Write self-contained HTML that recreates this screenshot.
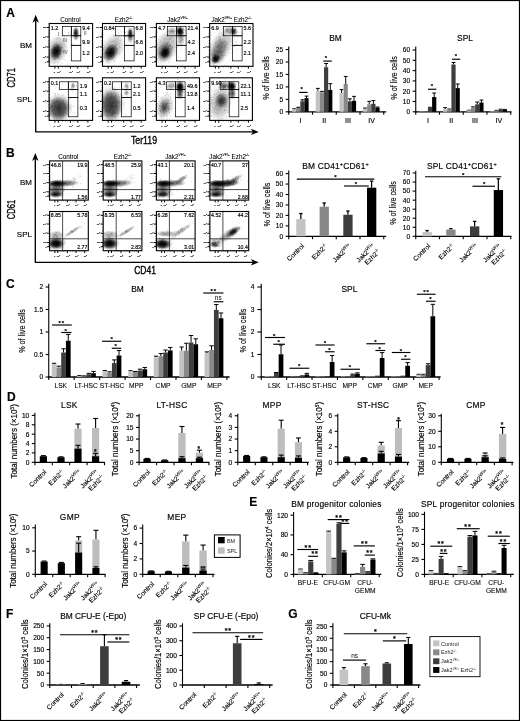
<!DOCTYPE html>
<html><head><meta charset="utf-8"><title>Figure</title>
<style>
html,body{margin:0;padding:0;background:#fff}
body{width:520px;height:721px;overflow:hidden}
svg{display:block;font-family:"Liberation Sans",sans-serif;fill:#000}
svg text{stroke:#000;stroke-width:.15px}
svg path{fill:none}
</style></head><body>
<svg width="520" height="721" viewBox="0 0 520 721">
<rect x="0" y="0" width="520" height="721" fill="#fff"/>
<rect x="0.5" y="0.5" width="519" height="720" fill="none" stroke="#000" stroke-width="1.2"/>
<defs>
<radialGradient id="gd"><stop offset="0" stop-color="#000" stop-opacity="1"/><stop offset=".45" stop-color="#000" stop-opacity=".75"/><stop offset="1" stop-color="#000" stop-opacity="0"/></radialGradient>
<radialGradient id="gm"><stop offset="0" stop-color="#000" stop-opacity=".7"/><stop offset=".5" stop-color="#000" stop-opacity=".42"/><stop offset="1" stop-color="#000" stop-opacity="0"/></radialGradient>
<radialGradient id="gl"><stop offset="0" stop-color="#000" stop-opacity=".36"/><stop offset=".6" stop-color="#000" stop-opacity=".19"/><stop offset="1" stop-color="#000" stop-opacity="0"/></radialGradient>
<radialGradient id="gf"><stop offset="0" stop-color="#000" stop-opacity=".66"/><stop offset=".55" stop-color="#000" stop-opacity=".52"/><stop offset="1" stop-color="#000" stop-opacity="0"/></radialGradient>
</defs>
<text transform="translate(6.2 16.7)" font-size="12" font-weight="bold">A</text>
<path d="M35.7 20.3L35.7 131.9" stroke="#000" stroke-width="1.35"/>
<path d="M35.7 14.7L38.9 22.7L35.7 20.46L32.5 22.7Z" style="fill:#000"/>
<path d="M35.25 131.9L253.2 131.9" stroke="#000" stroke-width="1.35"/>
<path d="M258.8 131.9L250.8 128.7L253.04 131.9L250.8 135.1Z" style="fill:#000"/>
<text transform="translate(14.6 77.8) rotate(-90) scale(.72 1)" font-size="10.6" text-anchor="middle" style="stroke-width:.35px">CD71</text>
<text transform="translate(144 143.8) scale(.88 1)" font-size="10" text-anchor="middle" style="stroke-width:.35px">Ter119</text>
<text transform="translate(26 47.9)" font-size="8" text-anchor="middle">BM</text>
<text transform="translate(24.4 102.2)" font-size="8" text-anchor="middle">SPL</text>
<text transform="translate(70.4 21.7)" font-size="6.3" text-anchor="middle" style="stroke-width:.07px">Control</text>
<text transform="translate(123.55 21.7)" font-size="6.3" text-anchor="middle" style="stroke-width:.07px">Ezh2<tspan font-size="3.4" dy="-2.6">-/-</tspan></text>
<text transform="translate(177.45 21.7)" font-size="6.3" text-anchor="middle" style="stroke-width:.07px">Jak2<tspan font-size="3.4" dy="-2.6">VF/+</tspan></text>
<text transform="translate(231.35 21.7)" font-size="6.3" text-anchor="middle" style="stroke-width:.07px">Jak2<tspan font-size="3.4" dy="-2.6">VF/+</tspan><tspan dy="2.6"> Ezh2</tspan><tspan font-size="3.4" dy="-2.6">-/-</tspan></text>
<clipPath id="c1"><rect x="49.2" y="23.5" width="43.4" height="42.8"/></clipPath>
<g clip-path="url(#c1)">
<ellipse cx="56.2" cy="51.5" rx="6.5" ry="9" fill="url(#gd)" transform="rotate(15 56.2 51.5)"/>
<ellipse cx="57" cy="50" rx="11" ry="16" fill="url(#gl)" transform="rotate(20 57 50)"/>
<ellipse cx="75.9" cy="33.6" rx="3.4" ry="7.5" fill="url(#gm)" transform="rotate(0 75.9 33.6)"/>
<ellipse cx="75.9" cy="32.8" rx="2.3" ry="4.6" fill="url(#gm)" transform="rotate(0 75.9 32.8)"/>
<path d="M58.6 58.9h.5M57.3 48.2h.5M52.7 50.7h.5M54.7 44.4h.5M56.7 52.2h.5M59.0 48.0h.5M56.3 51.2h.5M50.8 52.6h.5M54.4 62.2h.5M57.0 51.0h.5M59.8 53.4h.5M59.5 50.7h.5M55.7 56.1h.5M58.2 52.6h.5M52.3 52.5h.5M55.6 54.7h.5M55.6 56.4h.5M55.8 52.3h.5M59.6 47.3h.5M55.5 49.0h.5M62.5 52.8h.5M57.5 54.7h.5M57.1 44.5h.5M59.7 50.5h.5M60.0 46.4h.5M53.4 56.6h.5M62.2 47.0h.5M52.1 50.2h.5M58.3 52.8h.5M58.3 47.5h.5M56.7 56.8h.5M56.5 44.9h.5M52.9 54.2h.5M50.9 49.6h.5M53.2 50.1h.5M55.4 51.4h.5M60.4 54.6h.5M60.6 52.0h.5M54.3 52.7h.5M58.1 46.3h.5M58.3 49.5h.5M53.7 48.4h.5M54.3 56.8h.5M56.6 51.5h.5M59.5 44.0h.5M61.3 47.9h.5M58.9 47.0h.5M53.6 49.0h.5M61.3 56.1h.5M54.6 49.8h.5M52.6 50.4h.5M53.6 54.2h.5M52.3 48.9h.5M54.4 47.7h.5M58.3 52.6h.5M56.7 57.2h.5M61.4 46.5h.5M59.9 44.3h.5M53.8 59.8h.5M56.0 49.7h.5M56.7 51.7h.5M57.2 48.2h.5M58.6 56.3h.5M55.2 52.7h.5M57.1 56.5h.5M56.6 54.9h.5M56.6 46.6h.5M53.5 55.5h.5M59.1 53.0h.5M54.1 52.4h.5M59.8 58.8h.5M54.1 50.7h.5M53.0 45.3h.5M56.8 51.8h.5M57.8 57.8h.5M57.3 57.9h.5M55.8 46.1h.5M54.7 63.6h.5M58.7 46.8h.5M55.3 57.9h.5M52.0 54.1h.5M52.8 56.5h.5M58.3 53.5h.5M63.0 51.4h.5M51.9 59.0h.5M50.9 60.3h.5M57.3 47.0h.5M56.0 52.1h.5M57.1 50.8h.5M62.3 42.3h.5M54.8 49.9h.5M64.2 44.4h.5M56.5 46.2h.5M53.4 53.7h.5M55.8 58.1h.5M54.0 52.2h.5M58.8 56.4h.5M53.8 56.1h.5M51.2 58.6h.5M56.8 51.1h.5M56.1 55.4h.5M61.8 52.3h.5M54.4 53.7h.5M55.4 43.4h.5M59.3 50.6h.5M60.9 48.0h.5M54.8 58.6h.5M57.5 53.3h.5M58.5 50.4h.5M58.0 45.7h.5M58.8 48.4h.5M54.0 54.2h.5M60.2 47.9h.5M63.2 50.6h.5M58.7 58.7h.5M57.7 51.7h.5M63.9 60.1h.5M64.3 37.1h.5M50.0 57.3h.5M60.6 43.2h.5M54.5 46.5h.5M59.5 54.2h.5M64.4 45.7h.5M63.5 48.1h.5M50.7 62.5h.5M57.8 49.1h.5M57.0 46.7h.5M61.3 63.3h.5M60.2 52.7h.5M62.6 51.4h.5M58.2 53.9h.5M52.9 62.6h.5M62.4 63.3h.5M61.9 47.9h.5M53.8 58.5h.5M60.7 58.6h.5M57.6 50.5h.5M61.6 50.9h.5M54.1 43.6h.5M55.4 52.2h.5M72.4 44.0h.5M59.7 50.2h.5M54.9 60.7h.5M63.8 51.2h.5M57.8 38.7h.5M53.2 59.2h.5M53.7 54.8h.5M59.6 54.3h.5M62.9 51.2h.5M55.9 39.6h.5M62.8 49.0h.5M53.1 55.7h.5M61.9 47.3h.5M50.8 56.9h.5M52.6 43.0h.5M56.5 51.5h.5M56.0 52.9h.5M55.5 48.4h.5M61.8 57.2h.5M50.0 62.0h.5M57.8 58.6h.5M58.6 47.3h.5M60.6 49.6h.5M67.3 29.4h.5M61.1 44.8h.5M59.8 57.4h.5M61.9 48.3h.5M60.2 48.2h.5M58.5 49.4h.5M66.4 35.9h.5M65.4 41.2h.5M57.4 45.2h.5M53.6 50.8h.5M59.3 38.5h.5M56.0 52.7h.5M67.3 50.2h.5M51.9 44.9h.5M62.8 44.6h.5M51.8 52.8h.5M56.3 51.6h.5M56.0 42.6h.5M55.7 48.2h.5M54.1 52.6h.5M58.3 55.1h.5M61.9 44.2h.5M56.7 50.9h.5M51.6 46.2h.5M56.1 42.3h.5M57.8 37.6h.5M54.3 58.9h.5M53.1 49.4h.5M49.5 53.0h.5M70.0 44.2h.5M51.9 60.3h.5M58.6 51.6h.5M57.8 62.5h.5M61.9 46.8h.5M58.4 35.0h.5M60.1 39.7h.5M68.4 39.9h.5M64.4 49.9h.5M56.9 55.7h.5M54.9 60.1h.5M58.0 47.6h.5M57.5 37.9h.5M50.7 56.1h.5M57.5 62.0h.5M69.1 60.5h.5M63.2 41.1h.5M49.7 66.1h.5M60.1 50.0h.5M63.8 36.3h.5M56.3 38.6h.5M62.5 50.5h.5M61.5 43.1h.5M57.3 56.6h.5M60.7 64.6h.5M59.9 50.0h.5M54.4 43.9h.5M58.6 55.4h.5M52.5 62.5h.5M60.3 51.3h.5M55.8 50.2h.5M74.3 29.9h.5M76.5 31.4h.5M75.4 38.2h.5M75.6 38.5h.5M75.9 39.3h.5M76.7 27.0h.5M78.0 32.8h.5M72.6 34.0h.5M76.2 28.8h.5M74.9 35.7h.5M78.3 37.9h.5M78.0 37.8h.5M71.7 30.9h.5M76.2 23.5h.5M77.2 36.9h.5M74.6 32.2h.5M74.3 33.5h.5M75.8 33.6h.5M74.2 35.1h.5M75.3 37.2h.5M76.4 28.0h.5M73.4 33.9h.5M75.1 35.4h.5M77.3 33.7h.5M73.0 29.1h.5M76.9 29.7h.5M77.8 33.3h.5M76.8 30.3h.5M75.5 35.8h.5M74.4 30.4h.5M75.8 33.8h.5M74.5 36.1h.5M73.1 37.8h.5M73.5 30.5h.5M78.2 29.9h.5M73.1 33.9h.5M74.3 29.4h.5M74.7 30.8h.5M74.2 29.7h.5M78.6 31.1h.5M77.6 28.3h.5M76.8 28.9h.5M75.1 36.0h.5M75.0 26.2h.5M75.0 33.0h.5M76.9 29.9h.5M75.4 33.8h.5M73.1 33.2h.5M74.9 33.8h.5M75.8 32.4h.5M73.1 32.5h.5M75.5 30.6h.5M75.3 29.9h.5M76.1 34.3h.5M76.6 31.6h.5M77.8 34.8h.5M74.8 32.5h.5M74.0 32.5h.5M76.7 35.7h.5M75.4 28.7h.5M75.7 35.9h.5M76.1 35.7h.5M76.9 36.4h.5M76.6 31.3h.5M76.4 38.6h.5M75.3 28.5h.5M77.4 35.0h.5M67.8 32.5h.5M64.6 35.8h.5M70.5 32.4h.5M68.5 32.9h.5M73.7 33.5h.5M74.8 31.9h.5M67.9 32.8h.5M68.1 33.8h.5M73.6 37.0h.5M66.2 37.2h.5M70.3 38.0h.5M69.4 31.9h.5M72.8 35.6h.5M68.4 34.1h.5M70.5 34.8h.5M64.0 31.0h.5M70.2 34.6h.5" stroke="#000" stroke-width=".5" opacity=".45"/>
</g>
<rect x="49.2" y="23.5" width="43.4" height="42.8" fill="none" stroke="#000" stroke-width="1.1"/>
<path d="M46.7 27.5L49.2 27.5" stroke="#000" stroke-width="1"/>
<path d="M46.7 36.9L49.2 36.9" stroke="#000" stroke-width="1"/>
<path d="M46.7 47L49.2 47" stroke="#000" stroke-width="1"/>
<path d="M46.7 57.1L49.2 57.1" stroke="#000" stroke-width="1"/>
<path d="M46.7 61.8L49.2 61.8" stroke="#000" stroke-width="1"/>
<path d="M54.9 66.3L54.9 68.6" stroke="#000" stroke-width="1"/>
<path d="M58.3 66.3L58.3 68.6" stroke="#000" stroke-width="1"/>
<path d="M70.4 66.3L70.4 68.6" stroke="#000" stroke-width="1"/>
<path d="M77.8 66.3L77.8 68.6" stroke="#000" stroke-width="1"/>
<path d="M87.9 66.3L87.9 68.6" stroke="#000" stroke-width="1"/>
<path d="M48 30.79L49.2 30.79" stroke="#000" stroke-width=".4"/>
<path d="M48 33.14L49.2 33.14" stroke="#000" stroke-width=".4"/>
<path d="M48 35.02L49.2 35.02" stroke="#000" stroke-width=".4"/>
<path d="M48 40.44L49.2 40.44" stroke="#000" stroke-width=".4"/>
<path d="M48 42.96L49.2 42.96" stroke="#000" stroke-width=".4"/>
<path d="M48 44.98L49.2 44.98" stroke="#000" stroke-width=".4"/>
<path d="M48 50.53L49.2 50.53" stroke="#000" stroke-width=".4"/>
<path d="M48 53.06L49.2 53.06" stroke="#000" stroke-width=".4"/>
<path d="M48 55.08L49.2 55.08" stroke="#000" stroke-width=".4"/>
<path d="M48 58.74L49.2 58.74" stroke="#000" stroke-width=".4"/>
<path d="M48 59.92L49.2 59.92" stroke="#000" stroke-width=".4"/>
<path d="M48 60.86L49.2 60.86" stroke="#000" stroke-width=".4"/>
<path d="M62.54 66.3L62.54 67.5" stroke="#000" stroke-width=".4"/>
<path d="M65.56 66.3L65.56 67.5" stroke="#000" stroke-width=".4"/>
<path d="M67.98 66.3L67.98 67.5" stroke="#000" stroke-width=".4"/>
<path d="M72.99 66.3L72.99 67.5" stroke="#000" stroke-width=".4"/>
<path d="M74.84 66.3L74.84 67.5" stroke="#000" stroke-width=".4"/>
<path d="M76.32 66.3L76.32 67.5" stroke="#000" stroke-width=".4"/>
<path d="M81.34 66.3L81.34 67.5" stroke="#000" stroke-width=".4"/>
<path d="M83.86 66.3L83.86 67.5" stroke="#000" stroke-width=".4"/>
<path d="M85.88 66.3L85.88 67.5" stroke="#000" stroke-width=".4"/>
<text transform="translate(46.2 28.4)" font-size="2.4" text-anchor="end" style="fill:#222;stroke:#222">10<tspan font-size="1.6" dy="-.9">5</tspan></text>
<text transform="translate(46.2 37.8)" font-size="2.4" text-anchor="end" style="fill:#222;stroke:#222">10<tspan font-size="1.6" dy="-.9">4</tspan></text>
<text transform="translate(46.2 47.9)" font-size="2.4" text-anchor="end" style="fill:#222;stroke:#222">10<tspan font-size="1.6" dy="-.9">3</tspan></text>
<text transform="translate(46.2 58)" font-size="2.4" text-anchor="end" style="fill:#222;stroke:#222">10<tspan font-size="1.6" dy="-.9">2</tspan></text>
<text transform="translate(46.2 62.7)" font-size="2.4" text-anchor="end" style="fill:#222;stroke:#222">0</text>
<text transform="translate(54.5 72.5)" font-size="2.4" text-anchor="middle" style="fill:#222;stroke:#222">0</text>
<text transform="translate(58.9 72.5)" font-size="2.4" text-anchor="middle" style="fill:#222;stroke:#222">10<tspan font-size="1.6" dy="-.9">2</tspan></text>
<text transform="translate(71 72.5)" font-size="2.4" text-anchor="middle" style="fill:#222;stroke:#222">10<tspan font-size="1.6" dy="-.9">3</tspan></text>
<text transform="translate(78.4 72.5)" font-size="2.4" text-anchor="middle" style="fill:#222;stroke:#222">10<tspan font-size="1.6" dy="-.9">4</tspan></text>
<text transform="translate(88.5 72.5)" font-size="2.4" text-anchor="middle" style="fill:#222;stroke:#222">10<tspan font-size="1.6" dy="-.9">5</tspan></text>
<rect x="62.3" y="26.4" width="9" height="9.4" fill="none" stroke="#000" stroke-width=".7"/>
<rect x="71.3" y="26.4" width="9.5" height="9.4" fill="none" stroke="#000" stroke-width=".7"/>
<rect x="71.3" y="35.8" width="9.5" height="9.5" fill="none" stroke="#000" stroke-width=".7"/>
<rect x="71.3" y="45.3" width="9.5" height="15.6" fill="none" stroke="#000" stroke-width=".7"/>
<text transform="translate(50.8 30.1)" font-size="5.4">1.2</text>
<text transform="translate(82.3 30.1)" font-size="5.4">9.4</text>
<text transform="translate(82.3 43.5)" font-size="5.4">9.9</text>
<text transform="translate(82.3 55.2)" font-size="5.4">1.2</text>
<clipPath id="c2"><rect x="102.5" y="23.5" width="43.1" height="42.8"/></clipPath>
<g clip-path="url(#c2)">
<ellipse cx="110.5" cy="52.5" rx="7" ry="9.5" fill="url(#gd)" transform="rotate(30 110.5 52.5)"/>
<ellipse cx="112" cy="49" rx="11" ry="17" fill="url(#gl)" transform="rotate(30 112 49)"/>
<ellipse cx="130.3" cy="35" rx="3.5" ry="8" fill="url(#gm)" transform="rotate(0 130.3 35)"/>
<ellipse cx="130.3" cy="33.6" rx="2.4" ry="5" fill="url(#gm)" transform="rotate(0 130.3 33.6)"/>
<path d="M119.2 53.9h.5M111.3 53.8h.5M116.4 48.2h.5M111.0 48.7h.5M109.2 47.1h.5M109.6 50.4h.5M106.7 52.6h.5M116.4 38.4h.5M115.0 53.0h.5M107.6 52.3h.5M111.1 53.1h.5M107.5 51.8h.5M107.2 49.4h.5M110.0 53.4h.5M108.6 54.1h.5M111.0 49.7h.5M117.4 50.4h.5M115.0 43.2h.5M115.1 45.5h.5M112.6 52.9h.5M114.4 46.1h.5M106.2 51.6h.5M103.3 49.1h.5M104.8 49.2h.5M102.8 57.1h.5M114.8 51.4h.5M106.5 45.1h.5M112.6 47.5h.5M108.9 56.4h.5M111.3 49.8h.5M113.5 51.9h.5M113.8 51.9h.5M116.1 53.4h.5M106.9 50.3h.5M110.7 46.7h.5M108.2 54.6h.5M103.9 47.7h.5M110.3 50.9h.5M116.0 47.7h.5M113.0 52.0h.5M111.3 51.0h.5M110.7 49.0h.5M106.6 61.3h.5M111.6 57.3h.5M113.3 50.8h.5M107.3 61.6h.5M104.5 53.1h.5M112.9 54.9h.5M109.5 59.2h.5M114.1 61.4h.5M114.7 56.3h.5M112.6 54.3h.5M112.5 50.7h.5M109.0 59.4h.5M109.4 52.9h.5M112.3 53.4h.5M112.7 54.9h.5M109.4 45.9h.5M111.2 56.1h.5M113.2 55.2h.5M114.9 46.1h.5M117.0 50.9h.5M116.4 49.4h.5M108.1 51.8h.5M110.8 48.7h.5M111.6 56.7h.5M112.5 51.6h.5M109.1 48.9h.5M108.9 51.3h.5M113.2 53.0h.5M109.5 48.4h.5M114.0 55.3h.5M110.5 54.0h.5M112.0 54.0h.5M112.1 57.9h.5M122.5 52.3h.5M108.3 57.1h.5M107.3 58.0h.5M109.6 45.1h.5M111.7 49.1h.5M105.9 52.9h.5M111.3 53.0h.5M108.6 52.9h.5M111.9 49.3h.5M111.2 54.9h.5M109.1 55.5h.5M107.5 50.0h.5M105.7 57.1h.5M107.0 62.1h.5M116.1 53.7h.5M106.0 52.6h.5M110.0 51.4h.5M105.9 53.1h.5M110.1 54.5h.5M113.6 49.3h.5M104.4 47.5h.5M109.8 49.2h.5M113.6 53.8h.5M114.6 55.9h.5M111.4 55.8h.5M115.9 48.7h.5M113.5 54.9h.5M106.1 53.3h.5M108.5 58.4h.5M111.8 55.3h.5M113.2 58.3h.5M109.0 58.3h.5M106.2 53.9h.5M112.9 48.4h.5M110.8 54.6h.5M113.4 59.4h.5M110.3 41.6h.5M112.5 47.2h.5M113.7 35.7h.5M116.0 39.9h.5M105.0 53.4h.5M116.3 44.1h.5M107.4 44.5h.5M122.4 50.0h.5M123.6 48.0h.5M108.0 53.5h.5M108.1 47.3h.5M102.7 50.1h.5M120.3 47.4h.5M114.6 46.5h.5M111.5 56.8h.5M113.1 51.3h.5M131.1 42.1h.5M112.3 45.0h.5M108.1 53.5h.5M114.2 37.2h.5M104.7 49.3h.5M113.1 57.6h.5M121.8 49.6h.5M113.8 56.8h.5M114.4 43.0h.5M119.1 46.4h.5M114.7 41.0h.5M120.5 53.4h.5M110.7 45.8h.5M110.5 49.0h.5M108.8 35.7h.5M109.8 58.4h.5M106.7 47.0h.5M118.9 30.6h.5M115.1 40.1h.5M117.0 49.8h.5M118.0 38.1h.5M121.0 35.0h.5M107.2 59.7h.5M102.6 51.9h.5M119.6 51.4h.5M117.0 52.7h.5M118.2 32.8h.5M113.2 35.1h.5M122.2 57.4h.5M116.9 38.5h.5M125.1 45.2h.5M114.5 61.1h.5M115.2 44.3h.5M117.4 39.1h.5M107.9 63.2h.5M111.8 59.2h.5M107.4 49.3h.5M109.0 42.8h.5M112.2 49.4h.5M113.6 36.1h.5M104.3 45.9h.5M107.2 52.9h.5M110.9 48.3h.5M115.6 59.0h.5M109.4 62.0h.5M117.3 42.3h.5M114.9 35.3h.5M115.4 47.0h.5M110.9 56.6h.5M107.3 48.1h.5M117.7 53.1h.5M117.3 50.1h.5M108.4 44.7h.5M103.8 57.5h.5M105.6 46.5h.5M114.5 48.4h.5M117.1 44.5h.5M112.9 35.6h.5M112.8 41.4h.5M114.7 46.9h.5M112.0 41.7h.5M104.5 41.0h.5M119.7 40.2h.5M107.9 53.3h.5M107.8 48.5h.5M113.6 61.7h.5M105.9 51.9h.5M109.7 51.2h.5M108.5 48.6h.5M107.0 49.0h.5M126.4 43.7h.5M103.5 49.1h.5M117.4 48.4h.5M113.0 53.8h.5M108.7 60.8h.5M106.0 52.1h.5M115.9 44.4h.5M120.0 40.7h.5M119.3 48.0h.5M117.4 29.8h.5M118.7 36.5h.5M126.9 40.8h.5M124.1 28.7h.5M104.6 57.9h.5M113.4 41.6h.5M108.1 50.4h.5M117.3 49.7h.5M112.1 50.7h.5M106.1 53.1h.5M124.9 46.4h.5M116.9 41.4h.5M109.5 45.6h.5M118.0 44.0h.5M104.6 58.4h.5M111.4 55.6h.5M114.8 48.6h.5M111.8 54.0h.5M107.5 56.7h.5M108.1 55.7h.5M108.9 54.5h.5M111.2 42.8h.5M131.2 35.8h.5M131.4 31.6h.5M130.5 32.9h.5M127.0 33.9h.5M128.7 40.8h.5M129.0 32.4h.5M132.0 34.9h.5M127.9 35.9h.5M128.9 42.0h.5M128.4 31.9h.5M125.4 32.2h.5M133.6 34.5h.5M128.6 36.2h.5M129.8 34.8h.5M134.8 43.2h.5M133.2 41.8h.5M128.6 27.0h.5M131.6 36.6h.5M130.4 34.5h.5M131.6 37.3h.5M130.8 37.0h.5M129.9 33.5h.5M132.8 34.0h.5M133.9 37.6h.5M130.4 39.6h.5M129.4 34.2h.5M129.7 35.0h.5M131.5 43.5h.5M131.2 30.6h.5M128.8 27.6h.5M131.6 38.6h.5M130.9 36.5h.5M131.2 36.7h.5M131.5 35.9h.5M128.5 38.8h.5M132.7 28.3h.5M129.9 30.3h.5M131.2 33.8h.5M132.8 39.5h.5M129.5 33.0h.5M129.2 37.3h.5M128.6 36.8h.5M127.8 39.3h.5M131.1 30.2h.5M128.9 35.6h.5M130.7 41.2h.5M129.5 29.4h.5M132.5 36.0h.5M130.6 37.5h.5M128.1 32.2h.5M128.3 30.3h.5M129.7 30.7h.5M133.2 37.0h.5M131.8 28.2h.5M129.9 34.4h.5M130.6 36.8h.5M128.9 31.2h.5M131.5 39.4h.5M132.8 32.9h.5M129.3 34.1h.5M130.9 38.1h.5M130.0 31.7h.5M131.6 31.7h.5M129.2 35.0h.5M130.1 30.9h.5M130.0 32.5h.5M130.0 31.7h.5M131.0 32.7h.5M129.6 36.3h.5M129.2 35.5h.5M131.0 32.8h.5M130.6 29.8h.5M130.6 30.9h.5M129.2 34.2h.5M129.4 33.9h.5M125.2 36.6h.5M125.2 36.6h.5M121.7 33.0h.5M126.0 37.0h.5M125.4 32.6h.5M120.7 31.6h.5M127.4 31.5h.5M123.3 35.6h.5M125.3 32.2h.5M130.0 34.4h.5M124.8 36.1h.5M123.0 35.7h.5M123.6 31.7h.5" stroke="#000" stroke-width=".5" opacity=".45"/>
</g>
<rect x="102.5" y="23.5" width="43.1" height="42.8" fill="none" stroke="#000" stroke-width="1.1"/>
<path d="M100 27.5L102.5 27.5" stroke="#000" stroke-width="1"/>
<path d="M100 36.9L102.5 36.9" stroke="#000" stroke-width="1"/>
<path d="M100 47L102.5 47" stroke="#000" stroke-width="1"/>
<path d="M100 57.1L102.5 57.1" stroke="#000" stroke-width="1"/>
<path d="M100 61.8L102.5 61.8" stroke="#000" stroke-width="1"/>
<path d="M108.2 66.3L108.2 68.6" stroke="#000" stroke-width="1"/>
<path d="M111.6 66.3L111.6 68.6" stroke="#000" stroke-width="1"/>
<path d="M123.7 66.3L123.7 68.6" stroke="#000" stroke-width="1"/>
<path d="M131.1 66.3L131.1 68.6" stroke="#000" stroke-width="1"/>
<path d="M141.2 66.3L141.2 68.6" stroke="#000" stroke-width="1"/>
<path d="M101.3 30.79L102.5 30.79" stroke="#000" stroke-width=".4"/>
<path d="M101.3 33.14L102.5 33.14" stroke="#000" stroke-width=".4"/>
<path d="M101.3 35.02L102.5 35.02" stroke="#000" stroke-width=".4"/>
<path d="M101.3 40.44L102.5 40.44" stroke="#000" stroke-width=".4"/>
<path d="M101.3 42.96L102.5 42.96" stroke="#000" stroke-width=".4"/>
<path d="M101.3 44.98L102.5 44.98" stroke="#000" stroke-width=".4"/>
<path d="M101.3 50.53L102.5 50.53" stroke="#000" stroke-width=".4"/>
<path d="M101.3 53.06L102.5 53.06" stroke="#000" stroke-width=".4"/>
<path d="M101.3 55.08L102.5 55.08" stroke="#000" stroke-width=".4"/>
<path d="M101.3 58.74L102.5 58.74" stroke="#000" stroke-width=".4"/>
<path d="M101.3 59.92L102.5 59.92" stroke="#000" stroke-width=".4"/>
<path d="M101.3 60.86L102.5 60.86" stroke="#000" stroke-width=".4"/>
<path d="M115.83 66.3L115.83 67.5" stroke="#000" stroke-width=".4"/>
<path d="M118.86 66.3L118.86 67.5" stroke="#000" stroke-width=".4"/>
<path d="M121.28 66.3L121.28 67.5" stroke="#000" stroke-width=".4"/>
<path d="M126.29 66.3L126.29 67.5" stroke="#000" stroke-width=".4"/>
<path d="M128.14 66.3L128.14 67.5" stroke="#000" stroke-width=".4"/>
<path d="M129.62 66.3L129.62 67.5" stroke="#000" stroke-width=".4"/>
<path d="M134.63 66.3L134.63 67.5" stroke="#000" stroke-width=".4"/>
<path d="M137.16 66.3L137.16 67.5" stroke="#000" stroke-width=".4"/>
<path d="M139.18 66.3L139.18 67.5" stroke="#000" stroke-width=".4"/>
<text transform="translate(99.5 28.4)" font-size="2.4" text-anchor="end" style="fill:#222;stroke:#222">10<tspan font-size="1.6" dy="-.9">5</tspan></text>
<text transform="translate(99.5 37.8)" font-size="2.4" text-anchor="end" style="fill:#222;stroke:#222">10<tspan font-size="1.6" dy="-.9">4</tspan></text>
<text transform="translate(99.5 47.9)" font-size="2.4" text-anchor="end" style="fill:#222;stroke:#222">10<tspan font-size="1.6" dy="-.9">3</tspan></text>
<text transform="translate(99.5 58)" font-size="2.4" text-anchor="end" style="fill:#222;stroke:#222">10<tspan font-size="1.6" dy="-.9">2</tspan></text>
<text transform="translate(99.5 62.7)" font-size="2.4" text-anchor="end" style="fill:#222;stroke:#222">0</text>
<text transform="translate(107.8 72.5)" font-size="2.4" text-anchor="middle" style="fill:#222;stroke:#222">0</text>
<text transform="translate(112.2 72.5)" font-size="2.4" text-anchor="middle" style="fill:#222;stroke:#222">10<tspan font-size="1.6" dy="-.9">2</tspan></text>
<text transform="translate(124.3 72.5)" font-size="2.4" text-anchor="middle" style="fill:#222;stroke:#222">10<tspan font-size="1.6" dy="-.9">3</tspan></text>
<text transform="translate(131.7 72.5)" font-size="2.4" text-anchor="middle" style="fill:#222;stroke:#222">10<tspan font-size="1.6" dy="-.9">4</tspan></text>
<text transform="translate(141.8 72.5)" font-size="2.4" text-anchor="middle" style="fill:#222;stroke:#222">10<tspan font-size="1.6" dy="-.9">5</tspan></text>
<rect x="115.6" y="26.4" width="9" height="9.4" fill="none" stroke="#000" stroke-width=".7"/>
<rect x="124.6" y="26.4" width="9.5" height="9.4" fill="none" stroke="#000" stroke-width=".7"/>
<rect x="124.6" y="35.8" width="9.5" height="9.5" fill="none" stroke="#000" stroke-width=".7"/>
<rect x="124.6" y="45.3" width="9.5" height="15.6" fill="none" stroke="#000" stroke-width=".7"/>
<text transform="translate(104.1 30.1)" font-size="5.4">0.84</text>
<text transform="translate(135.6 30.1)" font-size="5.4">6.8</text>
<text transform="translate(135.6 43.5)" font-size="5.4">6.6</text>
<text transform="translate(135.6 55.2)" font-size="5.4">2.0</text>
<clipPath id="c3"><rect x="156.4" y="23.5" width="43.1" height="42.8"/></clipPath>
<g clip-path="url(#c3)">
<ellipse cx="165" cy="52.8" rx="5" ry="6" fill="url(#gd)" transform="rotate(20 165 52.8)"/>
<ellipse cx="165" cy="52" rx="8" ry="10" fill="url(#gm)" transform="rotate(20 165 52)"/>
<ellipse cx="166" cy="47" rx="12" ry="19" fill="url(#gl)" transform="rotate(25 166 47)"/>
<ellipse cx="180" cy="31.3" rx="4.6" ry="5.4" fill="url(#gd)" transform="rotate(0 180 31.3)"/>
<ellipse cx="180" cy="31.3" rx="3" ry="3.5" fill="url(#gm)" transform="rotate(0 180 31.3)"/>
<ellipse cx="181" cy="38" rx="4" ry="9" fill="url(#gl)" transform="rotate(0 181 38)"/>
<ellipse cx="172" cy="31" rx="5" ry="4" fill="url(#gl)" transform="rotate(0 172 31)"/>
<path d="M163.9 56.4h.5M161.8 54.8h.5M164.7 51.8h.5M169.3 54.9h.5M164.2 54.8h.5M167.7 53.7h.5M167.4 50.6h.5M164.6 51.3h.5M163.4 47.4h.5M161.4 50.7h.5M164.9 51.7h.5M166.5 49.1h.5M164.6 53.4h.5M167.6 51.1h.5M166.1 46.8h.5M166.1 46.2h.5M160.5 54.7h.5M159.0 53.2h.5M166.1 52.2h.5M165.5 54.7h.5M167.7 53.0h.5M164.2 50.6h.5M162.7 51.8h.5M162.1 55.1h.5M161.7 48.1h.5M164.9 46.1h.5M171.9 47.6h.5M164.9 51.1h.5M170.9 48.6h.5M168.3 51.7h.5M165.3 50.8h.5M167.7 50.1h.5M164.5 53.7h.5M171.8 47.6h.5M167.6 56.8h.5M163.6 53.2h.5M162.2 57.0h.5M165.7 52.4h.5M164.7 52.0h.5M165.5 50.2h.5M171.8 49.2h.5M156.7 49.4h.5M164.3 53.7h.5M164.7 52.2h.5M164.8 55.8h.5M164.3 51.4h.5M169.0 56.0h.5M160.3 58.5h.5M167.4 51.8h.5M161.9 52.6h.5M164.1 49.1h.5M162.5 50.3h.5M168.0 52.5h.5M160.9 53.4h.5M163.8 56.1h.5M169.8 52.9h.5M164.5 51.6h.5M159.6 53.6h.5M169.9 54.7h.5M164.6 50.5h.5M163.4 47.2h.5M164.9 47.5h.5M166.1 44.0h.5M166.2 52.7h.5M164.6 39.6h.5M163.1 57.2h.5M163.1 48.7h.5M161.7 54.3h.5M159.9 55.4h.5M162.3 55.9h.5M165.5 51.0h.5M160.6 46.7h.5M162.9 54.7h.5M167.1 49.1h.5M164.9 57.2h.5M165.2 49.7h.5M162.1 55.3h.5M168.6 48.4h.5M167.2 50.3h.5M160.1 56.8h.5M169.3 49.7h.5M164.4 54.5h.5M162.8 50.6h.5M170.6 44.5h.5M165.0 55.9h.5M169.2 46.4h.5M167.7 48.4h.5M166.1 55.6h.5M167.1 48.7h.5M161.3 55.2h.5M160.8 53.1h.5M167.4 51.4h.5M173.9 55.6h.5M176.5 45.5h.5M167.9 51.4h.5M168.1 43.0h.5M164.4 46.3h.5M162.7 55.9h.5M164.6 53.8h.5M163.1 49.0h.5M165.9 50.8h.5M171.3 49.6h.5M173.8 50.0h.5M170.3 49.8h.5M171.0 54.9h.5M165.2 56.0h.5M164.4 46.2h.5M163.4 48.3h.5M161.5 61.3h.5M158.1 50.8h.5M162.6 54.0h.5M158.9 47.7h.5M165.5 60.5h.5M172.5 50.2h.5M165.4 51.6h.5M162.3 43.3h.5M167.4 54.2h.5M162.4 57.5h.5M160.3 53.1h.5M165.1 51.7h.5M166.5 53.5h.5M165.5 53.6h.5M172.8 53.2h.5M167.8 56.2h.5M162.3 55.3h.5M159.8 56.3h.5M162.8 48.6h.5M164.8 56.4h.5M166.9 57.4h.5M165.9 47.2h.5M166.6 54.2h.5M159.8 55.3h.5M167.4 47.8h.5M168.9 46.4h.5M161.0 52.7h.5M159.1 50.0h.5M158.7 53.6h.5M162.0 51.9h.5M159.9 48.3h.5M167.8 55.4h.5M156.5 53.8h.5M169.0 51.5h.5M178.0 41.5h.5M161.1 56.4h.5M168.0 61.3h.5M167.2 28.9h.5M173.9 35.7h.5M170.4 35.6h.5M168.5 56.6h.5M169.0 48.6h.5M167.4 44.6h.5M167.1 50.1h.5M170.2 44.5h.5M175.2 54.2h.5M168.2 62.0h.5M168.0 30.2h.5M174.4 46.9h.5M167.5 45.0h.5M171.5 37.1h.5M167.3 42.7h.5M175.3 26.9h.5M169.1 51.9h.5M159.6 36.3h.5M163.6 52.5h.5M160.4 58.9h.5M170.1 38.4h.5M159.3 51.7h.5M159.3 52.7h.5M169.2 54.7h.5M172.2 48.1h.5M168.3 41.9h.5M169.0 32.0h.5M167.3 36.4h.5M157.6 44.6h.5M169.8 45.2h.5M169.7 58.6h.5M174.1 44.5h.5M164.8 54.0h.5M163.2 58.9h.5M161.8 52.0h.5M170.4 24.8h.5M157.6 58.8h.5M163.9 41.8h.5M165.4 48.9h.5M160.2 45.6h.5M165.1 55.3h.5M158.0 45.1h.5M173.6 38.5h.5M156.6 44.6h.5M172.6 41.8h.5M174.7 24.6h.5M161.6 46.5h.5M160.5 61.0h.5M168.8 24.7h.5M170.8 43.1h.5M164.7 53.9h.5M163.5 60.9h.5M180.0 36.1h.5M157.6 64.1h.5M159.9 54.3h.5M167.4 43.2h.5M170.4 60.0h.5M161.0 54.2h.5M161.8 37.4h.5M170.7 49.6h.5M158.4 48.2h.5M162.6 58.9h.5M172.3 47.1h.5M163.9 44.6h.5M158.9 59.0h.5M169.2 62.7h.5M169.0 45.9h.5M172.3 46.3h.5M174.0 33.3h.5M157.9 58.3h.5M166.4 31.6h.5M158.4 60.9h.5M175.3 47.6h.5M163.8 44.8h.5M160.8 44.9h.5M170.3 33.5h.5M163.9 43.3h.5M165.8 35.2h.5M163.3 65.6h.5M166.1 42.6h.5M169.7 46.3h.5M163.3 38.1h.5M165.9 37.7h.5M162.4 51.4h.5M171.2 56.4h.5M171.2 36.3h.5M169.4 38.7h.5M161.5 55.2h.5M168.0 45.7h.5M162.0 44.9h.5M170.3 39.3h.5M159.7 53.3h.5M158.7 39.0h.5M167.2 53.0h.5M167.0 50.5h.5M174.0 34.1h.5M165.0 52.8h.5M175.7 35.6h.5M164.7 43.2h.5M161.6 49.0h.5M160.0 41.8h.5M164.3 53.8h.5M167.2 45.0h.5M177.7 31.6h.5M172.3 46.7h.5M160.9 40.1h.5M164.2 24.7h.5M167.3 39.5h.5M173.5 41.2h.5M162.8 35.5h.5M175.2 51.6h.5M166.6 36.9h.5M160.7 42.8h.5M163.7 58.0h.5M171.1 52.2h.5M165.9 37.9h.5M157.5 32.4h.5M169.6 45.1h.5M173.4 36.3h.5M169.7 51.8h.5M164.6 50.6h.5M167.0 42.2h.5M174.9 40.1h.5M176.6 44.6h.5M169.4 39.0h.5M179.1 30.4h.5M173.0 41.7h.5M170.9 37.2h.5M166.5 49.2h.5M167.9 51.2h.5M165.4 57.1h.5M168.6 35.9h.5M159.7 55.1h.5M170.3 38.4h.5M163.1 66.0h.5M168.8 38.5h.5M157.8 52.5h.5M164.4 42.0h.5M169.7 48.8h.5M168.8 42.6h.5M161.9 46.8h.5M164.5 52.5h.5M161.9 48.7h.5M168.3 48.9h.5M165.0 57.2h.5M166.8 48.2h.5M159.4 47.4h.5M166.7 44.1h.5M159.2 49.8h.5M178.2 57.2h.5M164.7 51.0h.5M162.4 46.3h.5M165.0 39.8h.5M166.3 49.6h.5M168.6 39.9h.5M171.8 38.3h.5M171.6 46.0h.5M162.8 53.8h.5M174.2 37.3h.5M163.2 49.5h.5M169.7 23.5h.5M165.8 46.4h.5M168.0 48.8h.5M165.8 49.4h.5M171.5 54.7h.5M170.5 45.0h.5M172.9 48.2h.5M178.5 30.7h.5M167.7 46.8h.5M158.3 56.9h.5M168.8 46.8h.5M167.4 54.5h.5M156.6 56.3h.5M170.1 46.1h.5M179.8 26.9h.5M181.5 28.4h.5M181.9 30.1h.5M178.6 32.3h.5M180.5 28.3h.5M179.8 32.9h.5M179.4 27.7h.5M179.4 28.7h.5M178.7 31.4h.5M179.9 30.7h.5M176.2 32.2h.5M179.5 30.2h.5M180.4 36.5h.5M177.0 27.0h.5M181.7 29.2h.5M183.0 28.7h.5M178.9 33.5h.5M182.1 32.5h.5M181.0 31.0h.5M179.0 30.8h.5M182.9 33.2h.5M180.0 32.2h.5M181.9 34.5h.5M179.7 31.1h.5M180.8 38.3h.5M180.6 34.7h.5M176.5 33.6h.5M176.8 28.4h.5M178.6 30.9h.5M180.4 32.3h.5M180.5 30.1h.5M185.9 32.4h.5M181.5 36.7h.5M182.2 32.9h.5M180.7 36.3h.5M177.5 28.7h.5M180.3 25.8h.5M178.2 34.3h.5M178.9 31.7h.5M181.6 28.2h.5M180.6 29.6h.5M177.5 30.6h.5M179.9 30.2h.5M178.5 33.9h.5M182.6 32.8h.5M179.8 28.5h.5M178.1 28.3h.5M180.5 33.7h.5M182.1 31.2h.5M179.1 31.8h.5M180.3 32.9h.5M183.4 29.5h.5M184.8 25.7h.5M175.9 27.3h.5M177.7 30.7h.5M184.7 29.4h.5M182.5 30.3h.5M180.3 28.6h.5M185.2 31.2h.5M178.6 37.4h.5M180.4 32.4h.5M179.7 29.1h.5M176.7 30.8h.5M183.7 32.4h.5M179.6 34.1h.5M177.9 35.0h.5M180.0 29.1h.5M181.5 32.7h.5M179.2 31.9h.5M182.2 35.1h.5M178.1 24.3h.5M184.7 30.6h.5M179.0 32.4h.5M179.0 34.1h.5M177.2 30.8h.5M177.1 35.4h.5M179.4 34.2h.5M183.2 28.1h.5M179.5 33.2h.5M180.1 30.9h.5M181.9 33.7h.5M178.7 30.9h.5M181.5 31.9h.5M180.3 28.3h.5M184.0 30.7h.5M180.6 31.2h.5M180.1 31.7h.5M178.1 32.3h.5M182.7 32.4h.5M181.7 32.6h.5M181.1 46.1h.5M179.6 39.7h.5M183.0 39.3h.5M178.9 33.2h.5M184.1 33.7h.5M181.0 40.4h.5M181.2 30.1h.5M177.2 37.5h.5M179.5 36.8h.5M181.2 38.7h.5M178.3 30.5h.5M182.9 35.2h.5M178.7 29.1h.5M182.1 32.4h.5M178.9 40.8h.5M181.6 40.5h.5M178.5 25.2h.5M179.0 36.7h.5M179.7 42.0h.5M181.7 33.3h.5M182.1 37.3h.5M180.0 43.0h.5M177.7 42.6h.5M183.2 28.8h.5M180.6 37.3h.5M178.7 35.4h.5M179.4 38.3h.5M179.9 28.4h.5M183.4 42.0h.5M179.3 41.9h.5M185.0 31.0h.5M180.2 35.7h.5M182.1 36.6h.5M178.2 43.7h.5M180.4 41.3h.5M185.6 34.7h.5M180.2 42.1h.5M180.8 40.3h.5M181.0 50.6h.5M182.3 39.6h.5M181.3 39.7h.5M177.7 36.8h.5M182.5 32.6h.5M181.1 37.6h.5M180.0 49.2h.5M173.8 31.7h.5M170.0 31.2h.5M171.3 30.8h.5M172.6 36.0h.5M175.3 34.4h.5M175.4 36.7h.5M170.4 28.4h.5M172.5 31.5h.5M172.1 29.8h.5M173.7 34.5h.5M172.6 30.6h.5M175.0 30.4h.5M171.1 31.6h.5M166.3 34.8h.5M171.7 32.0h.5M172.8 31.8h.5M168.7 34.6h.5M173.4 31.6h.5M179.9 28.5h.5M173.9 30.8h.5M168.3 34.9h.5M168.1 31.3h.5M171.8 31.4h.5M169.7 33.7h.5M172.6 28.5h.5M169.0 31.6h.5M169.1 31.9h.5" stroke="#000" stroke-width=".5" opacity=".45"/>
</g>
<rect x="156.4" y="23.5" width="43.1" height="42.8" fill="none" stroke="#000" stroke-width="1.1"/>
<path d="M153.9 27.5L156.4 27.5" stroke="#000" stroke-width="1"/>
<path d="M153.9 36.9L156.4 36.9" stroke="#000" stroke-width="1"/>
<path d="M153.9 47L156.4 47" stroke="#000" stroke-width="1"/>
<path d="M153.9 57.1L156.4 57.1" stroke="#000" stroke-width="1"/>
<path d="M153.9 61.8L156.4 61.8" stroke="#000" stroke-width="1"/>
<path d="M162.1 66.3L162.1 68.6" stroke="#000" stroke-width="1"/>
<path d="M165.5 66.3L165.5 68.6" stroke="#000" stroke-width="1"/>
<path d="M177.6 66.3L177.6 68.6" stroke="#000" stroke-width="1"/>
<path d="M185 66.3L185 68.6" stroke="#000" stroke-width="1"/>
<path d="M195.1 66.3L195.1 68.6" stroke="#000" stroke-width="1"/>
<path d="M155.2 30.79L156.4 30.79" stroke="#000" stroke-width=".4"/>
<path d="M155.2 33.14L156.4 33.14" stroke="#000" stroke-width=".4"/>
<path d="M155.2 35.02L156.4 35.02" stroke="#000" stroke-width=".4"/>
<path d="M155.2 40.44L156.4 40.44" stroke="#000" stroke-width=".4"/>
<path d="M155.2 42.96L156.4 42.96" stroke="#000" stroke-width=".4"/>
<path d="M155.2 44.98L156.4 44.98" stroke="#000" stroke-width=".4"/>
<path d="M155.2 50.53L156.4 50.53" stroke="#000" stroke-width=".4"/>
<path d="M155.2 53.06L156.4 53.06" stroke="#000" stroke-width=".4"/>
<path d="M155.2 55.08L156.4 55.08" stroke="#000" stroke-width=".4"/>
<path d="M155.2 58.74L156.4 58.74" stroke="#000" stroke-width=".4"/>
<path d="M155.2 59.92L156.4 59.92" stroke="#000" stroke-width=".4"/>
<path d="M155.2 60.86L156.4 60.86" stroke="#000" stroke-width=".4"/>
<path d="M169.73 66.3L169.73 67.5" stroke="#000" stroke-width=".4"/>
<path d="M172.76 66.3L172.76 67.5" stroke="#000" stroke-width=".4"/>
<path d="M175.18 66.3L175.18 67.5" stroke="#000" stroke-width=".4"/>
<path d="M180.19 66.3L180.19 67.5" stroke="#000" stroke-width=".4"/>
<path d="M182.04 66.3L182.04 67.5" stroke="#000" stroke-width=".4"/>
<path d="M183.52 66.3L183.52 67.5" stroke="#000" stroke-width=".4"/>
<path d="M188.53 66.3L188.53 67.5" stroke="#000" stroke-width=".4"/>
<path d="M191.06 66.3L191.06 67.5" stroke="#000" stroke-width=".4"/>
<path d="M193.08 66.3L193.08 67.5" stroke="#000" stroke-width=".4"/>
<text transform="translate(153.4 28.4)" font-size="2.4" text-anchor="end" style="fill:#222;stroke:#222">10<tspan font-size="1.6" dy="-.9">5</tspan></text>
<text transform="translate(153.4 37.8)" font-size="2.4" text-anchor="end" style="fill:#222;stroke:#222">10<tspan font-size="1.6" dy="-.9">4</tspan></text>
<text transform="translate(153.4 47.9)" font-size="2.4" text-anchor="end" style="fill:#222;stroke:#222">10<tspan font-size="1.6" dy="-.9">3</tspan></text>
<text transform="translate(153.4 58)" font-size="2.4" text-anchor="end" style="fill:#222;stroke:#222">10<tspan font-size="1.6" dy="-.9">2</tspan></text>
<text transform="translate(153.4 62.7)" font-size="2.4" text-anchor="end" style="fill:#222;stroke:#222">0</text>
<text transform="translate(161.7 72.5)" font-size="2.4" text-anchor="middle" style="fill:#222;stroke:#222">0</text>
<text transform="translate(166.1 72.5)" font-size="2.4" text-anchor="middle" style="fill:#222;stroke:#222">10<tspan font-size="1.6" dy="-.9">2</tspan></text>
<text transform="translate(178.2 72.5)" font-size="2.4" text-anchor="middle" style="fill:#222;stroke:#222">10<tspan font-size="1.6" dy="-.9">3</tspan></text>
<text transform="translate(185.6 72.5)" font-size="2.4" text-anchor="middle" style="fill:#222;stroke:#222">10<tspan font-size="1.6" dy="-.9">4</tspan></text>
<text transform="translate(195.7 72.5)" font-size="2.4" text-anchor="middle" style="fill:#222;stroke:#222">10<tspan font-size="1.6" dy="-.9">5</tspan></text>
<rect x="167.6" y="26.4" width="9" height="9.4" fill="none" stroke="#000" stroke-width=".7"/>
<rect x="176.6" y="26.4" width="9.5" height="9.4" fill="none" stroke="#000" stroke-width=".7"/>
<rect x="176.6" y="35.8" width="9.5" height="9.5" fill="none" stroke="#000" stroke-width=".7"/>
<rect x="176.6" y="45.3" width="9.5" height="15.6" fill="none" stroke="#000" stroke-width=".7"/>
<text transform="translate(158 30.1)" font-size="5.4">4.7</text>
<text transform="translate(187.6 30.1)" font-size="5.4">21.4</text>
<text transform="translate(187.6 43.5)" font-size="5.4">4.2</text>
<text transform="translate(187.6 55.2)" font-size="5.4">2.4</text>
<clipPath id="c4"><rect x="209.7" y="23.5" width="43.3" height="42.8"/></clipPath>
<g clip-path="url(#c4)">
<ellipse cx="215.5" cy="59" rx="4.4" ry="5.2" fill="url(#gd)" transform="rotate(30 215.5 59)"/>
<ellipse cx="217" cy="57" rx="8" ry="9" fill="url(#gl)" transform="rotate(30 217 57)"/>
<ellipse cx="221" cy="46" rx="11" ry="18" fill="url(#gl)" transform="rotate(25 221 46)"/>
<ellipse cx="219" cy="50" rx="8" ry="13" fill="url(#gl)" transform="rotate(25 219 50)"/>
<ellipse cx="233.5" cy="31.5" rx="4.2" ry="5" fill="url(#gm)" transform="rotate(0 233.5 31.5)"/>
<ellipse cx="233.5" cy="31.5" rx="2.6" ry="3.2" fill="url(#gm)" transform="rotate(0 233.5 31.5)"/>
<ellipse cx="228" cy="30.5" rx="5" ry="4" fill="url(#gl)" transform="rotate(0 228 30.5)"/>
<path d="M215.0 60.1h.5M214.2 59.3h.5M216.7 60.9h.5M219.6 58.7h.5M216.5 57.5h.5M214.2 57.7h.5M215.4 60.2h.5M213.6 64.6h.5M219.2 56.4h.5M216.7 57.8h.5M212.8 61.4h.5M217.6 54.4h.5M216.5 58.7h.5M214.5 55.6h.5M214.3 58.3h.5M214.6 58.7h.5M220.0 59.2h.5M214.3 57.6h.5M218.5 58.6h.5M219.9 57.6h.5M213.6 57.7h.5M214.7 56.7h.5M215.4 61.1h.5M216.1 58.5h.5M217.5 61.4h.5M213.5 61.5h.5M213.6 58.4h.5M216.8 59.7h.5M213.9 59.2h.5M215.2 57.1h.5M211.9 60.8h.5M213.0 61.0h.5M216.6 58.8h.5M216.4 60.3h.5M217.5 56.0h.5M214.5 61.1h.5M215.1 61.8h.5M217.8 61.6h.5M221.2 57.8h.5M218.3 53.1h.5M216.9 60.1h.5M219.2 60.0h.5M210.0 59.6h.5M214.6 54.7h.5M214.3 60.2h.5M214.3 58.9h.5M215.2 59.2h.5M216.4 60.0h.5M217.1 57.1h.5M214.7 59.9h.5M217.6 59.9h.5M215.2 59.9h.5M216.3 60.1h.5M215.7 57.6h.5M217.3 60.9h.5M216.1 61.9h.5M217.1 56.9h.5M217.8 60.1h.5M214.3 61.4h.5M217.1 60.7h.5M212.8 63.7h.5M217.9 57.3h.5M216.7 60.2h.5M214.7 60.6h.5M213.3 63.8h.5M215.6 59.8h.5M218.4 59.0h.5M217.5 60.0h.5M218.9 58.4h.5M218.4 55.9h.5M214.6 58.6h.5M213.9 64.0h.5M220.7 58.0h.5M212.4 61.0h.5M218.1 56.4h.5M217.9 57.0h.5M215.5 55.2h.5M212.1 63.8h.5M216.4 59.2h.5M220.9 60.7h.5M215.6 58.2h.5M216.7 58.8h.5M218.6 59.9h.5M216.3 60.1h.5M215.1 55.9h.5M218.4 53.8h.5M215.4 59.2h.5M215.9 59.0h.5M219.0 56.4h.5M222.9 51.9h.5M222.1 55.4h.5M219.7 56.2h.5M217.3 53.1h.5M224.1 55.5h.5M212.3 55.4h.5M217.8 57.7h.5M215.1 52.6h.5M222.4 54.8h.5M217.5 61.1h.5M220.2 52.6h.5M223.3 61.3h.5M218.5 55.9h.5M214.3 54.1h.5M219.6 54.1h.5M214.8 61.7h.5M218.7 57.5h.5M218.6 62.7h.5M221.9 55.7h.5M218.0 55.7h.5M219.7 56.2h.5M210.8 62.8h.5M216.5 65.9h.5M216.7 59.5h.5M213.8 55.3h.5M211.0 50.6h.5M217.1 56.5h.5M212.7 60.6h.5M211.2 54.4h.5M215.5 56.4h.5M212.8 64.7h.5M210.3 60.1h.5M222.1 59.3h.5M217.7 51.0h.5M210.4 63.0h.5M221.1 52.4h.5M214.8 56.7h.5M219.5 53.6h.5M217.1 54.7h.5M218.1 59.0h.5M224.3 41.8h.5M227.0 43.3h.5M218.5 40.6h.5M220.6 42.8h.5M219.1 58.2h.5M216.2 51.2h.5M221.9 46.7h.5M232.1 45.4h.5M230.4 33.3h.5M224.4 45.9h.5M218.2 38.8h.5M214.5 32.5h.5M231.8 25.0h.5M222.7 56.4h.5M222.9 32.2h.5M218.9 32.4h.5M212.5 49.5h.5M230.8 41.2h.5M217.1 50.9h.5M213.0 54.6h.5M231.9 50.6h.5M214.7 48.9h.5M225.5 40.7h.5M220.0 46.4h.5M219.2 56.5h.5M223.5 34.3h.5M220.5 41.7h.5M229.0 60.8h.5M232.8 49.8h.5M219.6 40.1h.5M222.6 50.9h.5M214.4 65.4h.5M231.9 40.3h.5M220.9 51.9h.5M219.8 60.5h.5M222.7 35.5h.5M225.5 46.1h.5M218.5 43.9h.5M221.5 47.7h.5M218.2 49.3h.5M231.0 62.3h.5M210.7 61.4h.5M224.5 32.3h.5M221.9 26.1h.5M230.9 39.7h.5M216.0 38.1h.5M224.7 35.3h.5M218.2 44.6h.5M227.8 39.7h.5M222.8 49.3h.5M225.8 42.8h.5M211.5 51.1h.5M226.5 41.8h.5M214.4 49.7h.5M229.7 53.6h.5M232.4 54.3h.5M220.9 50.7h.5M232.2 36.1h.5M216.9 56.6h.5M212.3 44.2h.5M218.2 61.7h.5M228.9 49.4h.5M235.6 41.7h.5M228.7 38.2h.5M223.1 55.6h.5M226.3 44.0h.5M221.0 29.1h.5M220.5 44.2h.5M220.6 40.2h.5M230.0 38.8h.5M220.2 39.3h.5M233.2 33.6h.5M234.0 39.3h.5M221.7 33.4h.5M219.0 37.6h.5M225.9 47.6h.5M224.9 55.5h.5M214.7 43.2h.5M219.6 41.0h.5M220.2 49.3h.5M231.3 29.5h.5M222.0 41.8h.5M231.2 48.3h.5M220.8 45.9h.5M229.3 38.3h.5M220.8 44.6h.5M221.9 43.8h.5M217.9 45.3h.5M227.9 31.0h.5M215.9 53.0h.5M220.6 44.2h.5M228.8 29.9h.5M213.1 56.8h.5M228.6 34.5h.5M217.2 46.6h.5M230.4 52.7h.5M225.9 45.0h.5M225.1 37.8h.5M219.6 31.6h.5M213.2 54.8h.5M216.2 55.6h.5M224.3 49.0h.5M210.2 62.4h.5M221.9 58.8h.5M227.7 64.2h.5M220.7 49.6h.5M215.2 65.7h.5M222.9 28.6h.5M218.5 44.9h.5M214.5 52.2h.5M224.1 47.1h.5M214.0 61.9h.5M224.4 65.0h.5M214.4 55.2h.5M222.2 28.3h.5M226.2 57.2h.5M218.9 59.3h.5M228.3 52.3h.5M220.1 51.7h.5M224.6 49.6h.5M219.5 39.4h.5M224.2 47.1h.5M230.0 45.6h.5M222.9 46.4h.5M230.8 41.7h.5M222.6 30.1h.5M222.1 50.5h.5M221.4 54.8h.5M216.4 40.3h.5M210.9 53.8h.5M230.9 36.4h.5M223.3 48.4h.5M219.0 52.2h.5M219.2 42.2h.5M220.2 39.2h.5M211.4 53.3h.5M224.9 45.6h.5M220.4 48.0h.5M217.7 61.8h.5M228.5 26.2h.5M219.5 45.4h.5M212.6 56.9h.5M217.6 47.8h.5M214.1 50.6h.5M214.4 51.4h.5M221.1 47.9h.5M228.7 33.8h.5M217.9 47.0h.5M214.5 55.2h.5M228.2 42.4h.5M227.8 47.2h.5M219.1 57.6h.5M218.6 37.0h.5M221.6 44.2h.5M210.1 47.8h.5M221.1 48.3h.5M219.8 52.9h.5M215.7 47.0h.5M220.7 41.3h.5M212.1 54.1h.5M211.5 34.7h.5M225.7 45.2h.5M213.8 53.2h.5M217.4 41.7h.5M225.1 42.9h.5M218.2 45.6h.5M229.4 41.0h.5M223.9 46.9h.5M224.3 34.6h.5M227.5 54.9h.5M223.5 44.3h.5M231.5 44.7h.5M219.0 37.5h.5M219.6 48.7h.5M210.0 43.9h.5M218.3 55.6h.5M213.7 57.5h.5M233.1 46.4h.5M215.9 53.7h.5M227.0 49.0h.5M232.7 36.2h.5M224.0 52.0h.5M223.7 52.3h.5M226.1 44.2h.5M235.9 32.5h.5M224.7 41.7h.5M235.1 41.5h.5M221.7 46.3h.5M225.1 48.1h.5M216.2 42.6h.5M224.0 55.2h.5M222.2 34.4h.5M215.0 42.4h.5M221.6 42.9h.5M217.7 46.6h.5M223.8 57.5h.5M215.3 54.1h.5M214.6 57.3h.5M220.2 57.5h.5M224.2 60.1h.5M218.5 60.0h.5M216.2 46.6h.5M215.4 54.7h.5M222.6 42.9h.5M216.8 47.8h.5M218.6 46.7h.5M213.3 48.5h.5M215.4 45.7h.5M217.6 47.3h.5M225.4 50.1h.5M224.4 34.9h.5M215.1 50.1h.5M215.7 54.4h.5M215.7 54.4h.5M217.0 57.0h.5M215.5 55.0h.5M219.4 44.9h.5M227.0 44.0h.5M211.2 58.3h.5M218.6 52.7h.5M220.0 50.4h.5M226.1 53.8h.5M224.2 52.6h.5M217.3 47.4h.5M212.1 65.5h.5M215.6 51.7h.5M211.9 50.9h.5M217.5 52.3h.5M220.6 47.6h.5M219.2 50.3h.5M223.0 51.5h.5M222.1 42.3h.5M222.7 50.7h.5M212.4 55.7h.5M222.4 51.6h.5M222.9 42.5h.5M210.1 46.9h.5M211.8 51.4h.5M217.1 51.0h.5M215.9 51.7h.5M221.5 52.2h.5M235.1 33.5h.5M233.2 27.3h.5M234.9 30.0h.5M231.4 26.9h.5M229.8 34.9h.5M237.3 34.9h.5M237.8 26.7h.5M235.1 28.1h.5M230.4 33.1h.5M235.5 29.2h.5M230.1 27.6h.5M233.1 33.7h.5M237.7 32.6h.5M231.3 28.8h.5M233.6 33.1h.5M229.2 32.2h.5M232.2 33.6h.5M230.0 33.9h.5M236.5 35.0h.5M236.7 31.8h.5M233.7 28.7h.5M233.4 29.5h.5M234.8 33.3h.5M233.2 35.5h.5M230.7 30.1h.5M237.1 30.8h.5M234.9 25.1h.5M236.6 29.7h.5M232.1 33.9h.5M233.6 27.1h.5M236.3 29.1h.5M232.7 29.8h.5M232.5 30.4h.5M232.7 30.3h.5M238.7 32.2h.5M234.7 29.9h.5M237.2 32.8h.5M233.7 30.1h.5M235.1 27.1h.5M232.0 30.6h.5M234.2 31.8h.5M230.4 32.9h.5M232.5 30.1h.5M233.7 30.6h.5M232.5 30.5h.5M234.9 31.6h.5M233.9 29.8h.5M235.9 31.8h.5M231.9 34.2h.5M230.6 29.7h.5M235.1 30.3h.5M232.8 30.6h.5M233.5 32.6h.5M234.7 29.8h.5M226.7 26.5h.5M226.7 31.4h.5M228.0 32.8h.5M227.3 31.0h.5M230.1 28.2h.5M231.4 27.7h.5M227.3 26.8h.5M227.2 28.5h.5M230.3 26.4h.5M229.1 31.2h.5M229.3 32.4h.5M230.0 28.7h.5M229.5 29.0h.5M226.3 29.9h.5M226.7 29.3h.5M230.5 30.6h.5M223.2 28.9h.5M226.7 35.0h.5M228.6 29.4h.5M229.0 25.9h.5M231.7 29.8h.5M225.6 32.1h.5M226.0 28.3h.5M229.9 34.4h.5M227.1 30.3h.5M227.6 31.3h.5M226.9 30.7h.5M226.0 30.2h.5M230.0 27.5h.5M229.7 33.9h.5M226.3 29.7h.5M228.2 30.4h.5M225.3 32.1h.5M229.5 32.5h.5M229.7 29.3h.5M227.6 29.2h.5M241.1 40.0h.5M237.7 49.3h.5M235.7 43.1h.5M236.8 49.8h.5M233.6 43.3h.5M236.9 44.2h.5M234.4 46.5h.5M236.9 37.1h.5M233.9 51.8h.5M234.8 34.2h.5M236.8 36.6h.5M235.9 44.4h.5M234.2 35.1h.5M239.7 35.5h.5M233.7 41.9h.5M236.8 41.5h.5M234.2 46.4h.5M233.8 37.9h.5" stroke="#000" stroke-width=".5" opacity=".45"/>
</g>
<rect x="209.7" y="23.5" width="43.3" height="42.8" fill="none" stroke="#000" stroke-width="1.1"/>
<path d="M207.2 27.5L209.7 27.5" stroke="#000" stroke-width="1"/>
<path d="M207.2 36.9L209.7 36.9" stroke="#000" stroke-width="1"/>
<path d="M207.2 47L209.7 47" stroke="#000" stroke-width="1"/>
<path d="M207.2 57.1L209.7 57.1" stroke="#000" stroke-width="1"/>
<path d="M207.2 61.8L209.7 61.8" stroke="#000" stroke-width="1"/>
<path d="M215.4 66.3L215.4 68.6" stroke="#000" stroke-width="1"/>
<path d="M218.8 66.3L218.8 68.6" stroke="#000" stroke-width="1"/>
<path d="M230.9 66.3L230.9 68.6" stroke="#000" stroke-width="1"/>
<path d="M238.3 66.3L238.3 68.6" stroke="#000" stroke-width="1"/>
<path d="M248.4 66.3L248.4 68.6" stroke="#000" stroke-width="1"/>
<path d="M208.5 30.79L209.7 30.79" stroke="#000" stroke-width=".4"/>
<path d="M208.5 33.14L209.7 33.14" stroke="#000" stroke-width=".4"/>
<path d="M208.5 35.02L209.7 35.02" stroke="#000" stroke-width=".4"/>
<path d="M208.5 40.44L209.7 40.44" stroke="#000" stroke-width=".4"/>
<path d="M208.5 42.96L209.7 42.96" stroke="#000" stroke-width=".4"/>
<path d="M208.5 44.98L209.7 44.98" stroke="#000" stroke-width=".4"/>
<path d="M208.5 50.53L209.7 50.53" stroke="#000" stroke-width=".4"/>
<path d="M208.5 53.06L209.7 53.06" stroke="#000" stroke-width=".4"/>
<path d="M208.5 55.08L209.7 55.08" stroke="#000" stroke-width=".4"/>
<path d="M208.5 58.74L209.7 58.74" stroke="#000" stroke-width=".4"/>
<path d="M208.5 59.92L209.7 59.92" stroke="#000" stroke-width=".4"/>
<path d="M208.5 60.86L209.7 60.86" stroke="#000" stroke-width=".4"/>
<path d="M223.03 66.3L223.03 67.5" stroke="#000" stroke-width=".4"/>
<path d="M226.06 66.3L226.06 67.5" stroke="#000" stroke-width=".4"/>
<path d="M228.48 66.3L228.48 67.5" stroke="#000" stroke-width=".4"/>
<path d="M233.49 66.3L233.49 67.5" stroke="#000" stroke-width=".4"/>
<path d="M235.34 66.3L235.34 67.5" stroke="#000" stroke-width=".4"/>
<path d="M236.82 66.3L236.82 67.5" stroke="#000" stroke-width=".4"/>
<path d="M241.83 66.3L241.83 67.5" stroke="#000" stroke-width=".4"/>
<path d="M244.36 66.3L244.36 67.5" stroke="#000" stroke-width=".4"/>
<path d="M246.38 66.3L246.38 67.5" stroke="#000" stroke-width=".4"/>
<text transform="translate(206.7 28.4)" font-size="2.4" text-anchor="end" style="fill:#222;stroke:#222">10<tspan font-size="1.6" dy="-.9">5</tspan></text>
<text transform="translate(206.7 37.8)" font-size="2.4" text-anchor="end" style="fill:#222;stroke:#222">10<tspan font-size="1.6" dy="-.9">4</tspan></text>
<text transform="translate(206.7 47.9)" font-size="2.4" text-anchor="end" style="fill:#222;stroke:#222">10<tspan font-size="1.6" dy="-.9">3</tspan></text>
<text transform="translate(206.7 58)" font-size="2.4" text-anchor="end" style="fill:#222;stroke:#222">10<tspan font-size="1.6" dy="-.9">2</tspan></text>
<text transform="translate(206.7 62.7)" font-size="2.4" text-anchor="end" style="fill:#222;stroke:#222">0</text>
<text transform="translate(215 72.5)" font-size="2.4" text-anchor="middle" style="fill:#222;stroke:#222">0</text>
<text transform="translate(219.4 72.5)" font-size="2.4" text-anchor="middle" style="fill:#222;stroke:#222">10<tspan font-size="1.6" dy="-.9">2</tspan></text>
<text transform="translate(231.5 72.5)" font-size="2.4" text-anchor="middle" style="fill:#222;stroke:#222">10<tspan font-size="1.6" dy="-.9">3</tspan></text>
<text transform="translate(238.9 72.5)" font-size="2.4" text-anchor="middle" style="fill:#222;stroke:#222">10<tspan font-size="1.6" dy="-.9">4</tspan></text>
<text transform="translate(249 72.5)" font-size="2.4" text-anchor="middle" style="fill:#222;stroke:#222">10<tspan font-size="1.6" dy="-.9">5</tspan></text>
<rect x="223.6" y="26.4" width="9" height="9.4" fill="none" stroke="#000" stroke-width=".7"/>
<rect x="232.6" y="26.4" width="9.5" height="9.4" fill="none" stroke="#000" stroke-width=".7"/>
<rect x="232.6" y="35.8" width="9.5" height="9.5" fill="none" stroke="#000" stroke-width=".7"/>
<rect x="232.6" y="45.3" width="9.5" height="15.6" fill="none" stroke="#000" stroke-width=".7"/>
<text transform="translate(211.3 30.1)" font-size="5.4">6.9</text>
<text transform="translate(243.6 30.1)" font-size="5.4">5.6</text>
<text transform="translate(243.6 43.5)" font-size="5.4">2.2</text>
<text transform="translate(243.6 55.2)" font-size="5.4">2.1</text>
<clipPath id="c5"><rect x="49.2" y="77.8" width="43.4" height="42.6"/></clipPath>
<g clip-path="url(#c5)">
<ellipse cx="58.5" cy="108.5" rx="11.5" ry="12.5" fill="url(#gf)" transform="rotate(0 58.5 108.5)"/>
<ellipse cx="59" cy="108" rx="14" ry="15" fill="url(#gl)" transform="rotate(0 59 108)"/>
<ellipse cx="73" cy="86" rx="2.5" ry="4" fill="url(#gl)" transform="rotate(0 73 86)"/>
<path d="M51.5 110.9h.5M64.2 105.3h.5M50.9 108.1h.5M61.2 115.4h.5M51.5 100.4h.5M62.6 111.5h.5M67.3 114.6h.5M57.9 106.8h.5M73.3 106.7h.5M54.0 101.4h.5M59.0 109.4h.5M56.5 108.1h.5M60.1 112.8h.5M64.8 109.8h.5M50.3 107.4h.5M50.0 108.5h.5M54.0 109.8h.5M77.5 108.2h.5M63.3 100.2h.5M56.8 112.6h.5M58.0 110.8h.5M59.1 102.2h.5M61.7 103.4h.5M69.3 105.3h.5M62.4 108.5h.5M64.0 104.7h.5M64.2 107.7h.5M65.8 112.4h.5M59.3 103.6h.5M62.9 111.4h.5M67.9 106.1h.5M61.7 111.7h.5M60.1 109.8h.5M59.5 104.8h.5M52.7 106.0h.5M61.9 117.9h.5M64.1 115.1h.5M63.0 112.9h.5M59.6 113.3h.5M68.7 106.5h.5M59.9 114.6h.5M63.5 101.4h.5M72.5 119.6h.5M59.5 113.2h.5M59.2 103.0h.5M57.9 110.8h.5M64.9 112.9h.5M58.8 117.0h.5M54.1 113.5h.5M64.9 106.7h.5M59.9 111.8h.5M67.4 102.2h.5M58.5 112.6h.5M57.6 93.7h.5M64.3 102.8h.5M56.1 109.9h.5M72.8 112.4h.5M59.2 118.2h.5M58.0 120.1h.5M54.6 105.5h.5M62.6 117.4h.5M62.3 110.4h.5M55.0 105.2h.5M61.9 106.4h.5M63.0 109.0h.5M56.6 109.2h.5M61.0 113.9h.5M55.8 107.0h.5M50.7 118.5h.5M66.8 107.4h.5M55.7 100.8h.5M59.5 109.8h.5M71.0 110.0h.5M54.0 93.2h.5M66.6 109.7h.5M49.2 109.6h.5M64.9 112.1h.5M57.5 95.1h.5M57.8 98.8h.5M61.9 95.1h.5M53.3 116.1h.5M68.0 101.1h.5M49.7 114.0h.5M63.4 102.3h.5M54.5 104.2h.5M51.7 104.2h.5M65.7 112.8h.5M70.3 108.0h.5M57.7 102.4h.5M57.8 100.3h.5M66.8 113.7h.5M66.2 110.1h.5M54.4 109.0h.5M56.3 101.6h.5M58.5 109.4h.5M55.8 117.4h.5M59.5 112.1h.5M65.5 103.4h.5M54.5 116.7h.5M60.4 114.8h.5M62.9 95.5h.5M62.6 104.3h.5M54.2 105.8h.5M62.9 114.0h.5M64.3 98.1h.5M55.1 93.7h.5M57.9 112.3h.5M54.1 110.0h.5M59.8 114.8h.5M53.8 103.3h.5M54.1 119.5h.5M64.8 107.7h.5M59.8 109.2h.5M59.7 107.2h.5M56.6 100.6h.5M54.8 118.8h.5M61.6 108.9h.5M57.3 108.9h.5M60.5 104.5h.5M59.6 110.0h.5M54.2 103.6h.5M52.8 101.9h.5M63.6 93.7h.5M57.0 104.7h.5M54.9 109.1h.5M65.0 109.0h.5M57.7 104.7h.5M57.8 114.2h.5M56.2 101.3h.5M51.2 101.6h.5M50.5 115.4h.5M60.5 107.0h.5M66.9 104.4h.5M62.8 113.5h.5M49.6 98.8h.5M53.2 114.2h.5M66.0 100.8h.5M64.5 106.1h.5M56.2 105.1h.5M56.6 97.1h.5M52.7 100.8h.5M74.2 106.4h.5M61.8 103.9h.5M63.9 111.8h.5M57.1 108.6h.5M59.3 106.4h.5M59.6 104.8h.5M53.3 118.0h.5M60.6 111.2h.5M49.3 107.5h.5M63.2 100.4h.5M64.8 106.1h.5M60.8 107.7h.5M59.8 116.0h.5M56.2 118.3h.5M54.0 102.7h.5M62.6 101.8h.5M56.4 114.2h.5M65.5 97.4h.5M61.4 120.3h.5M65.4 107.0h.5M55.0 106.6h.5M51.9 106.8h.5M57.4 107.6h.5M65.3 107.1h.5M50.1 115.1h.5M52.3 105.7h.5M57.7 106.3h.5M52.7 106.9h.5M71.1 104.7h.5M57.7 115.5h.5M62.8 113.3h.5M63.5 96.2h.5M53.5 109.3h.5M61.4 116.6h.5M61.2 107.0h.5M59.3 106.4h.5M60.7 113.1h.5M56.6 101.9h.5M53.0 116.2h.5M68.0 115.4h.5M65.0 114.2h.5M59.0 113.0h.5M51.6 106.5h.5M53.9 113.5h.5M54.9 107.2h.5M61.8 118.2h.5M53.5 101.0h.5M64.7 99.7h.5M62.2 103.7h.5M58.3 94.3h.5M64.0 104.2h.5M61.9 105.4h.5M59.8 120.1h.5M58.8 111.4h.5M62.6 101.2h.5M59.9 104.2h.5M50.3 114.5h.5M63.7 108.6h.5M52.6 93.0h.5M62.4 107.3h.5M60.0 110.7h.5M60.5 109.3h.5M51.0 105.1h.5M55.4 106.2h.5M60.9 112.6h.5M70.4 88.7h.5M61.8 106.5h.5M74.9 115.0h.5M55.4 115.5h.5M51.6 107.2h.5M58.1 107.3h.5M54.9 94.2h.5M62.2 115.5h.5M58.5 100.4h.5M60.4 112.2h.5M57.8 107.9h.5M68.9 99.6h.5M55.1 93.7h.5M54.1 102.5h.5M52.3 102.8h.5M71.6 106.5h.5M58.6 95.0h.5M61.8 101.0h.5M70.5 98.7h.5M54.9 96.0h.5M59.7 100.4h.5M58.5 105.2h.5M54.7 115.1h.5M65.5 108.5h.5M52.7 100.0h.5M55.8 102.1h.5M54.1 99.8h.5M52.2 106.5h.5M69.0 108.0h.5M55.4 95.9h.5M60.5 107.8h.5M50.4 99.9h.5M58.7 115.6h.5M63.4 109.5h.5M56.7 110.4h.5M51.1 105.2h.5M67.9 106.0h.5M69.0 107.7h.5M60.0 105.2h.5M49.3 100.7h.5M74.5 112.8h.5M63.2 115.2h.5M63.0 115.7h.5M57.1 106.3h.5M65.9 105.4h.5M49.7 106.3h.5M55.2 112.6h.5M54.0 100.0h.5M56.7 119.6h.5M58.7 109.2h.5M59.1 110.2h.5M65.5 118.5h.5M70.9 88.7h.5M73.0 85.4h.5M76.0 85.7h.5M75.4 87.9h.5M71.7 87.0h.5M73.9 85.7h.5M70.1 85.3h.5M72.8 83.8h.5M75.3 85.5h.5M72.5 85.4h.5M72.0 84.4h.5M73.1 86.6h.5M72.4 85.8h.5M71.3 87.0h.5M72.1 86.4h.5M71.9 85.0h.5M73.3 83.6h.5M76.1 85.9h.5M72.9 90.9h.5M75.0 94.1h.5M73.4 89.9h.5M72.4 92.9h.5M72.4 90.2h.5M71.5 90.8h.5" stroke="#000" stroke-width=".5" opacity=".45"/>
</g>
<rect x="49.2" y="77.8" width="43.4" height="42.6" fill="none" stroke="#000" stroke-width="1.1"/>
<path d="M46.7 81.8L49.2 81.8" stroke="#000" stroke-width="1"/>
<path d="M46.7 91.2L49.2 91.2" stroke="#000" stroke-width="1"/>
<path d="M46.7 101.3L49.2 101.3" stroke="#000" stroke-width="1"/>
<path d="M46.7 111.4L49.2 111.4" stroke="#000" stroke-width="1"/>
<path d="M46.7 116.1L49.2 116.1" stroke="#000" stroke-width="1"/>
<path d="M54.9 120.4L54.9 122.7" stroke="#000" stroke-width="1"/>
<path d="M58.3 120.4L58.3 122.7" stroke="#000" stroke-width="1"/>
<path d="M70.4 120.4L70.4 122.7" stroke="#000" stroke-width="1"/>
<path d="M77.8 120.4L77.8 122.7" stroke="#000" stroke-width="1"/>
<path d="M87.9 120.4L87.9 122.7" stroke="#000" stroke-width="1"/>
<path d="M48 85.09L49.2 85.09" stroke="#000" stroke-width=".4"/>
<path d="M48 87.44L49.2 87.44" stroke="#000" stroke-width=".4"/>
<path d="M48 89.32L49.2 89.32" stroke="#000" stroke-width=".4"/>
<path d="M48 94.73L49.2 94.73" stroke="#000" stroke-width=".4"/>
<path d="M48 97.26L49.2 97.26" stroke="#000" stroke-width=".4"/>
<path d="M48 99.28L49.2 99.28" stroke="#000" stroke-width=".4"/>
<path d="M48 104.83L49.2 104.83" stroke="#000" stroke-width=".4"/>
<path d="M48 107.36L49.2 107.36" stroke="#000" stroke-width=".4"/>
<path d="M48 109.38L49.2 109.38" stroke="#000" stroke-width=".4"/>
<path d="M48 113.05L49.2 113.05" stroke="#000" stroke-width=".4"/>
<path d="M48 114.22L49.2 114.22" stroke="#000" stroke-width=".4"/>
<path d="M48 115.16L49.2 115.16" stroke="#000" stroke-width=".4"/>
<path d="M62.54 120.4L62.54 121.6" stroke="#000" stroke-width=".4"/>
<path d="M65.56 120.4L65.56 121.6" stroke="#000" stroke-width=".4"/>
<path d="M67.98 120.4L67.98 121.6" stroke="#000" stroke-width=".4"/>
<path d="M72.99 120.4L72.99 121.6" stroke="#000" stroke-width=".4"/>
<path d="M74.84 120.4L74.84 121.6" stroke="#000" stroke-width=".4"/>
<path d="M76.32 120.4L76.32 121.6" stroke="#000" stroke-width=".4"/>
<path d="M81.34 120.4L81.34 121.6" stroke="#000" stroke-width=".4"/>
<path d="M83.86 120.4L83.86 121.6" stroke="#000" stroke-width=".4"/>
<path d="M85.88 120.4L85.88 121.6" stroke="#000" stroke-width=".4"/>
<text transform="translate(46.2 82.7)" font-size="2.4" text-anchor="end" style="fill:#222;stroke:#222">10<tspan font-size="1.6" dy="-.9">5</tspan></text>
<text transform="translate(46.2 92.1)" font-size="2.4" text-anchor="end" style="fill:#222;stroke:#222">10<tspan font-size="1.6" dy="-.9">4</tspan></text>
<text transform="translate(46.2 102.2)" font-size="2.4" text-anchor="end" style="fill:#222;stroke:#222">10<tspan font-size="1.6" dy="-.9">3</tspan></text>
<text transform="translate(46.2 112.3)" font-size="2.4" text-anchor="end" style="fill:#222;stroke:#222">10<tspan font-size="1.6" dy="-.9">2</tspan></text>
<text transform="translate(46.2 117)" font-size="2.4" text-anchor="end" style="fill:#222;stroke:#222">0</text>
<text transform="translate(54.5 126.6)" font-size="2.4" text-anchor="middle" style="fill:#222;stroke:#222">0</text>
<text transform="translate(58.9 126.6)" font-size="2.4" text-anchor="middle" style="fill:#222;stroke:#222">10<tspan font-size="1.6" dy="-.9">2</tspan></text>
<text transform="translate(71 126.6)" font-size="2.4" text-anchor="middle" style="fill:#222;stroke:#222">10<tspan font-size="1.6" dy="-.9">3</tspan></text>
<text transform="translate(78.4 126.6)" font-size="2.4" text-anchor="middle" style="fill:#222;stroke:#222">10<tspan font-size="1.6" dy="-.9">4</tspan></text>
<text transform="translate(88.5 126.6)" font-size="2.4" text-anchor="middle" style="fill:#222;stroke:#222">10<tspan font-size="1.6" dy="-.9">5</tspan></text>
<rect x="59.3" y="81.8" width="9" height="7.7" fill="none" stroke="#000" stroke-width=".7"/>
<rect x="68.3" y="81.8" width="9.6" height="7.7" fill="none" stroke="#000" stroke-width=".7"/>
<rect x="68.3" y="89.5" width="9.6" height="8.1" fill="none" stroke="#000" stroke-width=".7"/>
<rect x="68.3" y="97.6" width="9.6" height="19.2" fill="none" stroke="#000" stroke-width=".7"/>
<text transform="translate(50.8 84.7)" font-size="5.4">0.1</text>
<text transform="translate(79.7 88.3)" font-size="5.4">1.9</text>
<text transform="translate(79.7 96.3)" font-size="5.4">1.1</text>
<text transform="translate(79.7 109.8)" font-size="5.4">0.3</text>
<clipPath id="c6"><rect x="102.5" y="77.8" width="43.1" height="42.6"/></clipPath>
<g clip-path="url(#c6)">
<ellipse cx="111" cy="105.5" rx="11" ry="16" fill="url(#gf)" transform="rotate(0 111 105.5)"/>
<ellipse cx="111" cy="104" rx="14" ry="19" fill="url(#gl)" transform="rotate(0 111 104)"/>
<ellipse cx="126.5" cy="86" rx="3" ry="4" fill="url(#gl)" transform="rotate(0 126.5 86)"/>
<ellipse cx="126.5" cy="93" rx="3" ry="3" fill="url(#gl)" transform="rotate(0 126.5 93)"/>
<path d="M103.1 107.4h.5M109.5 101.7h.5M116.3 106.0h.5M109.5 119.9h.5M108.3 95.4h.5M103.4 101.3h.5M114.6 112.3h.5M117.3 120.3h.5M120.5 110.8h.5M118.5 111.0h.5M108.1 112.5h.5M111.6 104.2h.5M122.3 112.1h.5M108.6 105.3h.5M124.3 103.9h.5M115.4 111.0h.5M114.1 110.7h.5M108.6 102.2h.5M110.4 103.0h.5M115.8 118.4h.5M106.4 110.4h.5M105.8 100.3h.5M110.0 106.8h.5M108.9 84.8h.5M119.0 103.7h.5M107.8 111.5h.5M108.0 94.4h.5M114.0 109.3h.5M106.7 112.7h.5M113.4 96.7h.5M121.1 108.1h.5M105.0 109.6h.5M112.0 113.8h.5M103.8 114.4h.5M116.6 111.6h.5M114.7 116.6h.5M115.3 107.0h.5M106.6 115.0h.5M116.8 108.4h.5M112.1 111.8h.5M108.7 109.4h.5M110.9 87.9h.5M115.3 105.8h.5M111.7 98.2h.5M111.0 106.6h.5M118.4 108.3h.5M130.7 102.6h.5M109.8 105.5h.5M106.7 118.1h.5M114.9 95.6h.5M111.9 115.2h.5M103.4 107.1h.5M113.6 102.6h.5M102.6 104.3h.5M109.9 100.2h.5M110.1 111.5h.5M107.6 94.3h.5M118.8 117.8h.5M107.4 108.4h.5M103.8 101.4h.5M123.3 95.6h.5M111.4 97.2h.5M112.8 95.3h.5M108.0 111.8h.5M110.4 95.2h.5M119.6 106.9h.5M119.1 97.4h.5M120.7 94.9h.5M109.2 108.0h.5M108.1 111.0h.5M118.7 100.6h.5M103.6 102.6h.5M115.8 112.5h.5M109.3 97.9h.5M111.1 113.7h.5M107.3 116.4h.5M112.5 108.2h.5M107.8 116.9h.5M111.5 93.8h.5M115.8 102.5h.5M117.3 107.2h.5M107.8 107.2h.5M108.5 99.2h.5M111.4 112.6h.5M111.6 105.2h.5M108.2 110.5h.5M112.8 113.6h.5M114.2 113.1h.5M102.7 96.0h.5M111.0 114.4h.5M117.4 93.6h.5M112.0 115.3h.5M111.4 97.5h.5M107.2 95.0h.5M117.9 103.7h.5M108.8 98.8h.5M110.5 98.5h.5M105.8 105.5h.5M110.0 109.5h.5M112.0 115.4h.5M111.0 108.0h.5M112.5 99.3h.5M117.8 101.3h.5M114.9 101.3h.5M116.5 113.6h.5M115.1 96.3h.5M112.2 97.4h.5M107.8 101.3h.5M106.5 109.8h.5M106.8 110.9h.5M112.2 100.9h.5M112.2 111.4h.5M117.6 103.7h.5M120.9 110.5h.5M118.1 94.9h.5M105.3 115.6h.5M110.0 109.6h.5M117.9 94.2h.5M115.7 106.6h.5M114.4 105.9h.5M115.5 116.4h.5M110.0 110.5h.5M112.9 111.8h.5M115.9 97.2h.5M117.7 112.8h.5M105.2 103.5h.5M103.1 103.5h.5M113.0 96.5h.5M106.9 98.7h.5M107.4 99.6h.5M105.3 110.4h.5M110.0 99.2h.5M116.7 101.3h.5M116.2 95.8h.5M119.0 102.2h.5M106.0 109.1h.5M103.8 97.1h.5M112.5 101.9h.5M113.4 107.0h.5M112.6 106.9h.5M115.2 105.8h.5M117.3 113.4h.5M119.8 102.2h.5M112.2 104.9h.5M107.3 106.3h.5M111.2 97.1h.5M106.4 103.6h.5M111.1 108.9h.5M120.3 104.4h.5M115.8 102.4h.5M104.4 98.5h.5M114.9 106.0h.5M115.2 93.5h.5M108.1 112.1h.5M121.8 87.1h.5M107.4 106.0h.5M106.2 98.5h.5M108.4 109.9h.5M105.3 112.8h.5M115.8 112.6h.5M119.7 101.6h.5M110.9 113.8h.5M118.2 113.3h.5M108.7 101.9h.5M103.9 102.3h.5M106.3 101.9h.5M109.1 112.5h.5M115.9 105.4h.5M104.9 105.4h.5M113.6 112.7h.5M112.4 112.3h.5M107.6 111.0h.5M115.3 102.9h.5M107.0 115.7h.5M105.7 111.3h.5M109.7 103.0h.5M109.8 102.2h.5M111.0 120.1h.5M119.2 104.7h.5M113.8 113.1h.5M111.4 110.8h.5M105.9 96.8h.5M105.7 100.6h.5M116.9 103.2h.5M116.1 102.4h.5M105.9 107.1h.5M109.0 92.5h.5M111.5 115.3h.5M110.0 96.2h.5M107.0 96.1h.5M109.9 98.2h.5M110.6 107.2h.5M118.5 96.5h.5M113.6 102.9h.5M114.0 98.3h.5M109.3 111.2h.5M109.5 106.8h.5M113.6 106.7h.5M109.9 109.9h.5M118.5 116.0h.5M106.4 111.9h.5M113.4 110.1h.5M118.7 92.0h.5M117.1 101.4h.5M108.6 109.3h.5M118.9 98.2h.5M110.5 115.4h.5M113.2 103.4h.5M108.4 102.1h.5M116.5 92.5h.5M107.4 98.8h.5M117.4 106.8h.5M106.5 111.4h.5M124.9 114.0h.5M119.2 87.1h.5M102.7 100.3h.5M114.9 96.5h.5M112.3 102.8h.5M113.5 92.8h.5M112.3 113.5h.5M114.6 89.0h.5M104.8 86.8h.5M107.1 96.7h.5M110.3 107.8h.5M112.5 106.0h.5M114.8 103.2h.5M108.0 100.9h.5M119.4 101.5h.5M116.8 119.9h.5M123.3 83.8h.5M112.2 113.5h.5M108.0 97.4h.5M111.1 86.3h.5M111.0 96.2h.5M111.3 93.9h.5M111.7 105.7h.5M106.3 97.8h.5M117.7 110.1h.5M105.7 108.3h.5M103.0 99.2h.5M115.9 99.5h.5M115.2 98.0h.5M113.2 102.7h.5M105.2 91.4h.5M112.0 108.6h.5M113.5 103.1h.5M114.4 113.0h.5M115.4 91.0h.5M123.2 103.8h.5M110.1 106.8h.5M125.0 99.1h.5M106.7 94.8h.5M112.4 110.4h.5M113.8 105.7h.5M118.7 99.3h.5M107.4 94.5h.5M112.8 89.3h.5M124.5 102.3h.5M106.9 92.6h.5M114.9 113.4h.5M107.2 105.8h.5M113.2 113.3h.5M115.4 115.9h.5M107.6 93.5h.5M104.6 107.8h.5M119.7 96.9h.5M108.7 99.7h.5M106.9 102.5h.5M106.8 115.3h.5M113.5 110.1h.5M110.0 93.1h.5M114.2 100.4h.5M125.0 115.8h.5M102.7 94.8h.5M107.3 102.1h.5M119.1 102.5h.5M114.3 101.1h.5M109.6 115.8h.5M110.8 107.8h.5M113.9 110.5h.5M124.6 97.7h.5M107.4 95.2h.5M123.8 108.6h.5M114.3 108.5h.5M112.0 107.1h.5M111.8 103.3h.5M110.6 98.8h.5M109.6 110.2h.5M115.6 94.1h.5M127.3 86.7h.5M125.8 89.4h.5M126.8 85.8h.5M124.6 90.4h.5M126.9 86.7h.5M126.2 90.2h.5M126.3 89.2h.5M128.1 88.0h.5M127.5 88.3h.5M126.4 81.9h.5M122.5 88.3h.5M123.5 88.7h.5M131.2 82.3h.5M127.4 87.0h.5M125.5 82.1h.5M126.4 89.4h.5M126.4 86.0h.5M126.7 86.1h.5M127.0 96.5h.5M125.2 90.3h.5M127.8 92.2h.5M125.8 90.9h.5M126.3 92.4h.5M127.2 92.4h.5M124.3 93.8h.5M126.4 90.2h.5M126.0 94.2h.5M126.4 92.5h.5M127.4 92.1h.5M125.5 93.8h.5M126.3 92.1h.5" stroke="#000" stroke-width=".5" opacity=".45"/>
</g>
<rect x="102.5" y="77.8" width="43.1" height="42.6" fill="none" stroke="#000" stroke-width="1.1"/>
<path d="M100 81.8L102.5 81.8" stroke="#000" stroke-width="1"/>
<path d="M100 91.2L102.5 91.2" stroke="#000" stroke-width="1"/>
<path d="M100 101.3L102.5 101.3" stroke="#000" stroke-width="1"/>
<path d="M100 111.4L102.5 111.4" stroke="#000" stroke-width="1"/>
<path d="M100 116.1L102.5 116.1" stroke="#000" stroke-width="1"/>
<path d="M108.2 120.4L108.2 122.7" stroke="#000" stroke-width="1"/>
<path d="M111.6 120.4L111.6 122.7" stroke="#000" stroke-width="1"/>
<path d="M123.7 120.4L123.7 122.7" stroke="#000" stroke-width="1"/>
<path d="M131.1 120.4L131.1 122.7" stroke="#000" stroke-width="1"/>
<path d="M141.2 120.4L141.2 122.7" stroke="#000" stroke-width="1"/>
<path d="M101.3 85.09L102.5 85.09" stroke="#000" stroke-width=".4"/>
<path d="M101.3 87.44L102.5 87.44" stroke="#000" stroke-width=".4"/>
<path d="M101.3 89.32L102.5 89.32" stroke="#000" stroke-width=".4"/>
<path d="M101.3 94.73L102.5 94.73" stroke="#000" stroke-width=".4"/>
<path d="M101.3 97.26L102.5 97.26" stroke="#000" stroke-width=".4"/>
<path d="M101.3 99.28L102.5 99.28" stroke="#000" stroke-width=".4"/>
<path d="M101.3 104.83L102.5 104.83" stroke="#000" stroke-width=".4"/>
<path d="M101.3 107.36L102.5 107.36" stroke="#000" stroke-width=".4"/>
<path d="M101.3 109.38L102.5 109.38" stroke="#000" stroke-width=".4"/>
<path d="M101.3 113.05L102.5 113.05" stroke="#000" stroke-width=".4"/>
<path d="M101.3 114.22L102.5 114.22" stroke="#000" stroke-width=".4"/>
<path d="M101.3 115.16L102.5 115.16" stroke="#000" stroke-width=".4"/>
<path d="M115.83 120.4L115.83 121.6" stroke="#000" stroke-width=".4"/>
<path d="M118.86 120.4L118.86 121.6" stroke="#000" stroke-width=".4"/>
<path d="M121.28 120.4L121.28 121.6" stroke="#000" stroke-width=".4"/>
<path d="M126.29 120.4L126.29 121.6" stroke="#000" stroke-width=".4"/>
<path d="M128.14 120.4L128.14 121.6" stroke="#000" stroke-width=".4"/>
<path d="M129.62 120.4L129.62 121.6" stroke="#000" stroke-width=".4"/>
<path d="M134.63 120.4L134.63 121.6" stroke="#000" stroke-width=".4"/>
<path d="M137.16 120.4L137.16 121.6" stroke="#000" stroke-width=".4"/>
<path d="M139.18 120.4L139.18 121.6" stroke="#000" stroke-width=".4"/>
<text transform="translate(99.5 82.7)" font-size="2.4" text-anchor="end" style="fill:#222;stroke:#222">10<tspan font-size="1.6" dy="-.9">5</tspan></text>
<text transform="translate(99.5 92.1)" font-size="2.4" text-anchor="end" style="fill:#222;stroke:#222">10<tspan font-size="1.6" dy="-.9">4</tspan></text>
<text transform="translate(99.5 102.2)" font-size="2.4" text-anchor="end" style="fill:#222;stroke:#222">10<tspan font-size="1.6" dy="-.9">3</tspan></text>
<text transform="translate(99.5 112.3)" font-size="2.4" text-anchor="end" style="fill:#222;stroke:#222">10<tspan font-size="1.6" dy="-.9">2</tspan></text>
<text transform="translate(99.5 117)" font-size="2.4" text-anchor="end" style="fill:#222;stroke:#222">0</text>
<text transform="translate(107.8 126.6)" font-size="2.4" text-anchor="middle" style="fill:#222;stroke:#222">0</text>
<text transform="translate(112.2 126.6)" font-size="2.4" text-anchor="middle" style="fill:#222;stroke:#222">10<tspan font-size="1.6" dy="-.9">2</tspan></text>
<text transform="translate(124.3 126.6)" font-size="2.4" text-anchor="middle" style="fill:#222;stroke:#222">10<tspan font-size="1.6" dy="-.9">3</tspan></text>
<text transform="translate(131.7 126.6)" font-size="2.4" text-anchor="middle" style="fill:#222;stroke:#222">10<tspan font-size="1.6" dy="-.9">4</tspan></text>
<text transform="translate(141.8 126.6)" font-size="2.4" text-anchor="middle" style="fill:#222;stroke:#222">10<tspan font-size="1.6" dy="-.9">5</tspan></text>
<rect x="112.6" y="81.8" width="9" height="7.7" fill="none" stroke="#000" stroke-width=".7"/>
<rect x="121.6" y="81.8" width="9.6" height="7.7" fill="none" stroke="#000" stroke-width=".7"/>
<rect x="121.6" y="89.5" width="9.6" height="8.1" fill="none" stroke="#000" stroke-width=".7"/>
<rect x="121.6" y="97.6" width="9.6" height="19.2" fill="none" stroke="#000" stroke-width=".7"/>
<text transform="translate(104.1 84.7)" font-size="5.4">0.2</text>
<text transform="translate(133 88.3)" font-size="5.4">1.2</text>
<text transform="translate(133 96.3)" font-size="5.4">2.1</text>
<text transform="translate(133 109.8)" font-size="5.4">0.5</text>
<clipPath id="c7"><rect x="156.4" y="77.8" width="43.1" height="42.6"/></clipPath>
<g clip-path="url(#c7)">
<ellipse cx="164.5" cy="107" rx="8.5" ry="12.5" fill="url(#gl)" transform="rotate(15 164.5 107)"/>
<ellipse cx="164.5" cy="107" rx="6" ry="8.5" fill="url(#gl)" transform="rotate(15 164.5 107)"/>
<ellipse cx="164.3" cy="107.5" rx="3.5" ry="5" fill="url(#gl)" transform="rotate(15 164.3 107.5)"/>
<ellipse cx="179.9" cy="87" rx="5" ry="6.2" fill="url(#gd)" transform="rotate(0 179.9 87)"/>
<ellipse cx="179.9" cy="86.8" rx="3.2" ry="4" fill="url(#gd)" transform="rotate(0 179.9 86.8)"/>
<ellipse cx="180" cy="93.5" rx="4" ry="6" fill="url(#gm)" transform="rotate(0 180 93.5)"/>
<ellipse cx="171" cy="86" rx="5" ry="4" fill="url(#gl)" transform="rotate(0 171 86)"/>
<path d="M161.7 116.1h.5M164.2 95.4h.5M164.6 111.3h.5M165.3 110.9h.5M165.1 103.8h.5M161.9 105.4h.5M161.6 112.8h.5M169.3 100.7h.5M167.7 108.3h.5M166.9 118.1h.5M170.0 97.6h.5M170.0 99.0h.5M172.3 105.5h.5M161.0 118.7h.5M157.4 106.0h.5M161.2 103.4h.5M160.3 111.1h.5M163.0 109.6h.5M170.2 98.0h.5M171.0 107.8h.5M159.0 101.9h.5M166.8 114.9h.5M161.7 107.7h.5M164.1 114.4h.5M162.6 113.7h.5M162.3 102.4h.5M166.4 113.0h.5M163.6 111.5h.5M164.4 112.8h.5M168.8 112.3h.5M168.9 106.3h.5M166.3 92.7h.5M166.4 108.5h.5M170.1 96.9h.5M163.7 103.9h.5M172.0 101.4h.5M163.8 119.0h.5M158.1 112.6h.5M160.8 99.7h.5M163.7 115.5h.5M160.8 101.8h.5M158.3 113.4h.5M161.5 110.7h.5M165.6 115.7h.5M166.0 110.4h.5M168.9 112.1h.5M160.4 103.1h.5M168.4 109.7h.5M162.9 109.0h.5M178.8 111.3h.5M166.1 111.2h.5M161.7 114.9h.5M167.7 111.3h.5M157.0 114.1h.5M168.2 108.2h.5M160.1 105.0h.5M164.0 102.1h.5M168.9 109.7h.5M171.6 103.2h.5M161.7 116.1h.5M167.4 103.7h.5M162.0 103.2h.5M163.3 112.0h.5M164.2 112.7h.5M168.1 109.5h.5M169.0 113.9h.5M164.3 106.6h.5M165.9 103.2h.5M159.1 106.5h.5M161.7 110.9h.5M162.1 107.8h.5M166.4 105.1h.5M166.8 103.6h.5M161.6 112.3h.5M166.4 108.2h.5M160.3 111.2h.5M176.8 96.6h.5M168.9 110.3h.5M167.5 116.3h.5M157.6 117.4h.5M162.7 105.6h.5M167.6 108.0h.5M166.8 104.9h.5M160.4 106.7h.5M157.9 114.9h.5M163.5 116.8h.5M163.0 93.5h.5M158.7 108.5h.5M160.9 97.5h.5M166.6 105.6h.5M166.3 113.5h.5M168.3 100.6h.5M163.3 109.3h.5M165.3 107.7h.5M165.0 104.1h.5M165.9 94.7h.5M172.0 109.0h.5M158.4 109.5h.5M170.0 99.6h.5M160.1 116.4h.5M166.3 111.0h.5M169.2 108.1h.5M160.9 117.3h.5M164.1 107.1h.5M167.4 108.7h.5M156.4 118.1h.5M161.5 118.8h.5M168.4 102.7h.5M171.6 108.4h.5M161.2 106.6h.5M162.1 105.4h.5M159.9 110.9h.5M164.5 114.9h.5M171.3 111.4h.5M164.6 109.8h.5M162.3 103.5h.5M169.4 103.3h.5M157.2 103.4h.5M163.4 117.1h.5M163.3 101.2h.5M165.4 106.9h.5M166.7 104.8h.5M166.6 104.4h.5M168.4 110.6h.5M167.9 105.7h.5M158.7 106.2h.5M162.7 114.5h.5M168.9 108.6h.5M166.2 101.6h.5M164.2 109.0h.5M164.8 100.6h.5M171.7 103.5h.5M169.7 116.9h.5M172.6 104.2h.5M169.7 99.8h.5M165.7 97.9h.5M162.5 103.8h.5M167.0 115.4h.5M163.7 105.5h.5M162.7 99.6h.5M157.6 104.3h.5M168.5 103.6h.5M169.8 95.8h.5M161.1 99.0h.5M171.2 101.8h.5M170.2 103.0h.5M163.8 86.5h.5M164.9 96.2h.5M169.2 109.8h.5M174.6 81.4h.5M159.1 105.3h.5M158.3 96.5h.5M167.5 107.6h.5M166.3 110.5h.5M162.6 109.1h.5M167.4 104.0h.5M166.4 107.4h.5M168.9 108.6h.5M164.5 108.9h.5M172.8 107.4h.5M168.2 106.8h.5M156.7 94.5h.5M163.4 91.9h.5M165.8 89.3h.5M167.9 100.7h.5M171.0 109.7h.5M158.9 101.1h.5M167.0 99.2h.5M165.7 95.3h.5M160.7 106.0h.5M160.8 114.2h.5M160.0 116.4h.5M169.5 112.5h.5M166.9 119.2h.5M169.3 103.7h.5M167.8 99.0h.5M163.2 107.4h.5M162.3 104.8h.5M165.8 93.2h.5M163.5 111.5h.5M164.7 104.3h.5M167.3 102.2h.5M170.3 114.8h.5M169.6 96.5h.5M161.9 105.4h.5M171.4 105.8h.5M163.9 108.7h.5M166.1 103.3h.5M156.5 112.9h.5M166.0 100.1h.5M167.5 93.4h.5M160.1 87.3h.5M170.0 94.0h.5M168.3 94.7h.5M157.0 96.7h.5M162.7 97.5h.5M173.8 108.3h.5M160.0 110.5h.5M160.7 113.7h.5M160.9 96.6h.5M168.5 95.7h.5M157.2 98.6h.5M167.1 90.3h.5M172.0 98.8h.5M162.3 101.3h.5M163.0 112.8h.5M169.2 107.3h.5M167.1 94.8h.5M167.9 100.5h.5M168.1 95.6h.5M163.7 102.4h.5M167.2 93.3h.5M163.4 104.7h.5M165.5 95.0h.5M166.8 92.5h.5M174.0 118.4h.5M161.3 98.0h.5M171.9 101.7h.5M163.2 103.3h.5M170.2 93.4h.5M164.1 108.1h.5M181.8 84.5h.5M184.5 88.3h.5M181.1 91.8h.5M173.5 87.0h.5M182.6 91.4h.5M179.8 86.4h.5M178.0 86.0h.5M177.8 79.6h.5M178.4 83.9h.5M178.4 85.6h.5M178.7 87.3h.5M179.7 85.9h.5M178.3 86.7h.5M179.1 86.6h.5M183.3 87.7h.5M178.9 80.6h.5M176.3 77.8h.5M182.1 90.4h.5M178.9 85.5h.5M181.1 88.8h.5M175.5 86.2h.5M179.1 83.1h.5M183.4 89.3h.5M178.4 86.9h.5M178.5 85.4h.5M178.9 90.2h.5M179.9 85.5h.5M178.2 87.8h.5M177.7 82.0h.5M179.5 91.9h.5M178.2 87.5h.5M179.4 90.8h.5M181.1 83.1h.5M184.3 87.0h.5M177.6 85.4h.5M180.1 90.3h.5M179.2 84.7h.5M183.2 91.9h.5M179.0 87.4h.5M180.8 86.1h.5M177.6 90.2h.5M177.2 81.3h.5M181.4 90.6h.5M181.9 84.6h.5M179.3 83.6h.5M178.6 79.4h.5M177.7 91.3h.5M177.0 92.4h.5M180.3 80.9h.5M182.3 84.0h.5M181.3 86.4h.5M179.0 86.5h.5M176.6 84.6h.5M178.9 92.5h.5M178.5 88.0h.5M181.0 90.8h.5M179.3 87.6h.5M177.6 94.9h.5M176.2 87.8h.5M179.0 87.5h.5M178.6 85.6h.5M182.4 90.0h.5M179.7 86.6h.5M180.4 86.8h.5M181.0 89.4h.5M181.1 82.1h.5M179.8 83.7h.5M181.0 86.1h.5M180.7 86.8h.5M182.3 91.2h.5M180.4 82.4h.5M179.9 93.2h.5M178.2 86.8h.5M186.1 92.3h.5M181.6 87.8h.5M176.6 92.1h.5M182.2 81.8h.5M179.6 86.7h.5M179.8 85.0h.5M186.2 84.3h.5M183.6 89.0h.5M180.0 88.5h.5M181.8 84.6h.5M179.0 90.8h.5M182.3 88.3h.5M176.9 82.0h.5M183.7 91.6h.5M181.2 88.3h.5M179.1 88.6h.5M183.0 89.5h.5M178.6 88.2h.5M178.6 86.9h.5M177.2 79.7h.5M177.3 87.7h.5M178.0 88.8h.5M178.6 88.0h.5M178.8 91.5h.5M179.0 87.1h.5M182.8 91.7h.5M177.7 98.0h.5M177.9 90.7h.5M178.4 96.6h.5M177.9 95.3h.5M180.9 93.0h.5M181.0 99.8h.5M183.3 91.1h.5M180.6 92.4h.5M179.8 92.0h.5M181.2 91.0h.5M177.6 93.7h.5M180.7 97.2h.5M181.4 91.0h.5M178.2 94.6h.5M180.6 95.8h.5M182.7 86.9h.5M178.8 95.2h.5M177.9 98.6h.5M179.9 95.4h.5M179.7 94.7h.5M180.9 95.2h.5M177.3 87.9h.5M179.9 96.0h.5M179.6 93.1h.5M182.2 95.6h.5M178.2 94.1h.5M179.7 93.8h.5M179.9 95.4h.5M180.1 94.6h.5M180.1 93.0h.5M178.9 94.4h.5M181.0 98.3h.5M185.0 91.6h.5M178.8 96.8h.5M179.3 94.0h.5M177.6 95.4h.5M167.5 88.1h.5M169.0 86.6h.5M173.6 84.4h.5M170.8 90.3h.5M167.6 86.3h.5M166.2 86.8h.5M170.7 83.9h.5M168.1 88.6h.5M172.8 83.7h.5M173.1 84.2h.5M169.1 86.9h.5M170.8 87.1h.5M173.8 84.8h.5M172.5 86.7h.5M167.0 87.7h.5M173.6 83.3h.5M170.3 88.0h.5M173.3 85.4h.5M170.5 85.5h.5M168.1 86.3h.5M176.4 83.3h.5M171.0 84.2h.5M174.9 82.8h.5M173.3 87.0h.5M169.0 85.5h.5M171.3 89.5h.5M171.8 88.5h.5M173.8 86.3h.5M171.2 86.0h.5M175.2 88.7h.5M173.6 84.8h.5" stroke="#000" stroke-width=".5" opacity=".45"/>
</g>
<rect x="156.4" y="77.8" width="43.1" height="42.6" fill="none" stroke="#000" stroke-width="1.1"/>
<path d="M153.9 81.8L156.4 81.8" stroke="#000" stroke-width="1"/>
<path d="M153.9 91.2L156.4 91.2" stroke="#000" stroke-width="1"/>
<path d="M153.9 101.3L156.4 101.3" stroke="#000" stroke-width="1"/>
<path d="M153.9 111.4L156.4 111.4" stroke="#000" stroke-width="1"/>
<path d="M153.9 116.1L156.4 116.1" stroke="#000" stroke-width="1"/>
<path d="M162.1 120.4L162.1 122.7" stroke="#000" stroke-width="1"/>
<path d="M165.5 120.4L165.5 122.7" stroke="#000" stroke-width="1"/>
<path d="M177.6 120.4L177.6 122.7" stroke="#000" stroke-width="1"/>
<path d="M185 120.4L185 122.7" stroke="#000" stroke-width="1"/>
<path d="M195.1 120.4L195.1 122.7" stroke="#000" stroke-width="1"/>
<path d="M155.2 85.09L156.4 85.09" stroke="#000" stroke-width=".4"/>
<path d="M155.2 87.44L156.4 87.44" stroke="#000" stroke-width=".4"/>
<path d="M155.2 89.32L156.4 89.32" stroke="#000" stroke-width=".4"/>
<path d="M155.2 94.73L156.4 94.73" stroke="#000" stroke-width=".4"/>
<path d="M155.2 97.26L156.4 97.26" stroke="#000" stroke-width=".4"/>
<path d="M155.2 99.28L156.4 99.28" stroke="#000" stroke-width=".4"/>
<path d="M155.2 104.83L156.4 104.83" stroke="#000" stroke-width=".4"/>
<path d="M155.2 107.36L156.4 107.36" stroke="#000" stroke-width=".4"/>
<path d="M155.2 109.38L156.4 109.38" stroke="#000" stroke-width=".4"/>
<path d="M155.2 113.05L156.4 113.05" stroke="#000" stroke-width=".4"/>
<path d="M155.2 114.22L156.4 114.22" stroke="#000" stroke-width=".4"/>
<path d="M155.2 115.16L156.4 115.16" stroke="#000" stroke-width=".4"/>
<path d="M169.73 120.4L169.73 121.6" stroke="#000" stroke-width=".4"/>
<path d="M172.76 120.4L172.76 121.6" stroke="#000" stroke-width=".4"/>
<path d="M175.18 120.4L175.18 121.6" stroke="#000" stroke-width=".4"/>
<path d="M180.19 120.4L180.19 121.6" stroke="#000" stroke-width=".4"/>
<path d="M182.04 120.4L182.04 121.6" stroke="#000" stroke-width=".4"/>
<path d="M183.52 120.4L183.52 121.6" stroke="#000" stroke-width=".4"/>
<path d="M188.53 120.4L188.53 121.6" stroke="#000" stroke-width=".4"/>
<path d="M191.06 120.4L191.06 121.6" stroke="#000" stroke-width=".4"/>
<path d="M193.08 120.4L193.08 121.6" stroke="#000" stroke-width=".4"/>
<text transform="translate(153.4 82.7)" font-size="2.4" text-anchor="end" style="fill:#222;stroke:#222">10<tspan font-size="1.6" dy="-.9">5</tspan></text>
<text transform="translate(153.4 92.1)" font-size="2.4" text-anchor="end" style="fill:#222;stroke:#222">10<tspan font-size="1.6" dy="-.9">4</tspan></text>
<text transform="translate(153.4 102.2)" font-size="2.4" text-anchor="end" style="fill:#222;stroke:#222">10<tspan font-size="1.6" dy="-.9">3</tspan></text>
<text transform="translate(153.4 112.3)" font-size="2.4" text-anchor="end" style="fill:#222;stroke:#222">10<tspan font-size="1.6" dy="-.9">2</tspan></text>
<text transform="translate(153.4 117)" font-size="2.4" text-anchor="end" style="fill:#222;stroke:#222">0</text>
<text transform="translate(161.7 126.6)" font-size="2.4" text-anchor="middle" style="fill:#222;stroke:#222">0</text>
<text transform="translate(166.1 126.6)" font-size="2.4" text-anchor="middle" style="fill:#222;stroke:#222">10<tspan font-size="1.6" dy="-.9">2</tspan></text>
<text transform="translate(178.2 126.6)" font-size="2.4" text-anchor="middle" style="fill:#222;stroke:#222">10<tspan font-size="1.6" dy="-.9">3</tspan></text>
<text transform="translate(185.6 126.6)" font-size="2.4" text-anchor="middle" style="fill:#222;stroke:#222">10<tspan font-size="1.6" dy="-.9">4</tspan></text>
<text transform="translate(195.7 126.6)" font-size="2.4" text-anchor="middle" style="fill:#222;stroke:#222">10<tspan font-size="1.6" dy="-.9">5</tspan></text>
<rect x="166.5" y="81.8" width="9" height="7.7" fill="none" stroke="#000" stroke-width=".7"/>
<rect x="175.5" y="81.8" width="9.6" height="7.7" fill="none" stroke="#000" stroke-width=".7"/>
<rect x="175.5" y="89.5" width="9.6" height="8.1" fill="none" stroke="#000" stroke-width=".7"/>
<rect x="175.5" y="97.6" width="9.6" height="19.2" fill="none" stroke="#000" stroke-width=".7"/>
<text transform="translate(158 84.7)" font-size="5.4">4.3</text>
<text transform="translate(186.9 88.3)" font-size="5.4">49.6</text>
<text transform="translate(186.9 96.3)" font-size="5.4">13.8</text>
<text transform="translate(186.9 109.8)" font-size="5.4">1.4</text>
<clipPath id="c8"><rect x="209.7" y="77.8" width="42.7" height="42.6"/></clipPath>
<g clip-path="url(#c8)">
<ellipse cx="221.5" cy="100.5" rx="6.5" ry="8" fill="url(#gm)" transform="rotate(10 221.5 100.5)"/>
<ellipse cx="220" cy="103" rx="12" ry="19" fill="url(#gl)" transform="rotate(10 220 103)"/>
<ellipse cx="231.7" cy="86.3" rx="5" ry="5.6" fill="url(#gd)" transform="rotate(0 231.7 86.3)"/>
<ellipse cx="231.7" cy="86.3" rx="3" ry="3.4" fill="url(#gm)" transform="rotate(0 231.7 86.3)"/>
<ellipse cx="232" cy="93.5" rx="4.2" ry="6" fill="url(#gm)" transform="rotate(0 232 93.5)"/>
<ellipse cx="224" cy="86" rx="5.5" ry="4.2" fill="url(#gm)" transform="rotate(0 224 86)"/>
<path d="M224.7 105.0h.5M218.5 92.1h.5M220.6 103.4h.5M222.0 94.7h.5M218.9 105.9h.5M216.4 103.8h.5M222.8 102.7h.5M224.3 98.8h.5M219.9 107.5h.5M220.6 98.6h.5M217.3 97.9h.5M223.0 105.8h.5M223.1 103.4h.5M223.1 102.2h.5M224.8 100.5h.5M225.0 100.9h.5M217.3 94.6h.5M221.2 98.6h.5M218.2 96.9h.5M221.8 102.2h.5M224.8 97.6h.5M222.0 104.8h.5M221.4 107.6h.5M220.0 100.2h.5M222.3 99.0h.5M221.2 101.4h.5M221.7 98.5h.5M220.2 100.0h.5M216.5 100.4h.5M218.2 98.9h.5M218.0 100.3h.5M220.5 99.3h.5M219.1 100.6h.5M227.8 94.4h.5M223.0 101.7h.5M221.2 95.4h.5M226.3 102.1h.5M224.9 99.6h.5M218.4 104.3h.5M224.0 99.8h.5M220.4 102.8h.5M219.6 96.9h.5M220.7 104.4h.5M224.1 101.7h.5M225.8 100.7h.5M218.4 109.3h.5M219.6 102.6h.5M223.2 101.3h.5M221.8 103.3h.5M223.6 98.6h.5M220.6 105.9h.5M224.1 99.3h.5M222.4 96.8h.5M217.9 97.8h.5M227.0 99.0h.5M215.4 99.0h.5M218.9 103.0h.5M225.6 100.0h.5M222.5 97.2h.5M225.8 98.4h.5M220.0 109.7h.5M218.5 100.7h.5M221.1 102.3h.5M222.0 106.5h.5M222.7 103.1h.5M217.4 101.4h.5M216.6 104.5h.5M220.7 104.3h.5M219.8 101.2h.5M221.4 102.7h.5M221.6 98.3h.5M220.8 97.9h.5M219.5 95.4h.5M215.7 107.0h.5M220.0 95.9h.5M224.4 102.2h.5M220.4 104.9h.5M227.9 98.3h.5M225.6 103.5h.5M225.5 99.2h.5M226.0 105.9h.5M212.6 104.0h.5M226.7 96.0h.5M222.7 100.1h.5M222.8 97.4h.5M223.1 103.8h.5M221.3 100.2h.5M215.8 101.7h.5M217.6 100.0h.5M217.3 110.1h.5M220.5 106.5h.5M221.5 100.4h.5M223.9 100.8h.5M228.9 101.2h.5M227.4 96.9h.5M218.3 102.6h.5M215.9 107.4h.5M223.1 101.2h.5M227.4 99.6h.5M221.0 90.2h.5M215.7 98.3h.5M214.5 102.3h.5M224.3 102.8h.5M217.0 96.4h.5M216.7 102.5h.5M224.9 100.3h.5M221.6 101.5h.5M224.5 97.5h.5M218.0 103.1h.5M222.8 102.7h.5M221.2 103.5h.5M223.4 98.5h.5M226.2 105.7h.5M220.8 100.0h.5M220.2 94.8h.5M219.2 94.4h.5M219.2 101.4h.5M222.0 89.9h.5M219.9 97.1h.5M211.9 112.2h.5M212.5 110.4h.5M209.8 103.9h.5M214.4 111.2h.5M223.7 96.3h.5M221.7 115.6h.5M225.4 118.1h.5M216.9 101.3h.5M211.5 99.6h.5M211.4 102.7h.5M222.2 118.7h.5M226.7 105.9h.5M222.5 105.5h.5M211.0 90.4h.5M216.3 111.5h.5M211.7 103.5h.5M215.5 109.5h.5M226.2 94.3h.5M211.0 115.7h.5M226.3 104.0h.5M224.9 104.6h.5M223.5 100.1h.5M220.5 119.3h.5M226.5 116.5h.5M219.3 112.3h.5M218.1 100.0h.5M222.7 93.2h.5M224.1 87.5h.5M228.3 112.8h.5M223.0 97.1h.5M217.2 99.0h.5M211.1 97.6h.5M213.4 110.1h.5M225.6 118.1h.5M214.4 89.1h.5M227.2 112.0h.5M225.2 110.5h.5M224.1 110.5h.5M214.0 103.7h.5M227.1 109.9h.5M225.8 102.4h.5M225.2 98.7h.5M217.3 113.0h.5M230.6 102.0h.5M219.2 100.8h.5M218.9 103.3h.5M224.7 107.4h.5M219.3 107.4h.5M209.9 100.0h.5M233.4 95.7h.5M216.2 105.0h.5M226.4 101.8h.5M211.4 116.5h.5M219.5 80.7h.5M211.8 97.7h.5M217.4 109.4h.5M218.0 108.3h.5M223.1 102.4h.5M218.0 116.3h.5M220.1 109.4h.5M218.7 109.8h.5M229.5 105.7h.5M218.4 95.7h.5M227.3 97.0h.5M218.4 120.1h.5M220.3 102.4h.5M224.9 95.6h.5M215.4 104.3h.5M230.7 111.0h.5M210.3 105.5h.5M213.1 80.9h.5M234.3 96.7h.5M218.1 107.3h.5M219.4 101.1h.5M225.4 102.5h.5M215.0 105.8h.5M214.9 112.8h.5M220.6 101.5h.5M216.5 108.4h.5M226.6 101.5h.5M214.5 108.2h.5M215.8 106.5h.5M219.9 95.4h.5M212.4 100.9h.5M223.7 87.9h.5M234.4 97.9h.5M220.3 92.7h.5M210.0 116.0h.5M209.9 103.9h.5M214.7 108.0h.5M229.2 106.4h.5M216.4 113.3h.5M221.4 85.2h.5M229.0 99.7h.5M225.2 107.2h.5M231.6 96.6h.5M212.0 90.7h.5M220.3 105.5h.5M224.7 105.9h.5M216.0 102.0h.5M222.5 100.1h.5M224.1 104.2h.5M214.2 112.7h.5M224.9 91.3h.5M220.8 101.6h.5M218.9 102.3h.5M221.1 101.4h.5M224.2 109.5h.5M219.5 101.8h.5M218.8 99.3h.5M218.8 105.3h.5M221.5 85.3h.5M222.1 94.9h.5M230.3 81.6h.5M218.0 87.4h.5M209.9 99.9h.5M215.3 102.2h.5M218.2 103.1h.5M218.9 95.1h.5M221.8 118.8h.5M215.1 100.8h.5M234.1 94.9h.5M212.4 107.2h.5M225.5 104.0h.5M227.2 103.4h.5M221.4 103.2h.5M222.0 103.7h.5M227.6 111.7h.5M230.2 103.6h.5M216.4 96.6h.5M217.1 105.9h.5M217.1 105.4h.5M224.6 92.7h.5M213.1 120.4h.5M220.6 89.8h.5M214.4 94.4h.5M239.0 88.2h.5M227.8 95.2h.5M227.3 117.2h.5M215.1 108.1h.5M222.6 102.2h.5M218.3 97.2h.5M223.7 98.7h.5M224.2 110.6h.5M209.8 105.5h.5M217.7 110.5h.5M216.0 114.0h.5M223.6 112.7h.5M226.1 90.8h.5M217.9 113.7h.5M234.0 88.1h.5M231.7 86.2h.5M228.3 81.3h.5M231.3 88.7h.5M231.1 84.8h.5M231.3 90.2h.5M230.2 86.1h.5M232.6 89.4h.5M232.8 84.9h.5M230.5 83.1h.5M231.2 89.1h.5M232.2 85.1h.5M229.0 85.4h.5M233.7 88.1h.5M232.9 88.8h.5M234.9 87.0h.5M233.4 80.9h.5M233.4 85.4h.5M232.4 83.8h.5M231.1 83.2h.5M231.6 83.5h.5M234.4 85.5h.5M232.2 84.6h.5M231.5 84.4h.5M229.6 87.8h.5M230.0 83.1h.5M230.8 92.7h.5M234.5 87.1h.5M232.5 87.3h.5M232.9 92.9h.5M235.6 86.9h.5M227.5 83.8h.5M232.5 85.1h.5M232.9 85.6h.5M233.0 87.7h.5M230.7 82.8h.5M231.1 84.5h.5M229.5 86.7h.5M234.8 85.4h.5M230.8 83.4h.5M232.5 87.1h.5M232.3 90.8h.5M232.5 89.4h.5M231.0 87.6h.5M229.7 88.7h.5M235.5 83.9h.5M229.8 87.2h.5M231.9 88.9h.5M225.2 84.9h.5M233.2 87.1h.5M229.1 88.5h.5M232.2 86.5h.5M231.3 86.1h.5M233.4 82.6h.5M223.3 88.2h.5M225.7 87.0h.5M231.9 87.4h.5M229.0 88.0h.5M231.0 85.0h.5M231.2 84.0h.5M235.9 84.6h.5M231.8 85.5h.5M232.3 86.6h.5M231.1 86.6h.5M232.2 87.1h.5M234.5 86.2h.5M231.6 87.9h.5M231.5 87.6h.5M233.3 80.2h.5M232.1 85.3h.5M227.9 82.9h.5M228.3 89.3h.5M234.7 86.6h.5M231.6 83.3h.5M237.1 90.7h.5M232.5 84.2h.5M231.5 84.6h.5M228.8 83.4h.5M229.5 84.5h.5M232.9 83.7h.5M233.0 87.0h.5M234.3 90.2h.5M237.7 89.1h.5M230.9 85.8h.5M238.8 83.4h.5M232.0 89.9h.5M231.9 87.8h.5M236.3 89.0h.5M232.0 88.2h.5M232.6 88.3h.5M233.4 92.8h.5M232.3 94.4h.5M231.7 92.1h.5M234.1 87.0h.5M231.6 96.8h.5M232.8 90.2h.5M230.1 99.6h.5M233.5 93.5h.5M232.3 92.8h.5M232.9 91.0h.5M232.5 93.4h.5M232.5 96.5h.5M228.4 93.4h.5M232.5 94.3h.5M232.1 94.9h.5M234.4 92.3h.5M232.6 96.0h.5M231.8 96.8h.5M230.7 97.3h.5M232.7 98.0h.5M235.0 90.9h.5M234.1 95.2h.5M232.3 92.5h.5M232.9 93.0h.5M232.2 93.7h.5M232.3 93.0h.5M229.2 94.2h.5M225.3 94.5h.5M231.8 93.3h.5M231.0 94.6h.5M233.2 92.1h.5M230.8 90.7h.5M229.6 94.9h.5M231.9 97.8h.5M228.9 90.3h.5M232.4 92.3h.5M232.8 91.1h.5M234.7 92.8h.5M232.8 96.9h.5M229.6 92.5h.5M221.3 87.8h.5M219.3 85.1h.5M222.3 87.9h.5M228.5 86.2h.5M229.2 87.5h.5M220.4 85.7h.5M221.3 87.7h.5M225.3 86.7h.5M221.7 85.6h.5M220.8 85.9h.5M227.9 85.6h.5M228.0 86.4h.5M223.3 87.2h.5M220.2 89.4h.5M224.8 83.8h.5M226.1 84.1h.5M226.6 88.6h.5M226.7 83.6h.5M223.1 88.3h.5M225.4 87.2h.5M230.5 88.2h.5M223.4 83.6h.5M222.3 83.0h.5M221.9 86.3h.5M220.6 86.1h.5M222.6 87.0h.5M220.6 84.5h.5M224.2 87.1h.5M224.3 79.9h.5M223.4 82.1h.5M223.6 83.9h.5M221.3 84.9h.5M225.3 85.9h.5M225.4 86.0h.5M222.8 88.6h.5M229.3 84.5h.5" stroke="#000" stroke-width=".5" opacity=".45"/>
</g>
<rect x="209.7" y="77.8" width="42.7" height="42.6" fill="none" stroke="#000" stroke-width="1.1"/>
<path d="M207.2 81.8L209.7 81.8" stroke="#000" stroke-width="1"/>
<path d="M207.2 91.2L209.7 91.2" stroke="#000" stroke-width="1"/>
<path d="M207.2 101.3L209.7 101.3" stroke="#000" stroke-width="1"/>
<path d="M207.2 111.4L209.7 111.4" stroke="#000" stroke-width="1"/>
<path d="M207.2 116.1L209.7 116.1" stroke="#000" stroke-width="1"/>
<path d="M215.4 120.4L215.4 122.7" stroke="#000" stroke-width="1"/>
<path d="M218.8 120.4L218.8 122.7" stroke="#000" stroke-width="1"/>
<path d="M230.9 120.4L230.9 122.7" stroke="#000" stroke-width="1"/>
<path d="M238.3 120.4L238.3 122.7" stroke="#000" stroke-width="1"/>
<path d="M248.4 120.4L248.4 122.7" stroke="#000" stroke-width="1"/>
<path d="M208.5 85.09L209.7 85.09" stroke="#000" stroke-width=".4"/>
<path d="M208.5 87.44L209.7 87.44" stroke="#000" stroke-width=".4"/>
<path d="M208.5 89.32L209.7 89.32" stroke="#000" stroke-width=".4"/>
<path d="M208.5 94.73L209.7 94.73" stroke="#000" stroke-width=".4"/>
<path d="M208.5 97.26L209.7 97.26" stroke="#000" stroke-width=".4"/>
<path d="M208.5 99.28L209.7 99.28" stroke="#000" stroke-width=".4"/>
<path d="M208.5 104.83L209.7 104.83" stroke="#000" stroke-width=".4"/>
<path d="M208.5 107.36L209.7 107.36" stroke="#000" stroke-width=".4"/>
<path d="M208.5 109.38L209.7 109.38" stroke="#000" stroke-width=".4"/>
<path d="M208.5 113.05L209.7 113.05" stroke="#000" stroke-width=".4"/>
<path d="M208.5 114.22L209.7 114.22" stroke="#000" stroke-width=".4"/>
<path d="M208.5 115.16L209.7 115.16" stroke="#000" stroke-width=".4"/>
<path d="M223.03 120.4L223.03 121.6" stroke="#000" stroke-width=".4"/>
<path d="M226.06 120.4L226.06 121.6" stroke="#000" stroke-width=".4"/>
<path d="M228.48 120.4L228.48 121.6" stroke="#000" stroke-width=".4"/>
<path d="M233.49 120.4L233.49 121.6" stroke="#000" stroke-width=".4"/>
<path d="M235.34 120.4L235.34 121.6" stroke="#000" stroke-width=".4"/>
<path d="M236.82 120.4L236.82 121.6" stroke="#000" stroke-width=".4"/>
<path d="M241.83 120.4L241.83 121.6" stroke="#000" stroke-width=".4"/>
<path d="M244.36 120.4L244.36 121.6" stroke="#000" stroke-width=".4"/>
<path d="M246.38 120.4L246.38 121.6" stroke="#000" stroke-width=".4"/>
<text transform="translate(206.7 82.7)" font-size="2.4" text-anchor="end" style="fill:#222;stroke:#222">10<tspan font-size="1.6" dy="-.9">5</tspan></text>
<text transform="translate(206.7 92.1)" font-size="2.4" text-anchor="end" style="fill:#222;stroke:#222">10<tspan font-size="1.6" dy="-.9">4</tspan></text>
<text transform="translate(206.7 102.2)" font-size="2.4" text-anchor="end" style="fill:#222;stroke:#222">10<tspan font-size="1.6" dy="-.9">3</tspan></text>
<text transform="translate(206.7 112.3)" font-size="2.4" text-anchor="end" style="fill:#222;stroke:#222">10<tspan font-size="1.6" dy="-.9">2</tspan></text>
<text transform="translate(206.7 117)" font-size="2.4" text-anchor="end" style="fill:#222;stroke:#222">0</text>
<text transform="translate(215 126.6)" font-size="2.4" text-anchor="middle" style="fill:#222;stroke:#222">0</text>
<text transform="translate(219.4 126.6)" font-size="2.4" text-anchor="middle" style="fill:#222;stroke:#222">10<tspan font-size="1.6" dy="-.9">2</tspan></text>
<text transform="translate(231.5 126.6)" font-size="2.4" text-anchor="middle" style="fill:#222;stroke:#222">10<tspan font-size="1.6" dy="-.9">3</tspan></text>
<text transform="translate(238.9 126.6)" font-size="2.4" text-anchor="middle" style="fill:#222;stroke:#222">10<tspan font-size="1.6" dy="-.9">4</tspan></text>
<text transform="translate(249 126.6)" font-size="2.4" text-anchor="middle" style="fill:#222;stroke:#222">10<tspan font-size="1.6" dy="-.9">5</tspan></text>
<rect x="220.2" y="81.8" width="9" height="7.7" fill="none" stroke="#000" stroke-width=".7"/>
<rect x="229.2" y="81.8" width="9.6" height="7.7" fill="none" stroke="#000" stroke-width=".7"/>
<rect x="229.2" y="89.5" width="9.6" height="8.1" fill="none" stroke="#000" stroke-width=".7"/>
<rect x="229.2" y="97.6" width="9.6" height="19.2" fill="none" stroke="#000" stroke-width=".7"/>
<text transform="translate(211.3 84.7)" font-size="5.4">9.99</text>
<text transform="translate(240.6 88.3)" font-size="5.4">22.1</text>
<text transform="translate(240.6 96.3)" font-size="5.4">11.1</text>
<text transform="translate(240.6 109.8)" font-size="5.4">2.5</text>
<text transform="translate(58.3 35.7)" font-size="4.6" text-anchor="middle" style="fill:#777;stroke:#777">I</text>
<text transform="translate(85.2 34.9)" font-size="4.6" text-anchor="middle" style="fill:#777;stroke:#777">II</text>
<text transform="translate(65 41.6)" font-size="4.6" text-anchor="middle" style="fill:#777;stroke:#777">III</text>
<text transform="translate(65.3 53.8)" font-size="4.6" text-anchor="middle" style="fill:#777;stroke:#777">IV</text>
<text transform="translate(335.5 41.4)" font-size="8.4" text-anchor="middle">BM</text>
<text transform="translate(269.4 77.9) rotate(-90) scale(.85 1)" font-size="8.5" text-anchor="middle">% of live cells</text>
<path d="M288.75 46.5L288.75 112.35" stroke="#000" stroke-width="1.1"/>
<path d="M285.65 111.8L288.75 111.8" stroke="#000" stroke-width="1.1"/>
<text transform="translate(283.15 114.18)" font-size="6.6" text-anchor="end">0</text>
<path d="M285.65 99.35L288.75 99.35" stroke="#000" stroke-width="1.1"/>
<text transform="translate(283.15 101.73)" font-size="6.6" text-anchor="end">5</text>
<path d="M285.65 86.9L288.75 86.9" stroke="#000" stroke-width="1.1"/>
<text transform="translate(283.15 89.28)" font-size="6.6" text-anchor="end">10</text>
<path d="M285.65 74.45L288.75 74.45" stroke="#000" stroke-width="1.1"/>
<text transform="translate(283.15 76.83)" font-size="6.6" text-anchor="end">15</text>
<path d="M285.65 62L288.75 62" stroke="#000" stroke-width="1.1"/>
<text transform="translate(283.15 64.38)" font-size="6.6" text-anchor="end">20</text>
<path d="M285.65 49.55L288.75 49.55" stroke="#000" stroke-width="1.1"/>
<text transform="translate(283.15 51.93)" font-size="6.6" text-anchor="end">25</text>
<path d="M288.2 111.8L386.2 111.8" stroke="#000" stroke-width="1.3"/>
<path d="M288.75 111.8L288.75 114.7" stroke="#000" stroke-width="1.1"/>
<path d="M312.5 111.8L312.5 114.7" stroke="#000" stroke-width="1.1"/>
<path d="M336.25 111.8L336.25 114.7" stroke="#000" stroke-width="1.1"/>
<path d="M360 111.8L360 114.7" stroke="#000" stroke-width="1.1"/>
<path d="M383.75 111.8L383.75 114.7" stroke="#000" stroke-width="1.1"/>
<path d="M294.07 109.31L294.07 108.81" stroke="#000" stroke-width="1"/>
<path d="M292.17 108.81L295.98 108.81" stroke="#000" stroke-width="1"/>
<rect x="292" y="109.31" width="4.15" height="2.49" fill="#c3c3c3"/>
<path d="M298.22 108.06L298.22 107.32" stroke="#000" stroke-width="1"/>
<path d="M296.32 107.32L300.13 107.32" stroke="#000" stroke-width="1"/>
<rect x="296.15" y="108.06" width="4.15" height="3.74" fill="#888888"/>
<path d="M302.38 101.34L302.38 99.85" stroke="#000" stroke-width="1"/>
<path d="M300.47 99.85L304.28 99.85" stroke="#000" stroke-width="1"/>
<rect x="300.3" y="101.34" width="4.15" height="10.46" fill="#3d3d3d"/>
<path d="M306.52 98.1L306.52 96.11" stroke="#000" stroke-width="1"/>
<path d="M304.62 96.11L308.43 96.11" stroke="#000" stroke-width="1"/>
<rect x="304.45" y="98.1" width="4.15" height="13.7" fill="#000"/>
<path d="M317.82 90.88L317.82 88.39" stroke="#000" stroke-width="1"/>
<path d="M315.92 88.39L319.73 88.39" stroke="#000" stroke-width="1"/>
<rect x="315.75" y="90.88" width="4.15" height="20.92" fill="#c3c3c3"/>
<path d="M321.97 92.38L321.97 91.38" stroke="#000" stroke-width="1"/>
<path d="M320.07 91.38L323.88 91.38" stroke="#000" stroke-width="1"/>
<rect x="319.9" y="92.38" width="4.15" height="19.42" fill="#888888"/>
<path d="M326.12 67.23L326.12 63.49" stroke="#000" stroke-width="1"/>
<path d="M324.22 63.49L328.03 63.49" stroke="#000" stroke-width="1"/>
<rect x="324.05" y="67.23" width="4.15" height="44.57" fill="#3d3d3d"/>
<path d="M330.27 89.89L330.27 83.66" stroke="#000" stroke-width="1"/>
<path d="M328.37 83.66L332.18 83.66" stroke="#000" stroke-width="1"/>
<rect x="328.2" y="89.89" width="4.15" height="21.91" fill="#000"/>
<path d="M341.57 93.12L341.57 89.64" stroke="#000" stroke-width="1"/>
<path d="M339.67 89.64L343.48 89.64" stroke="#000" stroke-width="1"/>
<rect x="339.5" y="93.12" width="4.15" height="18.68" fill="#c3c3c3"/>
<path d="M345.72 83.91L345.72 76.44" stroke="#000" stroke-width="1"/>
<path d="M343.82 76.44L347.63 76.44" stroke="#000" stroke-width="1"/>
<rect x="343.65" y="83.91" width="4.15" height="27.89" fill="#888888"/>
<path d="M349.88 101.34L349.88 98.85" stroke="#000" stroke-width="1"/>
<path d="M347.97 98.85L351.78 98.85" stroke="#000" stroke-width="1"/>
<rect x="347.8" y="101.34" width="4.15" height="10.46" fill="#3d3d3d"/>
<path d="M354.02 100.84L354.02 96.36" stroke="#000" stroke-width="1"/>
<path d="M352.12 96.36L355.93 96.36" stroke="#000" stroke-width="1"/>
<rect x="351.95" y="100.84" width="4.15" height="10.96" fill="#000"/>
<path d="M365.07 108.81L365.07 108.06" stroke="#000" stroke-width="1"/>
<path d="M363.17 108.06L366.98 108.06" stroke="#000" stroke-width="1"/>
<rect x="363" y="108.81" width="4.15" height="2.99" fill="#c3c3c3"/>
<path d="M369.22 104.33L369.22 101.34" stroke="#000" stroke-width="1"/>
<path d="M367.32 101.34L371.13 101.34" stroke="#000" stroke-width="1"/>
<rect x="367.15" y="104.33" width="4.15" height="7.47" fill="#888888"/>
<path d="M373.38 103.83L373.38 100.59" stroke="#000" stroke-width="1"/>
<path d="M371.47 100.59L375.28 100.59" stroke="#000" stroke-width="1"/>
<rect x="371.3" y="103.83" width="4.15" height="7.97" fill="#3d3d3d"/>
<path d="M377.52 107.57L377.52 107.07" stroke="#000" stroke-width="1"/>
<path d="M375.62 107.07L379.43 107.07" stroke="#000" stroke-width="1"/>
<rect x="375.45" y="107.57" width="4.15" height="4.23" fill="#000"/>
<text transform="translate(300.5 123.4)" font-size="7" text-anchor="middle">I</text>
<text transform="translate(324.3 123.4)" font-size="7" text-anchor="middle">II</text>
<text transform="translate(348 123.4)" font-size="7" text-anchor="middle">III</text>
<text transform="translate(371.5 123.4)" font-size="7" text-anchor="middle">IV</text>
<path d="M299.2 92.4L307.6 92.4" stroke="#000" stroke-width="1.15"/>
<text transform="translate(301.6 91.1)" font-size="6" text-anchor="middle" font-weight="bold">*</text>
<path d="M323.2 61.1L331.8 61.1" stroke="#000" stroke-width="1.15"/>
<text transform="translate(325.8 59.8)" font-size="6" text-anchor="middle" font-weight="bold">*</text>
<text transform="translate(465 41.4)" font-size="8.4" text-anchor="middle">SPL</text>
<text transform="translate(396.7 77.9) rotate(-90) scale(.85 1)" font-size="8.5" text-anchor="middle">% of live cells</text>
<path d="M415.75 46.5L415.75 112.35" stroke="#000" stroke-width="1.1"/>
<path d="M412.65 111.8L415.75 111.8" stroke="#000" stroke-width="1.1"/>
<text transform="translate(410.15 114.18)" font-size="6.6" text-anchor="end">0</text>
<path d="M412.65 101.5L415.75 101.5" stroke="#000" stroke-width="1.1"/>
<text transform="translate(410.15 103.88)" font-size="6.6" text-anchor="end">10</text>
<path d="M412.65 91.2L415.75 91.2" stroke="#000" stroke-width="1.1"/>
<text transform="translate(410.15 93.58)" font-size="6.6" text-anchor="end">20</text>
<path d="M412.65 80.9L415.75 80.9" stroke="#000" stroke-width="1.1"/>
<text transform="translate(410.15 83.28)" font-size="6.6" text-anchor="end">30</text>
<path d="M412.65 70.6L415.75 70.6" stroke="#000" stroke-width="1.1"/>
<text transform="translate(410.15 72.98)" font-size="6.6" text-anchor="end">40</text>
<path d="M412.65 60.3L415.75 60.3" stroke="#000" stroke-width="1.1"/>
<text transform="translate(410.15 62.68)" font-size="6.6" text-anchor="end">50</text>
<path d="M412.65 50L415.75 50" stroke="#000" stroke-width="1.1"/>
<text transform="translate(410.15 52.38)" font-size="6.6" text-anchor="end">60</text>
<path d="M415.2 111.8L511.5 111.8" stroke="#000" stroke-width="1.3"/>
<path d="M415.75 111.8L415.75 114.7" stroke="#000" stroke-width="1.1"/>
<path d="M439.5 111.8L439.5 114.7" stroke="#000" stroke-width="1.1"/>
<path d="M463.25 111.8L463.25 114.7" stroke="#000" stroke-width="1.1"/>
<path d="M487 111.8L487 114.7" stroke="#000" stroke-width="1.1"/>
<path d="M510.75 111.8L510.75 114.7" stroke="#000" stroke-width="1.1"/>
<rect x="419.5" y="111.39" width="4.2" height=".41" fill="#c3c3c3"/>
<rect x="423.7" y="111.39" width="4.2" height=".41" fill="#888888"/>
<path d="M430 107.68L430 107.27" stroke="#000" stroke-width="1"/>
<path d="M428.07 107.27L431.93 107.27" stroke="#000" stroke-width="1"/>
<rect x="427.9" y="107.68" width="4.2" height="4.12" fill="#3d3d3d"/>
<path d="M434.2 97.07L434.2 93.05" stroke="#000" stroke-width="1"/>
<path d="M432.27 93.05L436.13 93.05" stroke="#000" stroke-width="1"/>
<rect x="432.1" y="97.07" width="4.2" height="14.73" fill="#000"/>
<path d="M445.1 109.33L445.1 107.68" stroke="#000" stroke-width="1"/>
<path d="M443.17 107.68L447.03 107.68" stroke="#000" stroke-width="1"/>
<rect x="443" y="109.33" width="4.2" height="2.47" fill="#c3c3c3"/>
<path d="M449.3 109.53L449.3 109.02" stroke="#000" stroke-width="1"/>
<path d="M447.37 109.02L451.23 109.02" stroke="#000" stroke-width="1"/>
<rect x="447.2" y="109.53" width="4.2" height="2.27" fill="#888888"/>
<path d="M453.5 64.52L453.5 62.46" stroke="#000" stroke-width="1"/>
<path d="M451.57 62.46L455.43 62.46" stroke="#000" stroke-width="1"/>
<rect x="451.4" y="64.52" width="4.2" height="47.28" fill="#3d3d3d"/>
<path d="M457.7 88.11L457.7 83.99" stroke="#000" stroke-width="1"/>
<path d="M455.77 83.99L459.63 83.99" stroke="#000" stroke-width="1"/>
<rect x="455.6" y="88.11" width="4.2" height="23.69" fill="#000"/>
<path d="M468.85 110.56L468.85 110.25" stroke="#000" stroke-width="1"/>
<path d="M466.92 110.25L470.78 110.25" stroke="#000" stroke-width="1"/>
<rect x="466.75" y="110.56" width="4.2" height="1.24" fill="#c3c3c3"/>
<path d="M473.05 107.68L473.05 106.86" stroke="#000" stroke-width="1"/>
<path d="M471.12 106.86L474.98 106.86" stroke="#000" stroke-width="1"/>
<rect x="470.95" y="107.68" width="4.2" height="4.12" fill="#888888"/>
<path d="M477.25 104.28L477.25 102.02" stroke="#000" stroke-width="1"/>
<path d="M475.32 102.02L479.18 102.02" stroke="#000" stroke-width="1"/>
<rect x="475.15" y="104.28" width="4.2" height="7.52" fill="#3d3d3d"/>
<path d="M481.45 102.53L481.45 100.06" stroke="#000" stroke-width="1"/>
<path d="M479.52 100.06L483.38 100.06" stroke="#000" stroke-width="1"/>
<rect x="479.35" y="102.53" width="4.2" height="9.27" fill="#000"/>
<rect x="490.2" y="111.28" width="4.2" height=".52" fill="#c3c3c3"/>
<path d="M496.5 110.56L496.5 110.36" stroke="#000" stroke-width="1"/>
<path d="M494.57 110.36L498.43 110.36" stroke="#000" stroke-width="1"/>
<rect x="494.4" y="110.56" width="4.2" height="1.24" fill="#888888"/>
<path d="M500.7 109.53L500.7 109.22" stroke="#000" stroke-width="1"/>
<path d="M498.77 109.22L502.63 109.22" stroke="#000" stroke-width="1"/>
<rect x="498.6" y="109.53" width="4.2" height="2.27" fill="#3d3d3d"/>
<path d="M504.9 109.74L504.9 109.43" stroke="#000" stroke-width="1"/>
<path d="M502.97 109.43L506.83 109.43" stroke="#000" stroke-width="1"/>
<rect x="502.8" y="109.74" width="4.2" height="2.06" fill="#000"/>
<text transform="translate(428 123.4)" font-size="7" text-anchor="middle">I</text>
<text transform="translate(451.3 123.4)" font-size="7" text-anchor="middle">II</text>
<text transform="translate(475 123.4)" font-size="7" text-anchor="middle">III</text>
<text transform="translate(498.8 123.4)" font-size="7" text-anchor="middle">IV</text>
<path d="M428 89.25L436.4 89.25" stroke="#000" stroke-width="1.15"/>
<text transform="translate(432 87.95)" font-size="6" text-anchor="middle" font-weight="bold">*</text>
<path d="M452 59.25L460.2 59.25" stroke="#000" stroke-width="1.15"/>
<text transform="translate(455.8 57.95)" font-size="6" text-anchor="middle" font-weight="bold">*</text>
<text transform="translate(5.9 157.3)" font-size="12" font-weight="bold">B</text>
<path d="M35.3 158.7L35.3 262.3" stroke="#000" stroke-width="1.35"/>
<path d="M35.3 153.1L38.5 161.1L35.3 158.86L32.1 161.1Z" style="fill:#000"/>
<path d="M34.85 262.3L253.2 262.3" stroke="#000" stroke-width="1.35"/>
<path d="M258.8 262.3L250.8 259.1L253.04 262.3L250.8 265.5Z" style="fill:#000"/>
<text transform="translate(14.8 209.6) rotate(-90) scale(.72 1)" font-size="10.6" text-anchor="middle" style="stroke-width:.35px">CD61</text>
<text transform="translate(145 274.2) scale(.85 1)" font-size="10" text-anchor="middle" style="stroke-width:.35px">CD41</text>
<text transform="translate(26 184.8)" font-size="8" text-anchor="middle">BM</text>
<text transform="translate(24.4 236.7)" font-size="8" text-anchor="middle">SPL</text>
<text transform="translate(68.3 158.9)" font-size="6.3" text-anchor="middle" style="stroke-width:.07px">Control</text>
<text transform="translate(122.5 158.9)" font-size="6.3" text-anchor="middle" style="stroke-width:.07px">Ezh2<tspan font-size="3.4" dy="-2.6">-/-</tspan></text>
<text transform="translate(175.5 158.9)" font-size="6.3" text-anchor="middle" style="stroke-width:.07px">Jak2<tspan font-size="3.4" dy="-2.6">VF/+</tspan></text>
<text transform="translate(229.2 158.9)" font-size="6.3" text-anchor="middle" style="stroke-width:.07px">Jak2<tspan font-size="3.4" dy="-2.6">VF/+</tspan><tspan dy="2.6"> Ezh2</tspan><tspan font-size="3.4" dy="-2.6">-/-</tspan></text>
<clipPath id="c9"><rect x="49.6" y="160.9" width="38.7" height="39.2"/></clipPath>
<g clip-path="url(#c9)">
<ellipse cx="56.6" cy="183.4" rx="9.5" ry="3.6" fill="url(#gd)" transform="rotate(0 56.6 183.4)"/>
<ellipse cx="63.6" cy="183.4" rx="16" ry="3.8" fill="url(#gm)" transform="rotate(-3 63.6 183.4)"/>
<ellipse cx="56.1" cy="194.3" rx="8.5" ry="3.8" fill="url(#gm)" transform="rotate(0 56.1 194.3)"/>
<ellipse cx="55.6" cy="194.6" rx="6" ry="2.4" fill="url(#gm)" transform="rotate(0 55.6 194.6)"/>
<ellipse cx="56.1" cy="189" rx="9.5" ry="8" fill="url(#gm)" transform="rotate(0 56.1 189)"/>
<path d="M59.8 185.0h.5M57.6 180.6h.5M56.0 181.5h.5M58.4 181.3h.5M61.2 184.4h.5M67.1 184.6h.5M60.7 182.9h.5M53.6 186.3h.5M57.5 184.5h.5M58.3 184.9h.5M59.5 187.8h.5M57.8 182.4h.5M55.1 182.7h.5M61.4 183.5h.5M57.5 181.1h.5M59.8 186.6h.5M59.6 182.7h.5M50.2 184.2h.5M58.6 182.9h.5M50.8 181.6h.5M57.5 181.3h.5M55.0 185.7h.5M52.3 183.1h.5M59.3 182.0h.5M60.5 179.9h.5M54.5 182.3h.5M62.6 180.2h.5M54.8 180.4h.5M51.1 183.2h.5M54.3 182.9h.5M52.4 180.2h.5M60.7 186.0h.5M55.9 182.5h.5M62.7 184.2h.5M57.4 184.9h.5M51.6 181.6h.5M56.6 181.1h.5M56.2 183.6h.5M58.9 184.2h.5M57.8 185.1h.5M61.0 182.7h.5M55.1 181.0h.5M53.7 181.7h.5M61.1 186.1h.5M57.6 183.0h.5M57.8 184.7h.5M58.8 184.0h.5M55.1 182.7h.5M67.1 185.2h.5M51.8 184.7h.5M52.3 183.7h.5M53.6 183.7h.5M53.4 182.7h.5M58.6 184.4h.5M53.6 184.2h.5M55.8 182.3h.5M61.3 183.4h.5M56.1 184.8h.5M52.9 187.4h.5M62.7 183.3h.5M56.7 183.7h.5M60.1 184.1h.5M52.4 181.4h.5M61.9 180.7h.5M56.5 186.0h.5M51.5 185.1h.5M72.6 187.7h.5M74.6 183.2h.5M55.1 186.6h.5M74.2 186.0h.5M76.6 182.8h.5M60.7 181.4h.5M67.3 184.9h.5M58.4 184.1h.5M71.9 186.1h.5M57.5 183.3h.5M55.5 181.9h.5M70.6 184.9h.5M60.2 183.1h.5M58.8 187.3h.5M58.6 183.0h.5M56.7 185.1h.5M59.3 180.0h.5M65.7 183.6h.5M62.1 183.6h.5M65.8 184.0h.5M73.2 184.3h.5M72.2 184.3h.5M67.9 183.0h.5M64.1 180.9h.5M73.2 187.0h.5M62.9 181.6h.5M66.4 182.7h.5M71.1 179.8h.5M77.0 185.5h.5M67.1 179.1h.5M61.2 186.6h.5M64.9 181.6h.5M64.9 183.4h.5M53.5 183.8h.5M71.7 184.9h.5M72.3 183.6h.5M58.2 183.6h.5M80.2 183.7h.5M69.9 181.0h.5M73.2 183.3h.5M76.8 182.0h.5M62.7 182.9h.5M58.4 183.0h.5M64.8 183.3h.5M66.6 187.1h.5M68.6 184.2h.5M58.1 187.4h.5M57.2 179.6h.5M64.9 184.1h.5M56.2 186.5h.5M49.7 181.1h.5M62.8 182.7h.5M61.5 184.7h.5M62.4 186.3h.5M51.1 185.2h.5M81.0 182.9h.5M70.6 185.7h.5M64.9 182.9h.5M73.0 183.0h.5M56.7 184.6h.5M65.4 184.4h.5M63.1 184.8h.5M59.1 187.6h.5M69.5 182.6h.5M59.4 194.6h.5M57.7 193.4h.5M55.1 193.6h.5M54.5 195.2h.5M53.1 193.1h.5M56.9 192.0h.5M55.4 194.5h.5M56.7 193.8h.5M57.1 192.6h.5M59.1 193.7h.5M51.3 193.1h.5M55.5 192.8h.5M53.1 195.3h.5M62.2 192.8h.5M52.2 197.1h.5M53.7 193.3h.5M54.2 194.3h.5M56.5 195.0h.5M61.2 195.6h.5M60.0 191.1h.5M58.1 198.8h.5M52.8 196.8h.5M52.1 193.1h.5M52.8 190.6h.5M54.4 192.2h.5M60.6 191.9h.5M55.1 194.6h.5M66.0 193.3h.5M55.5 193.5h.5M57.8 191.7h.5M60.8 193.8h.5M54.8 197.5h.5M62.3 195.1h.5M58.4 193.7h.5M60.3 195.5h.5M52.7 192.1h.5M52.3 194.0h.5M53.0 188.8h.5M51.8 194.2h.5M58.7 194.1h.5M57.9 191.2h.5M54.2 192.4h.5M56.3 194.3h.5M52.0 195.3h.5M55.4 192.8h.5M57.6 196.3h.5M52.7 192.5h.5M59.5 192.8h.5M57.8 196.9h.5M55.4 194.6h.5M54.4 194.8h.5M50.2 191.1h.5M54.9 189.6h.5M61.1 197.1h.5M56.4 192.9h.5M53.5 194.5h.5M54.2 196.5h.5M52.9 195.5h.5M54.4 183.2h.5M60.7 192.5h.5M56.3 188.0h.5M56.1 188.2h.5M51.9 190.7h.5M58.0 189.2h.5M54.3 186.2h.5M53.3 188.7h.5M56.2 185.2h.5M60.4 188.0h.5M55.2 193.1h.5M60.8 188.6h.5M54.6 193.8h.5M50.9 183.9h.5M54.3 183.2h.5M51.8 191.3h.5M61.6 188.5h.5M56.4 185.2h.5M60.8 189.3h.5M51.4 188.4h.5M56.8 191.3h.5M63.2 190.9h.5M61.3 183.9h.5M58.9 180.7h.5M63.6 185.2h.5M59.6 186.7h.5M66.1 188.8h.5M59.7 181.8h.5M56.0 183.8h.5M54.5 194.6h.5M59.5 187.7h.5M58.4 191.9h.5M50.8 190.7h.5M56.5 192.0h.5M59.3 192.6h.5M58.9 191.9h.5M59.3 194.0h.5M53.6 187.0h.5M60.0 189.0h.5M59.4 187.1h.5M50.2 187.0h.5M52.3 187.3h.5M57.8 183.6h.5M51.0 187.3h.5M55.1 193.0h.5M55.4 182.7h.5M63.8 188.8h.5M60.3 188.8h.5M50.5 191.4h.5M57.8 187.5h.5M77.9 178.5h.5M75.2 179.6h.5M72.7 178.8h.5M70.3 182.9h.5M74.1 181.3h.5M73.0 182.4h.5M70.6 182.6h.5M70.2 181.8h.5M80.6 176.4h.5M75.5 178.6h.5M73.5 178.2h.5M74.4 179.3h.5M78.9 177.1h.5M73.0 180.3h.5M74.5 178.8h.5M78.5 175.2h.5M72.1 178.1h.5M74.3 181.7h.5M80.3 176.2h.5M75.3 179.5h.5M74.4 179.1h.5M67.9 180.8h.5M70.3 181.8h.5M73.8 177.5h.5M73.5 180.2h.5M79.9 175.8h.5M69.8 182.9h.5" stroke="#000" stroke-width=".5" opacity=".45"/>
</g>
<rect x="49.6" y="160.9" width="38.7" height="39.2" fill="none" stroke="#000" stroke-width="1.1"/>
<path d="M47.1 164.7L49.6 164.7" stroke="#000" stroke-width="1"/>
<path d="M47.1 173.5L49.6 173.5" stroke="#000" stroke-width="1"/>
<path d="M47.1 182.7L49.6 182.7" stroke="#000" stroke-width="1"/>
<path d="M47.1 191.9L49.6 191.9" stroke="#000" stroke-width="1"/>
<path d="M47.1 196.1L49.6 196.1" stroke="#000" stroke-width="1"/>
<path d="M54.9 200.1L54.9 202.4" stroke="#000" stroke-width="1"/>
<path d="M57.8 200.1L57.8 202.4" stroke="#000" stroke-width="1"/>
<path d="M67.4 200.1L67.4 202.4" stroke="#000" stroke-width="1"/>
<path d="M76.1 200.1L76.1 202.4" stroke="#000" stroke-width="1"/>
<path d="M84.7 200.1L84.7 202.4" stroke="#000" stroke-width="1"/>
<path d="M48.4 167.78L49.6 167.78" stroke="#000" stroke-width=".4"/>
<path d="M48.4 169.98L49.6 169.98" stroke="#000" stroke-width=".4"/>
<path d="M48.4 171.74L49.6 171.74" stroke="#000" stroke-width=".4"/>
<path d="M48.4 176.72L49.6 176.72" stroke="#000" stroke-width=".4"/>
<path d="M48.4 179.02L49.6 179.02" stroke="#000" stroke-width=".4"/>
<path d="M48.4 180.86L49.6 180.86" stroke="#000" stroke-width=".4"/>
<path d="M48.4 185.92L49.6 185.92" stroke="#000" stroke-width=".4"/>
<path d="M48.4 188.22L49.6 188.22" stroke="#000" stroke-width=".4"/>
<path d="M48.4 190.06L49.6 190.06" stroke="#000" stroke-width=".4"/>
<path d="M48.4 193.37L49.6 193.37" stroke="#000" stroke-width=".4"/>
<path d="M48.4 194.42L49.6 194.42" stroke="#000" stroke-width=".4"/>
<path d="M48.4 195.26L49.6 195.26" stroke="#000" stroke-width=".4"/>
<path d="M61.16 200.1L61.16 201.3" stroke="#000" stroke-width=".4"/>
<path d="M63.56 200.1L63.56 201.3" stroke="#000" stroke-width=".4"/>
<path d="M65.48 200.1L65.48 201.3" stroke="#000" stroke-width=".4"/>
<path d="M70.45 200.1L70.45 201.3" stroke="#000" stroke-width=".4"/>
<path d="M72.62 200.1L72.62 201.3" stroke="#000" stroke-width=".4"/>
<path d="M74.36 200.1L74.36 201.3" stroke="#000" stroke-width=".4"/>
<path d="M79.11 200.1L79.11 201.3" stroke="#000" stroke-width=".4"/>
<path d="M81.26 200.1L81.26 201.3" stroke="#000" stroke-width=".4"/>
<path d="M82.98 200.1L82.98 201.3" stroke="#000" stroke-width=".4"/>
<text transform="translate(46.6 165.6)" font-size="2.2" text-anchor="end" style="fill:#222;stroke:#222">10<tspan font-size="1.6" dy="-.9">5</tspan></text>
<text transform="translate(46.6 174.4)" font-size="2.2" text-anchor="end" style="fill:#222;stroke:#222">10<tspan font-size="1.6" dy="-.9">4</tspan></text>
<text transform="translate(46.6 183.6)" font-size="2.2" text-anchor="end" style="fill:#222;stroke:#222">10<tspan font-size="1.6" dy="-.9">3</tspan></text>
<text transform="translate(46.6 192.8)" font-size="2.2" text-anchor="end" style="fill:#222;stroke:#222">10<tspan font-size="1.6" dy="-.9">2</tspan></text>
<text transform="translate(46.6 197)" font-size="2.2" text-anchor="end" style="fill:#222;stroke:#222">0</text>
<text transform="translate(54.5 206.3)" font-size="2.2" text-anchor="middle" style="fill:#222;stroke:#222">0</text>
<text transform="translate(58.4 206.3)" font-size="2.2" text-anchor="middle" style="fill:#222;stroke:#222">10<tspan font-size="1.6" dy="-.9">2</tspan></text>
<text transform="translate(68 206.3)" font-size="2.2" text-anchor="middle" style="fill:#222;stroke:#222">10<tspan font-size="1.6" dy="-.9">3</tspan></text>
<text transform="translate(76.7 206.3)" font-size="2.2" text-anchor="middle" style="fill:#222;stroke:#222">10<tspan font-size="1.6" dy="-.9">4</tspan></text>
<text transform="translate(85.3 206.3)" font-size="2.2" text-anchor="middle" style="fill:#222;stroke:#222">10<tspan font-size="1.6" dy="-.9">5</tspan></text>
<path d="M62.6 160.9L62.6 200.1" stroke="#000" stroke-width=".7"/>
<path d="M49.6 189.6L88.3 189.6" stroke="#000" stroke-width=".7"/>
<text transform="translate(50.8 166.5)" font-size="5.2">46.8</text>
<text transform="translate(87.4 166.5)" font-size="5.2" text-anchor="end">19.9</text>
<text transform="translate(87.4 198.8)" font-size="5.2" text-anchor="end">1.56</text>
<clipPath id="c10"><rect x="103.2" y="160.9" width="38.7" height="39.2"/></clipPath>
<g clip-path="url(#c10)">
<ellipse cx="110.2" cy="183.4" rx="9.5" ry="3.6" fill="url(#gd)" transform="rotate(0 110.2 183.4)"/>
<ellipse cx="117.2" cy="183.4" rx="16" ry="3.8" fill="url(#gm)" transform="rotate(-3 117.2 183.4)"/>
<ellipse cx="109.7" cy="194.3" rx="8.5" ry="3.8" fill="url(#gm)" transform="rotate(0 109.7 194.3)"/>
<ellipse cx="109.2" cy="194.6" rx="6" ry="2.4" fill="url(#gm)" transform="rotate(0 109.2 194.6)"/>
<ellipse cx="109.7" cy="189" rx="9.5" ry="8" fill="url(#gm)" transform="rotate(0 109.7 189)"/>
<path d="M107.5 182.8h.5M120.7 182.5h.5M103.3 183.9h.5M110.9 184.6h.5M108.5 186.1h.5M113.2 188.1h.5M113.0 183.9h.5M117.1 185.0h.5M106.6 184.9h.5M107.1 185.7h.5M107.5 184.1h.5M106.5 184.1h.5M117.0 185.5h.5M107.2 181.0h.5M113.7 182.2h.5M106.6 184.7h.5M104.4 184.9h.5M115.5 183.5h.5M105.9 183.0h.5M117.5 183.8h.5M116.3 183.5h.5M110.9 183.8h.5M110.9 184.0h.5M114.4 185.6h.5M109.6 181.7h.5M107.1 181.7h.5M106.6 186.8h.5M107.6 180.9h.5M112.2 183.4h.5M114.5 183.7h.5M119.3 182.2h.5M111.5 182.6h.5M107.9 180.4h.5M113.3 180.4h.5M112.1 184.3h.5M112.3 180.6h.5M114.2 182.2h.5M112.2 182.8h.5M119.7 182.4h.5M109.3 184.0h.5M103.3 182.6h.5M109.2 183.9h.5M108.6 186.7h.5M119.6 185.7h.5M110.2 184.6h.5M120.4 186.7h.5M113.6 182.5h.5M115.9 184.9h.5M110.8 183.2h.5M103.9 180.8h.5M104.2 184.0h.5M111.4 182.1h.5M109.2 186.0h.5M104.6 182.7h.5M104.6 187.1h.5M108.5 186.0h.5M114.0 182.3h.5M113.4 183.8h.5M112.7 183.8h.5M113.4 184.5h.5M106.7 184.8h.5M106.6 181.1h.5M108.5 181.8h.5M107.1 181.5h.5M114.4 185.0h.5M107.2 185.9h.5M109.9 182.1h.5M105.4 184.2h.5M109.8 183.9h.5M124.4 185.1h.5M109.9 181.5h.5M114.0 182.3h.5M112.1 179.1h.5M118.4 181.2h.5M135.1 182.0h.5M124.9 183.7h.5M111.1 184.2h.5M113.9 182.9h.5M116.7 179.7h.5M128.6 183.9h.5M116.2 186.2h.5M109.0 179.0h.5M119.3 181.6h.5M116.6 182.4h.5M115.2 181.6h.5M116.7 184.8h.5M120.3 186.6h.5M122.0 183.9h.5M118.9 184.4h.5M115.7 181.0h.5M108.3 180.4h.5M115.1 183.7h.5M120.9 185.3h.5M113.1 179.5h.5M111.5 183.6h.5M108.2 187.7h.5M125.7 181.5h.5M113.0 183.7h.5M119.0 183.7h.5M107.4 182.0h.5M128.0 182.7h.5M125.3 182.9h.5M119.1 183.8h.5M115.0 185.8h.5M123.9 182.9h.5M118.5 186.4h.5M109.5 185.4h.5M126.4 186.0h.5M128.8 181.2h.5M123.8 182.4h.5M123.9 183.4h.5M124.3 181.7h.5M118.7 184.4h.5M121.7 184.9h.5M131.9 180.9h.5M117.7 180.2h.5M122.4 186.2h.5M118.9 185.6h.5M133.7 183.4h.5M124.7 184.8h.5M111.1 181.4h.5M113.9 181.9h.5M121.9 178.8h.5M118.8 182.8h.5M115.5 182.8h.5M113.0 182.1h.5M118.7 182.9h.5M119.4 183.1h.5M117.7 183.4h.5M133.9 186.5h.5M126.1 179.3h.5M122.1 185.8h.5M120.7 180.3h.5M114.8 188.5h.5M115.4 180.6h.5M115.6 185.4h.5M110.0 192.0h.5M114.7 195.0h.5M109.6 194.0h.5M108.5 192.8h.5M105.5 192.4h.5M116.4 197.7h.5M109.8 195.3h.5M108.3 194.5h.5M115.5 196.2h.5M114.0 195.7h.5M113.2 192.9h.5M112.9 191.0h.5M110.6 195.0h.5M111.5 190.6h.5M113.8 191.9h.5M109.2 191.1h.5M110.9 194.0h.5M109.4 191.8h.5M113.0 194.4h.5M108.6 192.0h.5M106.5 193.7h.5M115.0 194.0h.5M109.5 193.5h.5M113.2 196.2h.5M110.7 193.5h.5M112.7 196.1h.5M108.9 195.3h.5M112.1 196.0h.5M110.4 193.2h.5M110.3 193.6h.5M109.7 197.1h.5M113.4 194.4h.5M111.4 195.4h.5M111.6 193.6h.5M108.0 190.2h.5M109.9 198.1h.5M106.6 197.3h.5M106.3 193.4h.5M114.6 192.4h.5M107.4 196.5h.5M108.7 195.8h.5M120.4 192.3h.5M114.9 197.8h.5M109.6 194.0h.5M113.2 195.6h.5M116.3 191.8h.5M109.7 196.4h.5M112.3 193.7h.5M113.2 195.5h.5M106.1 190.8h.5M110.2 194.1h.5M110.7 195.2h.5M106.1 193.2h.5M114.9 193.1h.5M104.8 192.4h.5M112.2 198.2h.5M114.8 191.6h.5M110.2 193.2h.5M113.5 194.9h.5M109.0 186.4h.5M116.1 183.2h.5M107.9 184.7h.5M114.8 194.9h.5M112.3 193.1h.5M110.1 183.3h.5M110.6 197.2h.5M107.6 192.8h.5M116.3 190.4h.5M105.6 192.9h.5M111.3 188.7h.5M111.1 184.7h.5M108.5 192.0h.5M111.6 196.5h.5M113.3 198.8h.5M105.8 188.7h.5M111.0 183.8h.5M111.7 187.5h.5M109.3 188.1h.5M111.7 192.8h.5M108.2 192.0h.5M104.8 191.4h.5M110.4 186.2h.5M110.7 189.0h.5M103.6 194.4h.5M110.1 192.6h.5M115.8 198.5h.5M111.1 187.8h.5M107.1 188.4h.5M113.0 189.3h.5M108.0 184.3h.5M108.2 194.1h.5M113.5 190.8h.5M116.9 193.3h.5M104.1 193.3h.5M107.2 192.6h.5M106.4 187.6h.5M112.5 190.2h.5M115.2 189.6h.5M114.1 192.1h.5M112.8 193.1h.5M108.1 195.5h.5M114.5 179.7h.5M112.5 186.2h.5M121.6 187.8h.5M114.1 194.6h.5M107.2 183.9h.5M108.8 185.9h.5M113.5 183.5h.5M133.4 179.8h.5M127.8 179.2h.5M130.3 178.3h.5M124.4 179.8h.5M133.9 174.5h.5M129.3 179.8h.5M131.4 178.2h.5M125.6 181.9h.5M129.3 176.8h.5M129.1 176.0h.5M127.7 177.9h.5M125.2 182.5h.5M123.6 183.0h.5M130.4 176.2h.5M129.0 181.0h.5M126.6 180.7h.5M131.6 178.4h.5M132.7 175.7h.5M135.8 175.8h.5M126.5 178.5h.5M131.1 177.7h.5M127.0 181.8h.5M132.3 178.4h.5M123.9 180.9h.5M124.0 182.3h.5M133.8 177.7h.5M131.6 175.1h.5" stroke="#000" stroke-width=".5" opacity=".45"/>
</g>
<rect x="103.2" y="160.9" width="38.7" height="39.2" fill="none" stroke="#000" stroke-width="1.1"/>
<path d="M100.7 164.7L103.2 164.7" stroke="#000" stroke-width="1"/>
<path d="M100.7 173.5L103.2 173.5" stroke="#000" stroke-width="1"/>
<path d="M100.7 182.7L103.2 182.7" stroke="#000" stroke-width="1"/>
<path d="M100.7 191.9L103.2 191.9" stroke="#000" stroke-width="1"/>
<path d="M100.7 196.1L103.2 196.1" stroke="#000" stroke-width="1"/>
<path d="M108.5 200.1L108.5 202.4" stroke="#000" stroke-width="1"/>
<path d="M111.4 200.1L111.4 202.4" stroke="#000" stroke-width="1"/>
<path d="M121 200.1L121 202.4" stroke="#000" stroke-width="1"/>
<path d="M129.7 200.1L129.7 202.4" stroke="#000" stroke-width="1"/>
<path d="M138.3 200.1L138.3 202.4" stroke="#000" stroke-width="1"/>
<path d="M102 167.78L103.2 167.78" stroke="#000" stroke-width=".4"/>
<path d="M102 169.98L103.2 169.98" stroke="#000" stroke-width=".4"/>
<path d="M102 171.74L103.2 171.74" stroke="#000" stroke-width=".4"/>
<path d="M102 176.72L103.2 176.72" stroke="#000" stroke-width=".4"/>
<path d="M102 179.02L103.2 179.02" stroke="#000" stroke-width=".4"/>
<path d="M102 180.86L103.2 180.86" stroke="#000" stroke-width=".4"/>
<path d="M102 185.92L103.2 185.92" stroke="#000" stroke-width=".4"/>
<path d="M102 188.22L103.2 188.22" stroke="#000" stroke-width=".4"/>
<path d="M102 190.06L103.2 190.06" stroke="#000" stroke-width=".4"/>
<path d="M102 193.37L103.2 193.37" stroke="#000" stroke-width=".4"/>
<path d="M102 194.42L103.2 194.42" stroke="#000" stroke-width=".4"/>
<path d="M102 195.26L103.2 195.26" stroke="#000" stroke-width=".4"/>
<path d="M114.76 200.1L114.76 201.3" stroke="#000" stroke-width=".4"/>
<path d="M117.16 200.1L117.16 201.3" stroke="#000" stroke-width=".4"/>
<path d="M119.08 200.1L119.08 201.3" stroke="#000" stroke-width=".4"/>
<path d="M124.05 200.1L124.05 201.3" stroke="#000" stroke-width=".4"/>
<path d="M126.22 200.1L126.22 201.3" stroke="#000" stroke-width=".4"/>
<path d="M127.96 200.1L127.96 201.3" stroke="#000" stroke-width=".4"/>
<path d="M132.71 200.1L132.71 201.3" stroke="#000" stroke-width=".4"/>
<path d="M134.86 200.1L134.86 201.3" stroke="#000" stroke-width=".4"/>
<path d="M136.58 200.1L136.58 201.3" stroke="#000" stroke-width=".4"/>
<text transform="translate(100.2 165.6)" font-size="2.2" text-anchor="end" style="fill:#222;stroke:#222">10<tspan font-size="1.6" dy="-.9">5</tspan></text>
<text transform="translate(100.2 174.4)" font-size="2.2" text-anchor="end" style="fill:#222;stroke:#222">10<tspan font-size="1.6" dy="-.9">4</tspan></text>
<text transform="translate(100.2 183.6)" font-size="2.2" text-anchor="end" style="fill:#222;stroke:#222">10<tspan font-size="1.6" dy="-.9">3</tspan></text>
<text transform="translate(100.2 192.8)" font-size="2.2" text-anchor="end" style="fill:#222;stroke:#222">10<tspan font-size="1.6" dy="-.9">2</tspan></text>
<text transform="translate(100.2 197)" font-size="2.2" text-anchor="end" style="fill:#222;stroke:#222">0</text>
<text transform="translate(108.1 206.3)" font-size="2.2" text-anchor="middle" style="fill:#222;stroke:#222">0</text>
<text transform="translate(112 206.3)" font-size="2.2" text-anchor="middle" style="fill:#222;stroke:#222">10<tspan font-size="1.6" dy="-.9">2</tspan></text>
<text transform="translate(121.6 206.3)" font-size="2.2" text-anchor="middle" style="fill:#222;stroke:#222">10<tspan font-size="1.6" dy="-.9">3</tspan></text>
<text transform="translate(130.3 206.3)" font-size="2.2" text-anchor="middle" style="fill:#222;stroke:#222">10<tspan font-size="1.6" dy="-.9">4</tspan></text>
<text transform="translate(138.9 206.3)" font-size="2.2" text-anchor="middle" style="fill:#222;stroke:#222">10<tspan font-size="1.6" dy="-.9">5</tspan></text>
<path d="M116.2 160.9L116.2 200.1" stroke="#000" stroke-width=".7"/>
<path d="M103.2 189.6L141.9 189.6" stroke="#000" stroke-width=".7"/>
<text transform="translate(104.4 166.5)" font-size="5.2">48.5</text>
<text transform="translate(141 166.5)" font-size="5.2" text-anchor="end">25.9</text>
<text transform="translate(141 198.8)" font-size="5.2" text-anchor="end">1.77</text>
<clipPath id="c11"><rect x="156.4" y="160.9" width="38.7" height="39.2"/></clipPath>
<g clip-path="url(#c11)">
<ellipse cx="163.4" cy="183.4" rx="9.5" ry="3.6" fill="url(#gd)" transform="rotate(0 163.4 183.4)"/>
<ellipse cx="170.4" cy="183.4" rx="16" ry="3.8" fill="url(#gm)" transform="rotate(-3 170.4 183.4)"/>
<ellipse cx="162.9" cy="194.3" rx="8.5" ry="3.8" fill="url(#gm)" transform="rotate(0 162.9 194.3)"/>
<ellipse cx="162.4" cy="194.6" rx="6" ry="2.4" fill="url(#gm)" transform="rotate(0 162.4 194.6)"/>
<ellipse cx="162.9" cy="189" rx="9.5" ry="8" fill="url(#gm)" transform="rotate(0 162.9 189)"/>
<ellipse cx="181.4" cy="179.5" rx="8" ry="2.6" fill="url(#gl)" transform="rotate(-33 181.4 179.5)"/>
<path d="M167.3 185.4h.5M167.0 185.9h.5M159.8 182.3h.5M158.9 181.8h.5M169.0 184.0h.5M159.2 181.9h.5M169.0 181.4h.5M161.0 184.3h.5M169.4 185.8h.5M161.0 181.1h.5M158.2 184.2h.5M164.4 185.6h.5M167.4 185.4h.5M158.6 181.4h.5M163.4 184.2h.5M159.8 185.8h.5M159.1 184.2h.5M165.8 182.8h.5M165.1 185.7h.5M160.0 182.0h.5M158.6 182.7h.5M158.5 180.1h.5M166.5 181.1h.5M157.1 184.2h.5M168.3 181.4h.5M157.3 185.3h.5M159.2 181.8h.5M169.1 183.0h.5M166.1 183.0h.5M171.8 185.0h.5M166.9 182.2h.5M163.2 186.1h.5M166.5 182.9h.5M156.8 184.3h.5M164.3 185.2h.5M166.8 185.0h.5M163.6 184.1h.5M161.3 184.1h.5M165.4 184.1h.5M159.8 184.2h.5M162.7 181.6h.5M163.5 184.6h.5M161.1 186.2h.5M165.0 185.3h.5M166.5 180.2h.5M161.3 182.4h.5M165.8 184.0h.5M164.6 181.7h.5M169.9 179.4h.5M168.1 182.4h.5M167.2 183.5h.5M164.7 186.0h.5M160.2 179.5h.5M160.1 179.0h.5M159.9 181.8h.5M165.4 182.2h.5M164.8 180.5h.5M164.5 182.9h.5M167.8 187.5h.5M166.7 184.9h.5M159.0 182.2h.5M172.0 180.3h.5M162.0 184.2h.5M167.9 182.4h.5M163.4 184.4h.5M169.7 183.5h.5M162.2 185.7h.5M178.5 182.0h.5M173.2 183.0h.5M170.9 180.2h.5M172.3 183.2h.5M160.2 183.8h.5M163.0 182.5h.5M168.1 187.6h.5M179.2 180.9h.5M180.2 182.3h.5M181.3 184.2h.5M181.0 184.8h.5M167.1 182.5h.5M172.1 183.9h.5M180.4 187.6h.5M172.9 187.2h.5M175.3 184.4h.5M163.0 184.1h.5M176.2 182.8h.5M165.0 183.8h.5M180.0 184.7h.5M165.6 185.5h.5M169.1 182.7h.5M181.9 183.8h.5M171.9 183.3h.5M182.1 177.8h.5M178.9 183.7h.5M174.9 181.6h.5M162.3 184.6h.5M159.9 186.3h.5M176.1 182.9h.5M164.2 186.8h.5M169.7 180.0h.5M162.8 180.0h.5M176.6 180.8h.5M169.7 184.2h.5M180.3 180.0h.5M175.2 182.2h.5M168.8 179.1h.5M170.9 183.8h.5M173.0 184.4h.5M163.9 180.5h.5M175.4 180.5h.5M191.6 181.6h.5M169.2 182.1h.5M166.2 183.0h.5M158.7 186.1h.5M180.3 183.0h.5M164.4 184.3h.5M179.4 183.8h.5M168.6 184.2h.5M160.7 185.6h.5M182.8 184.4h.5M178.3 184.1h.5M160.0 186.7h.5M180.5 180.9h.5M168.5 185.1h.5M174.6 181.2h.5M161.8 181.6h.5M173.3 185.0h.5M177.3 182.6h.5M173.0 182.4h.5M179.8 183.1h.5M168.3 186.0h.5M170.7 182.9h.5M158.8 194.3h.5M169.7 192.3h.5M168.1 192.2h.5M159.5 196.5h.5M159.0 193.8h.5M161.4 197.0h.5M165.4 193.4h.5M161.4 195.2h.5M160.1 195.7h.5M168.0 195.8h.5M158.6 197.2h.5M163.2 197.4h.5M165.5 194.2h.5M159.8 195.3h.5M167.5 197.2h.5M158.9 197.8h.5M160.4 193.9h.5M172.0 194.1h.5M162.9 191.7h.5M163.1 189.7h.5M163.9 195.6h.5M163.2 192.3h.5M170.9 194.0h.5M160.4 194.1h.5M158.5 192.6h.5M156.4 192.7h.5M160.8 193.7h.5M164.0 193.3h.5M171.0 191.9h.5M163.9 195.5h.5M161.5 192.3h.5M157.9 196.5h.5M161.8 195.2h.5M164.8 194.1h.5M162.8 192.6h.5M167.1 194.0h.5M165.9 195.3h.5M160.3 194.2h.5M163.4 192.6h.5M162.7 192.9h.5M156.7 194.5h.5M163.8 195.8h.5M165.2 192.7h.5M159.5 196.4h.5M159.8 190.8h.5M170.5 191.6h.5M168.6 192.9h.5M161.5 192.5h.5M170.4 197.0h.5M159.6 195.2h.5M163.9 193.5h.5M165.0 189.9h.5M172.9 193.7h.5M167.0 194.2h.5M167.9 196.5h.5M171.4 192.7h.5M157.9 190.0h.5M169.5 194.5h.5M162.6 191.0h.5M171.7 194.5h.5M167.8 191.0h.5M162.7 182.1h.5M164.9 193.3h.5M166.9 180.8h.5M168.1 192.0h.5M168.0 185.4h.5M163.8 185.7h.5M162.1 189.0h.5M164.7 184.1h.5M167.7 197.6h.5M163.2 190.0h.5M162.6 187.4h.5M161.5 187.2h.5M170.6 189.9h.5M157.6 185.2h.5M161.0 182.9h.5M165.1 192.8h.5M159.6 185.3h.5M166.8 182.0h.5M162.9 191.5h.5M172.5 189.3h.5M164.4 194.1h.5M169.3 186.8h.5M165.3 192.7h.5M164.7 192.6h.5M162.5 183.2h.5M166.5 189.0h.5M160.9 183.5h.5M177.4 191.1h.5M157.2 192.5h.5M163.5 193.2h.5M172.1 196.1h.5M164.7 189.4h.5M162.0 183.8h.5M157.9 197.5h.5M161.3 184.9h.5M160.2 179.9h.5M166.0 186.3h.5M163.4 186.2h.5M162.4 185.0h.5M158.0 187.8h.5M161.4 184.3h.5M158.2 190.2h.5M169.2 184.0h.5M163.1 193.0h.5M185.1 175.6h.5M177.0 181.1h.5M183.6 180.0h.5M180.6 178.4h.5M178.8 182.1h.5M179.2 180.3h.5M181.7 178.8h.5M181.1 177.8h.5M181.9 180.3h.5M181.6 180.3h.5M184.1 177.7h.5M186.2 177.6h.5M184.0 177.6h.5M182.9 180.6h.5M180.4 181.7h.5M169.6 184.8h.5M179.6 181.7h.5M179.4 178.9h.5M183.4 177.0h.5M178.1 180.2h.5M177.8 180.7h.5M182.6 179.4h.5M172.2 189.3h.5M177.4 182.0h.5M176.3 183.7h.5M179.9 181.7h.5M180.0 182.2h.5M177.0 182.6h.5M184.0 177.3h.5M172.4 181.9h.5M179.7 177.6h.5M181.8 178.3h.5M178.9 180.1h.5M180.6 180.7h.5M181.3 176.1h.5M183.1 177.1h.5M186.1 175.1h.5M176.0 181.1h.5M181.4 179.3h.5M177.2 180.7h.5M178.5 183.5h.5M181.0 179.1h.5M181.1 179.8h.5M180.5 180.6h.5M184.2 177.7h.5M180.5 179.1h.5M183.4 178.0h.5M182.2 177.9h.5M183.6 176.7h.5M182.7 177.2h.5M181.5 182.6h.5M183.2 178.4h.5M184.8 178.8h.5M181.0 178.6h.5" stroke="#000" stroke-width=".5" opacity=".45"/>
</g>
<rect x="156.4" y="160.9" width="38.7" height="39.2" fill="none" stroke="#000" stroke-width="1.1"/>
<path d="M153.9 164.7L156.4 164.7" stroke="#000" stroke-width="1"/>
<path d="M153.9 173.5L156.4 173.5" stroke="#000" stroke-width="1"/>
<path d="M153.9 182.7L156.4 182.7" stroke="#000" stroke-width="1"/>
<path d="M153.9 191.9L156.4 191.9" stroke="#000" stroke-width="1"/>
<path d="M153.9 196.1L156.4 196.1" stroke="#000" stroke-width="1"/>
<path d="M161.7 200.1L161.7 202.4" stroke="#000" stroke-width="1"/>
<path d="M164.6 200.1L164.6 202.4" stroke="#000" stroke-width="1"/>
<path d="M174.2 200.1L174.2 202.4" stroke="#000" stroke-width="1"/>
<path d="M182.9 200.1L182.9 202.4" stroke="#000" stroke-width="1"/>
<path d="M191.5 200.1L191.5 202.4" stroke="#000" stroke-width="1"/>
<path d="M155.2 167.78L156.4 167.78" stroke="#000" stroke-width=".4"/>
<path d="M155.2 169.98L156.4 169.98" stroke="#000" stroke-width=".4"/>
<path d="M155.2 171.74L156.4 171.74" stroke="#000" stroke-width=".4"/>
<path d="M155.2 176.72L156.4 176.72" stroke="#000" stroke-width=".4"/>
<path d="M155.2 179.02L156.4 179.02" stroke="#000" stroke-width=".4"/>
<path d="M155.2 180.86L156.4 180.86" stroke="#000" stroke-width=".4"/>
<path d="M155.2 185.92L156.4 185.92" stroke="#000" stroke-width=".4"/>
<path d="M155.2 188.22L156.4 188.22" stroke="#000" stroke-width=".4"/>
<path d="M155.2 190.06L156.4 190.06" stroke="#000" stroke-width=".4"/>
<path d="M155.2 193.37L156.4 193.37" stroke="#000" stroke-width=".4"/>
<path d="M155.2 194.42L156.4 194.42" stroke="#000" stroke-width=".4"/>
<path d="M155.2 195.26L156.4 195.26" stroke="#000" stroke-width=".4"/>
<path d="M167.96 200.1L167.96 201.3" stroke="#000" stroke-width=".4"/>
<path d="M170.36 200.1L170.36 201.3" stroke="#000" stroke-width=".4"/>
<path d="M172.28 200.1L172.28 201.3" stroke="#000" stroke-width=".4"/>
<path d="M177.25 200.1L177.25 201.3" stroke="#000" stroke-width=".4"/>
<path d="M179.42 200.1L179.42 201.3" stroke="#000" stroke-width=".4"/>
<path d="M181.16 200.1L181.16 201.3" stroke="#000" stroke-width=".4"/>
<path d="M185.91 200.1L185.91 201.3" stroke="#000" stroke-width=".4"/>
<path d="M188.06 200.1L188.06 201.3" stroke="#000" stroke-width=".4"/>
<path d="M189.78 200.1L189.78 201.3" stroke="#000" stroke-width=".4"/>
<text transform="translate(153.4 165.6)" font-size="2.2" text-anchor="end" style="fill:#222;stroke:#222">10<tspan font-size="1.6" dy="-.9">5</tspan></text>
<text transform="translate(153.4 174.4)" font-size="2.2" text-anchor="end" style="fill:#222;stroke:#222">10<tspan font-size="1.6" dy="-.9">4</tspan></text>
<text transform="translate(153.4 183.6)" font-size="2.2" text-anchor="end" style="fill:#222;stroke:#222">10<tspan font-size="1.6" dy="-.9">3</tspan></text>
<text transform="translate(153.4 192.8)" font-size="2.2" text-anchor="end" style="fill:#222;stroke:#222">10<tspan font-size="1.6" dy="-.9">2</tspan></text>
<text transform="translate(153.4 197)" font-size="2.2" text-anchor="end" style="fill:#222;stroke:#222">0</text>
<text transform="translate(161.3 206.3)" font-size="2.2" text-anchor="middle" style="fill:#222;stroke:#222">0</text>
<text transform="translate(165.2 206.3)" font-size="2.2" text-anchor="middle" style="fill:#222;stroke:#222">10<tspan font-size="1.6" dy="-.9">2</tspan></text>
<text transform="translate(174.8 206.3)" font-size="2.2" text-anchor="middle" style="fill:#222;stroke:#222">10<tspan font-size="1.6" dy="-.9">3</tspan></text>
<text transform="translate(183.5 206.3)" font-size="2.2" text-anchor="middle" style="fill:#222;stroke:#222">10<tspan font-size="1.6" dy="-.9">4</tspan></text>
<text transform="translate(192.1 206.3)" font-size="2.2" text-anchor="middle" style="fill:#222;stroke:#222">10<tspan font-size="1.6" dy="-.9">5</tspan></text>
<path d="M169.4 160.9L169.4 200.1" stroke="#000" stroke-width=".7"/>
<path d="M156.4 189.6L195.1 189.6" stroke="#000" stroke-width=".7"/>
<text transform="translate(157.6 166.5)" font-size="5.2">43.1</text>
<text transform="translate(194.2 166.5)" font-size="5.2" text-anchor="end">20.1</text>
<text transform="translate(194.2 198.8)" font-size="5.2" text-anchor="end">2.21</text>
<clipPath id="c12"><rect x="209.9" y="160.9" width="38.8" height="39.2"/></clipPath>
<g clip-path="url(#c12)">
<ellipse cx="216.9" cy="183.4" rx="9.5" ry="3.6" fill="url(#gd)" transform="rotate(0 216.9 183.4)"/>
<ellipse cx="223.9" cy="183.4" rx="16" ry="3.8" fill="url(#gm)" transform="rotate(-3 223.9 183.4)"/>
<ellipse cx="216.4" cy="194.3" rx="8.5" ry="3.8" fill="url(#gm)" transform="rotate(0 216.4 194.3)"/>
<ellipse cx="215.9" cy="194.6" rx="6" ry="2.4" fill="url(#gm)" transform="rotate(0 215.9 194.6)"/>
<ellipse cx="216.4" cy="189" rx="9.5" ry="8" fill="url(#gm)" transform="rotate(0 216.4 189)"/>
<ellipse cx="234.9" cy="179.5" rx="8" ry="2.6" fill="url(#gl)" transform="rotate(-33 234.9 179.5)"/>
<ellipse cx="227.9" cy="183.2" rx="12" ry="4.2" fill="url(#gm)" transform="rotate(-8 227.9 183.2)"/>
<path d="M222.1 183.1h.5M215.4 180.5h.5M217.3 184.1h.5M215.0 182.8h.5M218.6 182.7h.5M219.8 184.0h.5M217.4 183.0h.5M217.3 184.2h.5M220.9 185.0h.5M218.9 185.1h.5M216.1 180.5h.5M216.9 185.1h.5M212.9 182.0h.5M216.9 184.9h.5M219.9 188.6h.5M224.5 180.9h.5M215.3 185.4h.5M219.9 184.9h.5M216.9 184.2h.5M218.8 183.0h.5M219.7 180.8h.5M221.5 184.5h.5M230.9 183.3h.5M215.9 182.0h.5M210.8 182.7h.5M210.0 185.5h.5M221.6 184.2h.5M223.5 184.1h.5M221.0 181.8h.5M210.8 182.4h.5M217.5 185.2h.5M210.9 182.2h.5M213.0 184.8h.5M214.0 185.4h.5M215.0 182.0h.5M213.2 180.2h.5M213.0 187.2h.5M218.8 185.0h.5M217.4 183.0h.5M223.7 182.5h.5M214.5 184.7h.5M215.7 182.9h.5M226.6 184.1h.5M214.9 182.6h.5M213.4 184.0h.5M219.6 182.3h.5M215.6 180.5h.5M215.4 184.6h.5M212.1 183.2h.5M213.4 182.5h.5M218.3 181.6h.5M222.3 185.7h.5M222.6 181.7h.5M217.5 183.3h.5M216.0 183.4h.5M215.1 184.6h.5M210.0 184.1h.5M219.3 182.3h.5M234.6 183.9h.5M218.1 181.2h.5M218.1 183.8h.5M222.2 182.5h.5M232.7 180.4h.5M223.8 180.0h.5M223.8 184.8h.5M211.5 185.4h.5M227.4 180.1h.5M215.9 182.8h.5M228.1 185.8h.5M218.3 181.8h.5M220.4 178.3h.5M227.5 182.9h.5M221.5 186.1h.5M221.4 182.1h.5M231.9 182.1h.5M224.1 182.8h.5M223.6 183.8h.5M226.3 181.0h.5M234.3 182.1h.5M220.6 185.2h.5M220.2 184.5h.5M233.0 184.7h.5M220.6 185.5h.5M222.2 182.0h.5M217.4 184.4h.5M218.7 186.2h.5M230.5 184.2h.5M233.2 184.7h.5M218.0 188.4h.5M212.2 184.3h.5M220.3 181.0h.5M228.2 183.4h.5M223.8 181.4h.5M235.1 182.4h.5M229.6 180.3h.5M235.3 182.2h.5M231.6 182.2h.5M223.5 184.3h.5M223.8 187.4h.5M222.6 183.0h.5M232.7 183.3h.5M216.6 183.3h.5M230.1 183.3h.5M233.0 180.8h.5M226.5 181.9h.5M221.2 182.4h.5M217.8 188.2h.5M225.5 184.9h.5M227.3 187.0h.5M219.7 181.3h.5M229.1 181.4h.5M235.8 181.1h.5M222.2 184.8h.5M215.4 183.4h.5M226.6 180.6h.5M223.3 180.8h.5M222.9 186.6h.5M235.2 182.5h.5M222.4 182.1h.5M230.4 184.5h.5M213.1 182.3h.5M214.0 184.3h.5M226.0 183.6h.5M229.0 184.3h.5M224.1 184.4h.5M220.2 185.1h.5M232.1 179.0h.5M236.9 182.6h.5M219.5 194.4h.5M223.0 194.3h.5M218.2 193.3h.5M216.5 195.2h.5M212.4 194.0h.5M214.1 194.5h.5M220.5 194.6h.5M221.9 193.1h.5M215.0 194.0h.5M212.7 195.0h.5M213.5 192.9h.5M217.5 192.9h.5M216.3 194.1h.5M221.0 197.0h.5M218.6 193.0h.5M219.8 198.9h.5M214.9 193.9h.5M221.9 194.1h.5M214.9 196.4h.5M212.6 196.1h.5M212.9 195.3h.5M216.0 192.7h.5M219.8 191.5h.5M218.7 193.9h.5M220.7 192.0h.5M220.3 198.1h.5M213.7 194.3h.5M217.4 193.0h.5M217.3 194.0h.5M214.4 191.8h.5M222.7 191.3h.5M215.5 190.7h.5M210.2 195.6h.5M216.4 192.4h.5M219.3 191.6h.5M219.5 196.4h.5M210.7 194.5h.5M222.9 194.8h.5M210.9 196.2h.5M216.4 194.7h.5M210.5 194.9h.5M217.3 192.0h.5M218.3 193.5h.5M219.5 195.7h.5M212.4 191.6h.5M221.7 195.3h.5M213.3 196.2h.5M218.5 195.0h.5M213.9 193.0h.5M221.4 194.0h.5M214.8 195.3h.5M211.4 193.9h.5M216.0 199.3h.5M213.2 191.0h.5M225.1 197.2h.5M214.3 193.6h.5M215.2 193.9h.5M214.7 194.7h.5M220.8 194.9h.5M220.2 191.6h.5M224.0 186.3h.5M211.6 185.3h.5M218.8 188.5h.5M210.5 188.4h.5M226.0 189.7h.5M214.6 185.7h.5M217.9 184.6h.5M215.5 184.0h.5M220.0 185.3h.5M223.2 192.6h.5M217.2 194.2h.5M223.4 186.4h.5M224.6 192.2h.5M221.6 188.1h.5M216.2 193.5h.5M215.0 188.8h.5M220.3 184.3h.5M221.0 196.4h.5M219.8 185.5h.5M220.3 191.8h.5M221.1 192.1h.5M220.0 192.8h.5M212.9 190.9h.5M211.3 186.5h.5M220.2 186.1h.5M219.4 193.3h.5M218.8 193.2h.5M220.3 188.2h.5M219.2 185.9h.5M216.4 194.4h.5M212.7 198.1h.5M217.4 188.4h.5M226.3 188.2h.5M220.9 193.5h.5M213.8 188.2h.5M216.2 188.5h.5M213.2 192.9h.5M218.0 185.1h.5M215.1 193.4h.5M211.7 188.0h.5M223.9 193.4h.5M217.2 191.5h.5M218.9 199.1h.5M222.3 191.6h.5M213.3 187.7h.5M217.0 186.5h.5M217.2 189.6h.5M215.6 187.9h.5M211.2 185.1h.5M226.4 195.3h.5M219.2 191.7h.5M235.2 178.1h.5M234.8 177.2h.5M234.4 178.3h.5M235.1 181.1h.5M234.3 179.7h.5M237.4 178.5h.5M240.6 176.6h.5M238.7 176.7h.5M233.8 181.6h.5M237.9 175.8h.5M230.1 181.8h.5M238.4 176.1h.5M238.1 180.6h.5M236.8 178.5h.5M236.7 179.8h.5M228.7 182.2h.5M236.2 181.9h.5M241.7 175.0h.5M235.7 177.1h.5M233.1 180.9h.5M233.5 181.2h.5M234.3 180.4h.5M238.1 177.0h.5M236.6 178.9h.5M233.7 180.5h.5M233.0 179.6h.5M232.5 180.0h.5M230.5 184.4h.5M228.2 184.8h.5M231.4 179.5h.5M233.5 178.4h.5M233.9 182.3h.5M237.5 178.1h.5M235.8 176.1h.5M240.9 176.0h.5M232.9 181.2h.5M238.3 176.3h.5M236.6 181.9h.5M240.2 177.1h.5M233.0 178.3h.5M232.2 181.5h.5M237.1 180.6h.5M234.1 180.0h.5M232.0 179.1h.5M235.1 177.7h.5M232.1 179.4h.5M235.0 178.2h.5M237.5 180.7h.5M235.0 179.7h.5M231.3 179.4h.5M239.7 173.0h.5M242.9 176.0h.5M234.9 180.3h.5M234.9 180.2h.5M236.8 178.3h.5M233.7 180.1h.5M234.9 179.4h.5M235.7 179.9h.5M235.0 179.5h.5M233.6 180.3h.5M235.0 179.5h.5M235.5 178.3h.5M230.6 183.7h.5M237.4 179.1h.5M236.4 176.6h.5M238.2 178.8h.5M236.3 176.9h.5M235.1 180.5h.5M237.3 177.1h.5M236.3 179.7h.5M228.7 181.8h.5M231.6 179.8h.5M233.9 181.1h.5M232.9 179.5h.5M234.4 182.3h.5M239.9 174.8h.5M239.8 178.1h.5M233.6 180.2h.5M235.6 177.2h.5M233.7 180.4h.5M231.0 181.4h.5M233.3 178.3h.5M237.1 185.3h.5M227.1 183.6h.5M227.5 179.4h.5M228.7 181.9h.5M226.2 178.6h.5M233.2 181.9h.5M229.4 182.1h.5M233.6 180.6h.5M222.1 181.0h.5M227.9 184.7h.5M236.7 183.3h.5M229.1 183.1h.5M223.6 181.8h.5M231.1 182.7h.5M224.0 183.5h.5M232.0 177.6h.5M230.7 182.6h.5M226.7 180.7h.5M233.2 183.8h.5M226.0 180.1h.5M225.5 183.8h.5M224.2 185.0h.5M219.9 188.5h.5M221.4 182.1h.5M233.3 182.5h.5M228.2 181.9h.5M232.8 182.7h.5M233.2 184.6h.5M223.4 187.3h.5M228.7 181.1h.5M238.0 179.6h.5M241.6 179.3h.5M238.6 178.6h.5M210.7 187.2h.5M227.2 186.4h.5M247.1 181.3h.5M227.0 182.7h.5M236.0 181.4h.5M222.5 185.4h.5M240.7 180.3h.5M231.1 183.9h.5M228.7 183.6h.5M233.2 184.7h.5M221.5 181.2h.5M232.1 179.8h.5M229.0 182.9h.5M234.2 181.9h.5M228.0 180.3h.5M228.4 180.0h.5M232.3 184.8h.5M239.7 182.8h.5M227.4 181.5h.5M225.7 185.2h.5" stroke="#000" stroke-width=".5" opacity=".45"/>
</g>
<rect x="209.9" y="160.9" width="38.8" height="39.2" fill="none" stroke="#000" stroke-width="1.1"/>
<path d="M207.4 164.7L209.9 164.7" stroke="#000" stroke-width="1"/>
<path d="M207.4 173.5L209.9 173.5" stroke="#000" stroke-width="1"/>
<path d="M207.4 182.7L209.9 182.7" stroke="#000" stroke-width="1"/>
<path d="M207.4 191.9L209.9 191.9" stroke="#000" stroke-width="1"/>
<path d="M207.4 196.1L209.9 196.1" stroke="#000" stroke-width="1"/>
<path d="M215.2 200.1L215.2 202.4" stroke="#000" stroke-width="1"/>
<path d="M218.1 200.1L218.1 202.4" stroke="#000" stroke-width="1"/>
<path d="M227.7 200.1L227.7 202.4" stroke="#000" stroke-width="1"/>
<path d="M236.4 200.1L236.4 202.4" stroke="#000" stroke-width="1"/>
<path d="M245 200.1L245 202.4" stroke="#000" stroke-width="1"/>
<path d="M208.7 167.78L209.9 167.78" stroke="#000" stroke-width=".4"/>
<path d="M208.7 169.98L209.9 169.98" stroke="#000" stroke-width=".4"/>
<path d="M208.7 171.74L209.9 171.74" stroke="#000" stroke-width=".4"/>
<path d="M208.7 176.72L209.9 176.72" stroke="#000" stroke-width=".4"/>
<path d="M208.7 179.02L209.9 179.02" stroke="#000" stroke-width=".4"/>
<path d="M208.7 180.86L209.9 180.86" stroke="#000" stroke-width=".4"/>
<path d="M208.7 185.92L209.9 185.92" stroke="#000" stroke-width=".4"/>
<path d="M208.7 188.22L209.9 188.22" stroke="#000" stroke-width=".4"/>
<path d="M208.7 190.06L209.9 190.06" stroke="#000" stroke-width=".4"/>
<path d="M208.7 193.37L209.9 193.37" stroke="#000" stroke-width=".4"/>
<path d="M208.7 194.42L209.9 194.42" stroke="#000" stroke-width=".4"/>
<path d="M208.7 195.26L209.9 195.26" stroke="#000" stroke-width=".4"/>
<path d="M221.46 200.1L221.46 201.3" stroke="#000" stroke-width=".4"/>
<path d="M223.86 200.1L223.86 201.3" stroke="#000" stroke-width=".4"/>
<path d="M225.78 200.1L225.78 201.3" stroke="#000" stroke-width=".4"/>
<path d="M230.75 200.1L230.75 201.3" stroke="#000" stroke-width=".4"/>
<path d="M232.92 200.1L232.92 201.3" stroke="#000" stroke-width=".4"/>
<path d="M234.66 200.1L234.66 201.3" stroke="#000" stroke-width=".4"/>
<path d="M239.41 200.1L239.41 201.3" stroke="#000" stroke-width=".4"/>
<path d="M241.56 200.1L241.56 201.3" stroke="#000" stroke-width=".4"/>
<path d="M243.28 200.1L243.28 201.3" stroke="#000" stroke-width=".4"/>
<text transform="translate(206.9 165.6)" font-size="2.2" text-anchor="end" style="fill:#222;stroke:#222">10<tspan font-size="1.6" dy="-.9">5</tspan></text>
<text transform="translate(206.9 174.4)" font-size="2.2" text-anchor="end" style="fill:#222;stroke:#222">10<tspan font-size="1.6" dy="-.9">4</tspan></text>
<text transform="translate(206.9 183.6)" font-size="2.2" text-anchor="end" style="fill:#222;stroke:#222">10<tspan font-size="1.6" dy="-.9">3</tspan></text>
<text transform="translate(206.9 192.8)" font-size="2.2" text-anchor="end" style="fill:#222;stroke:#222">10<tspan font-size="1.6" dy="-.9">2</tspan></text>
<text transform="translate(206.9 197)" font-size="2.2" text-anchor="end" style="fill:#222;stroke:#222">0</text>
<text transform="translate(214.8 206.3)" font-size="2.2" text-anchor="middle" style="fill:#222;stroke:#222">0</text>
<text transform="translate(218.7 206.3)" font-size="2.2" text-anchor="middle" style="fill:#222;stroke:#222">10<tspan font-size="1.6" dy="-.9">2</tspan></text>
<text transform="translate(228.3 206.3)" font-size="2.2" text-anchor="middle" style="fill:#222;stroke:#222">10<tspan font-size="1.6" dy="-.9">3</tspan></text>
<text transform="translate(237 206.3)" font-size="2.2" text-anchor="middle" style="fill:#222;stroke:#222">10<tspan font-size="1.6" dy="-.9">4</tspan></text>
<text transform="translate(245.6 206.3)" font-size="2.2" text-anchor="middle" style="fill:#222;stroke:#222">10<tspan font-size="1.6" dy="-.9">5</tspan></text>
<path d="M222.9 160.9L222.9 200.1" stroke="#000" stroke-width=".7"/>
<path d="M209.9 189.6L248.7 189.6" stroke="#000" stroke-width=".7"/>
<text transform="translate(211.1 166.5)" font-size="5.2">40.7</text>
<text transform="translate(247.8 166.5)" font-size="5.2" text-anchor="end">37</text>
<text transform="translate(247.8 198.8)" font-size="5.2" text-anchor="end">2.68</text>
<clipPath id="c13"><rect x="49.6" y="211.5" width="38.7" height="39.2"/></clipPath>
<g clip-path="url(#c13)">
<ellipse cx="56" cy="243.5" rx="8" ry="5.4" fill="url(#gd)" transform="rotate(0 56 243.5)"/>
<ellipse cx="56" cy="243.5" rx="10" ry="7" fill="url(#gm)" transform="rotate(0 56 243.5)"/>
<ellipse cx="56" cy="235.5" rx="8" ry="5" fill="url(#gl)" transform="rotate(0 56 235.5)"/>
<ellipse cx="72.5" cy="231.5" rx="11" ry="2" fill="url(#gl)" transform="rotate(-33 72.5 231.5)"/>
<path d="M59.6 242.4h.5M57.3 241.7h.5M52.8 243.7h.5M54.5 243.2h.5M53.0 244.7h.5M63.1 244.7h.5M57.9 242.7h.5M52.7 241.1h.5M51.2 245.1h.5M54.3 241.7h.5M52.9 245.9h.5M65.2 243.2h.5M56.8 240.6h.5M65.3 239.4h.5M58.0 242.3h.5M53.6 244.5h.5M52.4 243.6h.5M57.1 244.8h.5M60.4 237.5h.5M56.3 243.3h.5M55.8 245.0h.5M53.4 243.9h.5M51.6 243.7h.5M52.7 241.1h.5M54.8 243.5h.5M60.0 242.5h.5M58.4 241.8h.5M66.4 248.0h.5M53.6 243.6h.5M64.9 242.1h.5M63.5 247.7h.5M57.4 244.5h.5M60.9 247.9h.5M52.0 241.4h.5M54.9 241.4h.5M57.5 243.9h.5M56.4 247.1h.5M57.1 243.9h.5M56.2 243.9h.5M58.0 244.0h.5M58.6 245.2h.5M59.5 240.3h.5M57.5 243.5h.5M53.7 246.1h.5M51.2 244.5h.5M55.0 239.7h.5M56.0 245.6h.5M60.9 243.4h.5M63.9 240.4h.5M58.1 240.0h.5M55.8 241.3h.5M57.1 246.1h.5M57.0 245.1h.5M57.9 244.6h.5M58.2 243.6h.5M55.9 242.6h.5M54.4 239.4h.5M58.3 246.2h.5M54.3 242.6h.5M58.3 244.1h.5M60.8 247.3h.5M57.1 242.4h.5M57.2 237.7h.5M56.8 246.6h.5M56.4 246.3h.5M56.3 241.7h.5M50.4 243.4h.5M62.9 238.4h.5M59.3 241.9h.5M51.0 248.3h.5M60.7 239.8h.5M57.7 244.8h.5M56.2 241.3h.5M52.4 240.9h.5M53.7 242.1h.5M61.0 242.7h.5M59.5 243.6h.5M55.4 244.3h.5M60.3 238.5h.5M55.1 243.5h.5M54.4 243.0h.5M53.9 244.9h.5M53.1 245.9h.5M52.1 237.3h.5M60.3 239.4h.5M58.9 246.5h.5M52.8 245.5h.5M59.8 245.0h.5M63.9 242.1h.5M56.8 242.4h.5M58.2 241.2h.5M53.4 246.1h.5M54.7 245.4h.5M60.3 241.4h.5M51.2 244.3h.5M57.6 244.0h.5M59.7 244.0h.5M56.8 243.0h.5M53.8 248.8h.5M57.5 246.5h.5M61.5 240.8h.5M52.7 245.4h.5M55.3 246.6h.5M62.6 243.1h.5M53.1 245.1h.5M53.6 243.3h.5M56.3 243.4h.5M55.1 244.1h.5M58.2 250.4h.5M60.9 248.5h.5M55.1 242.5h.5M57.6 243.2h.5M62.0 235.9h.5M52.0 245.5h.5M50.4 247.2h.5M54.0 242.0h.5M57.9 245.0h.5M58.0 244.3h.5M53.3 243.6h.5M54.1 240.8h.5M57.8 243.1h.5M52.0 240.8h.5M56.0 242.7h.5M51.4 244.2h.5M61.7 245.9h.5M62.8 242.5h.5M61.5 234.5h.5M61.5 235.9h.5M57.7 231.7h.5M58.8 237.5h.5M56.2 232.4h.5M54.6 235.0h.5M54.3 235.3h.5M62.4 236.1h.5M53.7 236.4h.5M54.4 235.7h.5M58.5 230.6h.5M51.5 229.9h.5M54.3 236.1h.5M56.2 235.8h.5M56.5 236.7h.5M59.5 239.1h.5M53.4 237.1h.5M61.0 238.4h.5M55.7 240.7h.5M56.5 235.7h.5M58.0 232.9h.5M59.7 232.3h.5M55.1 233.6h.5M54.9 234.5h.5M62.7 232.9h.5M54.7 234.6h.5M56.9 238.2h.5M63.2 240.2h.5M60.1 234.2h.5M56.3 238.5h.5M60.4 235.4h.5M55.8 232.8h.5M58.3 237.1h.5M50.5 237.2h.5M53.8 236.7h.5M64.0 238.5h.5M58.3 233.3h.5M56.0 232.9h.5M72.5 232.0h.5M72.1 231.7h.5M74.5 229.8h.5M76.4 228.4h.5M70.9 231.9h.5M75.6 231.4h.5M66.6 234.9h.5M69.0 235.0h.5M84.2 223.6h.5M76.1 228.1h.5M64.7 237.5h.5M74.1 229.4h.5M72.0 231.8h.5M68.3 233.2h.5M81.1 228.0h.5M70.7 231.3h.5M74.7 228.7h.5M71.6 232.0h.5M70.4 231.5h.5M66.4 235.2h.5M71.1 230.6h.5M64.0 233.3h.5M63.0 239.6h.5M80.7 227.5h.5M67.9 233.7h.5M72.7 232.1h.5M69.0 234.7h.5M79.7 226.9h.5M76.2 228.0h.5M71.6 231.5h.5M72.1 232.0h.5" stroke="#000" stroke-width=".5" opacity=".45"/>
</g>
<rect x="49.6" y="211.5" width="38.7" height="39.2" fill="none" stroke="#000" stroke-width="1.1"/>
<path d="M47.1 215.3L49.6 215.3" stroke="#000" stroke-width="1"/>
<path d="M47.1 224.1L49.6 224.1" stroke="#000" stroke-width="1"/>
<path d="M47.1 233.3L49.6 233.3" stroke="#000" stroke-width="1"/>
<path d="M47.1 242.5L49.6 242.5" stroke="#000" stroke-width="1"/>
<path d="M47.1 246.7L49.6 246.7" stroke="#000" stroke-width="1"/>
<path d="M54.9 250.7L54.9 253" stroke="#000" stroke-width="1"/>
<path d="M57.8 250.7L57.8 253" stroke="#000" stroke-width="1"/>
<path d="M67.4 250.7L67.4 253" stroke="#000" stroke-width="1"/>
<path d="M76.1 250.7L76.1 253" stroke="#000" stroke-width="1"/>
<path d="M84.7 250.7L84.7 253" stroke="#000" stroke-width="1"/>
<path d="M48.4 218.38L49.6 218.38" stroke="#000" stroke-width=".4"/>
<path d="M48.4 220.58L49.6 220.58" stroke="#000" stroke-width=".4"/>
<path d="M48.4 222.34L49.6 222.34" stroke="#000" stroke-width=".4"/>
<path d="M48.4 227.32L49.6 227.32" stroke="#000" stroke-width=".4"/>
<path d="M48.4 229.62L49.6 229.62" stroke="#000" stroke-width=".4"/>
<path d="M48.4 231.46L49.6 231.46" stroke="#000" stroke-width=".4"/>
<path d="M48.4 236.52L49.6 236.52" stroke="#000" stroke-width=".4"/>
<path d="M48.4 238.82L49.6 238.82" stroke="#000" stroke-width=".4"/>
<path d="M48.4 240.66L49.6 240.66" stroke="#000" stroke-width=".4"/>
<path d="M48.4 243.97L49.6 243.97" stroke="#000" stroke-width=".4"/>
<path d="M48.4 245.02L49.6 245.02" stroke="#000" stroke-width=".4"/>
<path d="M48.4 245.86L49.6 245.86" stroke="#000" stroke-width=".4"/>
<path d="M61.16 250.7L61.16 251.9" stroke="#000" stroke-width=".4"/>
<path d="M63.56 250.7L63.56 251.9" stroke="#000" stroke-width=".4"/>
<path d="M65.48 250.7L65.48 251.9" stroke="#000" stroke-width=".4"/>
<path d="M70.45 250.7L70.45 251.9" stroke="#000" stroke-width=".4"/>
<path d="M72.62 250.7L72.62 251.9" stroke="#000" stroke-width=".4"/>
<path d="M74.36 250.7L74.36 251.9" stroke="#000" stroke-width=".4"/>
<path d="M79.11 250.7L79.11 251.9" stroke="#000" stroke-width=".4"/>
<path d="M81.26 250.7L81.26 251.9" stroke="#000" stroke-width=".4"/>
<path d="M82.98 250.7L82.98 251.9" stroke="#000" stroke-width=".4"/>
<text transform="translate(46.6 216.2)" font-size="2.2" text-anchor="end" style="fill:#222;stroke:#222">10<tspan font-size="1.6" dy="-.9">5</tspan></text>
<text transform="translate(46.6 225)" font-size="2.2" text-anchor="end" style="fill:#222;stroke:#222">10<tspan font-size="1.6" dy="-.9">4</tspan></text>
<text transform="translate(46.6 234.2)" font-size="2.2" text-anchor="end" style="fill:#222;stroke:#222">10<tspan font-size="1.6" dy="-.9">3</tspan></text>
<text transform="translate(46.6 243.4)" font-size="2.2" text-anchor="end" style="fill:#222;stroke:#222">10<tspan font-size="1.6" dy="-.9">2</tspan></text>
<text transform="translate(46.6 247.6)" font-size="2.2" text-anchor="end" style="fill:#222;stroke:#222">0</text>
<text transform="translate(54.5 256.9)" font-size="2.2" text-anchor="middle" style="fill:#222;stroke:#222">0</text>
<text transform="translate(58.4 256.9)" font-size="2.2" text-anchor="middle" style="fill:#222;stroke:#222">10<tspan font-size="1.6" dy="-.9">2</tspan></text>
<text transform="translate(68 256.9)" font-size="2.2" text-anchor="middle" style="fill:#222;stroke:#222">10<tspan font-size="1.6" dy="-.9">3</tspan></text>
<text transform="translate(76.7 256.9)" font-size="2.2" text-anchor="middle" style="fill:#222;stroke:#222">10<tspan font-size="1.6" dy="-.9">4</tspan></text>
<text transform="translate(85.3 256.9)" font-size="2.2" text-anchor="middle" style="fill:#222;stroke:#222">10<tspan font-size="1.6" dy="-.9">5</tspan></text>
<path d="M62.6 211.5L62.6 250.7" stroke="#000" stroke-width=".7"/>
<path d="M49.6 238.8L88.3 238.8" stroke="#000" stroke-width=".7"/>
<text transform="translate(50.8 217.1)" font-size="5.2">8.85</text>
<text transform="translate(87.4 217.1)" font-size="5.2" text-anchor="end">5.78</text>
<text transform="translate(87.4 249.4)" font-size="5.2" text-anchor="end">2.77</text>
<clipPath id="c14"><rect x="103.2" y="211.5" width="38.7" height="39.2"/></clipPath>
<g clip-path="url(#c14)">
<ellipse cx="109.5" cy="243.5" rx="8" ry="5.4" fill="url(#gd)" transform="rotate(0 109.5 243.5)"/>
<ellipse cx="109.5" cy="243.5" rx="10" ry="7" fill="url(#gm)" transform="rotate(0 109.5 243.5)"/>
<ellipse cx="110" cy="235" rx="9" ry="4.5" fill="url(#gl)" transform="rotate(0 110 235)"/>
<ellipse cx="126.5" cy="231.5" rx="11" ry="2.2" fill="url(#gl)" transform="rotate(-33 126.5 231.5)"/>
<path d="M110.8 241.8h.5M113.9 242.4h.5M105.1 245.7h.5M110.8 245.1h.5M107.0 244.4h.5M107.5 241.0h.5M107.1 245.0h.5M110.7 247.7h.5M112.5 242.1h.5M110.7 241.3h.5M109.7 241.5h.5M105.8 242.3h.5M114.2 240.2h.5M110.9 244.3h.5M106.8 244.0h.5M110.2 250.1h.5M110.2 243.3h.5M115.1 244.0h.5M117.4 241.7h.5M107.2 239.4h.5M104.9 243.8h.5M110.7 242.5h.5M106.9 239.6h.5M113.3 247.3h.5M114.6 249.7h.5M109.9 240.5h.5M107.7 244.9h.5M106.3 238.1h.5M113.3 247.3h.5M104.8 246.1h.5M111.5 243.2h.5M115.7 241.8h.5M112.8 246.3h.5M109.3 244.3h.5M113.1 244.4h.5M110.6 242.8h.5M105.3 246.8h.5M103.9 241.0h.5M107.3 244.6h.5M111.7 244.9h.5M116.5 247.8h.5M114.6 247.3h.5M110.1 240.5h.5M112.1 244.1h.5M113.3 242.4h.5M109.9 242.1h.5M113.1 244.2h.5M107.9 245.0h.5M106.2 240.8h.5M106.3 242.6h.5M106.8 244.6h.5M105.7 242.6h.5M103.5 237.9h.5M107.1 246.7h.5M115.7 246.4h.5M104.2 242.8h.5M107.7 243.0h.5M109.9 243.2h.5M111.1 246.4h.5M115.0 241.6h.5M112.5 242.1h.5M104.4 242.3h.5M109.7 244.7h.5M108.6 244.5h.5M112.0 243.6h.5M113.0 240.6h.5M109.5 240.0h.5M107.8 245.2h.5M109.1 244.5h.5M112.7 243.7h.5M107.7 242.2h.5M106.2 243.8h.5M109.5 241.5h.5M107.9 237.9h.5M114.0 243.8h.5M112.5 248.8h.5M109.5 248.4h.5M111.8 238.4h.5M112.6 241.7h.5M105.4 238.1h.5M110.8 240.7h.5M112.8 239.4h.5M105.5 244.5h.5M110.8 250.2h.5M111.5 245.1h.5M109.0 239.3h.5M108.3 245.6h.5M103.3 241.7h.5M106.1 245.5h.5M114.1 241.3h.5M109.4 246.3h.5M104.6 245.4h.5M107.3 246.9h.5M104.6 243.0h.5M113.6 242.9h.5M109.5 243.8h.5M115.6 243.7h.5M114.1 241.0h.5M109.8 244.4h.5M107.7 243.9h.5M115.8 245.7h.5M112.8 246.8h.5M112.8 240.2h.5M105.0 246.3h.5M112.2 242.4h.5M108.6 241.0h.5M108.5 242.9h.5M112.8 244.2h.5M108.6 241.0h.5M108.9 240.5h.5M115.8 237.5h.5M109.5 241.1h.5M114.6 245.0h.5M109.4 244.2h.5M108.2 237.0h.5M115.9 237.2h.5M104.2 241.6h.5M114.4 243.3h.5M109.9 240.6h.5M116.0 241.7h.5M119.3 243.4h.5M105.1 240.7h.5M111.2 245.5h.5M115.6 245.7h.5M109.7 244.1h.5M104.4 233.2h.5M112.9 235.9h.5M115.3 232.8h.5M110.8 233.3h.5M116.3 236.0h.5M104.6 233.7h.5M115.8 236.1h.5M112.8 232.8h.5M107.3 234.9h.5M107.7 236.1h.5M120.6 237.5h.5M109.6 236.1h.5M107.4 234.3h.5M111.2 233.6h.5M108.0 236.6h.5M117.9 236.1h.5M104.9 233.2h.5M112.2 234.7h.5M111.2 233.2h.5M118.8 231.1h.5M108.4 235.6h.5M104.5 236.5h.5M104.9 234.8h.5M114.9 236.9h.5M108.5 232.0h.5M111.0 238.5h.5M110.9 233.1h.5M108.4 237.3h.5M110.1 234.7h.5M108.8 237.9h.5M115.9 233.6h.5M111.5 233.8h.5M109.8 236.9h.5M115.7 237.2h.5M105.3 232.5h.5M107.9 231.7h.5M115.4 235.6h.5M106.9 234.6h.5M110.4 239.4h.5M110.8 235.2h.5M116.7 231.7h.5M106.3 236.2h.5M112.3 232.1h.5M122.7 234.5h.5M122.3 233.2h.5M127.8 235.9h.5M122.2 234.0h.5M125.3 231.4h.5M127.9 232.1h.5M131.3 228.6h.5M133.6 228.0h.5M118.2 235.6h.5M128.2 231.0h.5M120.8 234.2h.5M126.1 232.2h.5M113.4 240.3h.5M126.3 231.0h.5M121.8 232.6h.5M126.4 232.2h.5M126.5 231.2h.5M125.3 232.2h.5M128.8 229.2h.5M120.0 235.0h.5M120.1 234.6h.5M127.8 231.0h.5M126.1 231.4h.5M131.1 229.7h.5M126.5 230.9h.5M126.3 231.9h.5M126.8 230.6h.5M122.8 234.3h.5M136.9 225.9h.5M127.2 231.2h.5M125.5 231.9h.5M125.7 233.2h.5M121.7 237.0h.5M131.0 227.4h.5M120.1 235.1h.5M129.9 228.6h.5" stroke="#000" stroke-width=".5" opacity=".45"/>
</g>
<rect x="103.2" y="211.5" width="38.7" height="39.2" fill="none" stroke="#000" stroke-width="1.1"/>
<path d="M100.7 215.3L103.2 215.3" stroke="#000" stroke-width="1"/>
<path d="M100.7 224.1L103.2 224.1" stroke="#000" stroke-width="1"/>
<path d="M100.7 233.3L103.2 233.3" stroke="#000" stroke-width="1"/>
<path d="M100.7 242.5L103.2 242.5" stroke="#000" stroke-width="1"/>
<path d="M100.7 246.7L103.2 246.7" stroke="#000" stroke-width="1"/>
<path d="M108.5 250.7L108.5 253" stroke="#000" stroke-width="1"/>
<path d="M111.4 250.7L111.4 253" stroke="#000" stroke-width="1"/>
<path d="M121 250.7L121 253" stroke="#000" stroke-width="1"/>
<path d="M129.7 250.7L129.7 253" stroke="#000" stroke-width="1"/>
<path d="M138.3 250.7L138.3 253" stroke="#000" stroke-width="1"/>
<path d="M102 218.38L103.2 218.38" stroke="#000" stroke-width=".4"/>
<path d="M102 220.58L103.2 220.58" stroke="#000" stroke-width=".4"/>
<path d="M102 222.34L103.2 222.34" stroke="#000" stroke-width=".4"/>
<path d="M102 227.32L103.2 227.32" stroke="#000" stroke-width=".4"/>
<path d="M102 229.62L103.2 229.62" stroke="#000" stroke-width=".4"/>
<path d="M102 231.46L103.2 231.46" stroke="#000" stroke-width=".4"/>
<path d="M102 236.52L103.2 236.52" stroke="#000" stroke-width=".4"/>
<path d="M102 238.82L103.2 238.82" stroke="#000" stroke-width=".4"/>
<path d="M102 240.66L103.2 240.66" stroke="#000" stroke-width=".4"/>
<path d="M102 243.97L103.2 243.97" stroke="#000" stroke-width=".4"/>
<path d="M102 245.02L103.2 245.02" stroke="#000" stroke-width=".4"/>
<path d="M102 245.86L103.2 245.86" stroke="#000" stroke-width=".4"/>
<path d="M114.76 250.7L114.76 251.9" stroke="#000" stroke-width=".4"/>
<path d="M117.16 250.7L117.16 251.9" stroke="#000" stroke-width=".4"/>
<path d="M119.08 250.7L119.08 251.9" stroke="#000" stroke-width=".4"/>
<path d="M124.05 250.7L124.05 251.9" stroke="#000" stroke-width=".4"/>
<path d="M126.22 250.7L126.22 251.9" stroke="#000" stroke-width=".4"/>
<path d="M127.96 250.7L127.96 251.9" stroke="#000" stroke-width=".4"/>
<path d="M132.71 250.7L132.71 251.9" stroke="#000" stroke-width=".4"/>
<path d="M134.86 250.7L134.86 251.9" stroke="#000" stroke-width=".4"/>
<path d="M136.58 250.7L136.58 251.9" stroke="#000" stroke-width=".4"/>
<text transform="translate(100.2 216.2)" font-size="2.2" text-anchor="end" style="fill:#222;stroke:#222">10<tspan font-size="1.6" dy="-.9">5</tspan></text>
<text transform="translate(100.2 225)" font-size="2.2" text-anchor="end" style="fill:#222;stroke:#222">10<tspan font-size="1.6" dy="-.9">4</tspan></text>
<text transform="translate(100.2 234.2)" font-size="2.2" text-anchor="end" style="fill:#222;stroke:#222">10<tspan font-size="1.6" dy="-.9">3</tspan></text>
<text transform="translate(100.2 243.4)" font-size="2.2" text-anchor="end" style="fill:#222;stroke:#222">10<tspan font-size="1.6" dy="-.9">2</tspan></text>
<text transform="translate(100.2 247.6)" font-size="2.2" text-anchor="end" style="fill:#222;stroke:#222">0</text>
<text transform="translate(108.1 256.9)" font-size="2.2" text-anchor="middle" style="fill:#222;stroke:#222">0</text>
<text transform="translate(112 256.9)" font-size="2.2" text-anchor="middle" style="fill:#222;stroke:#222">10<tspan font-size="1.6" dy="-.9">2</tspan></text>
<text transform="translate(121.6 256.9)" font-size="2.2" text-anchor="middle" style="fill:#222;stroke:#222">10<tspan font-size="1.6" dy="-.9">3</tspan></text>
<text transform="translate(130.3 256.9)" font-size="2.2" text-anchor="middle" style="fill:#222;stroke:#222">10<tspan font-size="1.6" dy="-.9">4</tspan></text>
<text transform="translate(138.9 256.9)" font-size="2.2" text-anchor="middle" style="fill:#222;stroke:#222">10<tspan font-size="1.6" dy="-.9">5</tspan></text>
<path d="M116.2 211.5L116.2 250.7" stroke="#000" stroke-width=".7"/>
<path d="M103.2 238.8L141.9 238.8" stroke="#000" stroke-width=".7"/>
<text transform="translate(104.4 217.1)" font-size="5.2">8.35</text>
<text transform="translate(141 217.1)" font-size="5.2" text-anchor="end">6.53</text>
<text transform="translate(141 249.4)" font-size="5.2" text-anchor="end">2.83</text>
<clipPath id="c15"><rect x="156.4" y="211.5" width="38.7" height="39.2"/></clipPath>
<g clip-path="url(#c15)">
<ellipse cx="162.5" cy="244" rx="8" ry="5" fill="url(#gd)" transform="rotate(0 162.5 244)"/>
<ellipse cx="162.5" cy="244" rx="10" ry="6.5" fill="url(#gm)" transform="rotate(0 162.5 244)"/>
<ellipse cx="166" cy="233.8" rx="11" ry="3.2" fill="url(#gl)" transform="rotate(0 166 233.8)"/>
<ellipse cx="181" cy="231" rx="13" ry="2.6" fill="url(#gl)" transform="rotate(-34 181 231)"/>
<path d="M156.6 244.4h.5M158.0 241.3h.5M168.0 241.6h.5M164.0 245.5h.5M158.7 244.7h.5M168.8 243.1h.5M158.9 244.5h.5M163.3 247.4h.5M164.6 243.3h.5M159.0 244.7h.5M160.1 242.8h.5M168.0 245.5h.5M160.5 247.4h.5M166.9 242.2h.5M168.6 241.6h.5M165.3 244.7h.5M160.1 241.6h.5M169.9 244.1h.5M160.0 241.8h.5M160.1 243.8h.5M160.4 243.6h.5M157.6 238.9h.5M163.2 245.9h.5M164.4 246.2h.5M160.6 243.1h.5M168.5 245.7h.5M158.7 241.7h.5M160.7 243.7h.5M157.9 244.4h.5M160.1 243.9h.5M166.9 245.2h.5M160.5 240.5h.5M166.1 243.1h.5M159.7 245.4h.5M156.6 243.9h.5M163.7 243.2h.5M156.4 242.1h.5M162.5 241.3h.5M165.7 245.0h.5M156.8 241.5h.5M163.2 246.2h.5M161.6 244.6h.5M166.2 243.6h.5M163.1 242.0h.5M169.5 242.3h.5M158.5 242.9h.5M167.8 239.4h.5M160.8 242.1h.5M166.6 241.4h.5M169.2 242.0h.5M159.5 239.0h.5M157.4 245.2h.5M162.4 241.3h.5M167.7 247.4h.5M158.2 243.4h.5M159.3 243.6h.5M164.3 242.3h.5M162.7 247.5h.5M159.0 244.2h.5M166.3 245.3h.5M158.2 245.6h.5M160.5 242.4h.5M163.8 244.4h.5M161.9 238.3h.5M164.1 245.4h.5M161.6 241.5h.5M170.8 246.9h.5M164.5 247.1h.5M159.6 241.3h.5M161.6 241.9h.5M163.2 247.6h.5M163.9 243.7h.5M172.0 248.6h.5M164.5 244.4h.5M159.0 243.9h.5M161.2 241.3h.5M163.1 242.8h.5M163.0 245.6h.5M167.4 235.0h.5M160.5 245.2h.5M164.8 244.7h.5M172.3 243.4h.5M164.7 243.3h.5M173.8 247.6h.5M161.1 238.9h.5M168.9 240.9h.5M170.6 244.4h.5M163.8 246.4h.5M167.3 247.0h.5M161.5 244.7h.5M163.9 244.4h.5M168.9 244.7h.5M160.6 234.4h.5M163.2 241.9h.5M164.6 246.8h.5M161.0 245.5h.5M163.6 238.8h.5M156.8 246.0h.5M157.3 241.5h.5M157.0 241.1h.5M166.7 243.7h.5M164.8 244.9h.5M157.9 241.8h.5M168.2 242.3h.5M170.6 240.7h.5M160.3 245.9h.5M160.0 241.1h.5M163.4 244.8h.5M169.1 236.1h.5M162.2 242.3h.5M169.4 244.4h.5M163.9 244.2h.5M162.7 239.5h.5M166.1 241.9h.5M157.2 242.8h.5M163.4 239.6h.5M164.1 242.5h.5M162.9 232.6h.5M167.3 232.2h.5M166.5 234.0h.5M163.1 233.8h.5M166.6 230.5h.5M161.9 236.2h.5M162.8 232.0h.5M178.8 236.0h.5M165.2 234.4h.5M167.4 229.8h.5M168.8 231.6h.5M158.9 237.6h.5M157.4 234.2h.5M167.3 232.2h.5M171.6 233.7h.5M164.5 232.8h.5M166.4 235.6h.5M171.1 235.8h.5M167.8 235.1h.5M174.9 231.9h.5M174.8 232.8h.5M163.8 235.1h.5M167.4 231.8h.5M177.1 232.1h.5M163.0 234.1h.5M173.6 231.9h.5M158.3 233.5h.5M162.9 232.1h.5M164.5 235.4h.5M174.7 231.8h.5M176.6 231.8h.5M161.0 233.9h.5M166.2 233.7h.5M167.0 233.4h.5M165.1 233.3h.5M165.0 234.4h.5M160.0 233.7h.5M169.9 232.6h.5M169.4 230.3h.5M170.7 233.3h.5M169.5 233.3h.5M162.5 233.4h.5M162.0 234.6h.5M173.2 232.5h.5M173.9 233.4h.5M169.5 233.7h.5M162.9 234.2h.5M159.6 234.2h.5M171.5 232.2h.5M161.0 232.3h.5M173.8 231.6h.5M163.5 235.5h.5M165.2 234.1h.5M166.0 235.1h.5M178.6 230.7h.5M169.6 234.8h.5M164.7 233.1h.5M176.2 234.8h.5M171.7 234.0h.5M182.3 229.1h.5M184.1 230.5h.5M172.7 236.6h.5M178.3 230.2h.5M182.1 231.6h.5M180.2 229.7h.5M186.3 225.8h.5M171.2 240.6h.5M177.3 233.3h.5M182.7 233.6h.5M182.6 231.2h.5M175.2 237.3h.5M178.1 231.0h.5M175.9 231.4h.5M173.1 238.2h.5M187.0 227.3h.5M182.5 229.1h.5M175.2 234.5h.5M179.2 232.6h.5M181.9 226.3h.5M192.1 223.1h.5M173.9 235.0h.5M182.2 230.1h.5M187.7 226.8h.5M181.4 228.6h.5M187.9 227.0h.5M172.4 236.0h.5M188.5 226.3h.5M175.8 235.5h.5M180.9 229.7h.5M182.0 231.1h.5M180.9 228.5h.5M179.2 234.1h.5M181.2 228.4h.5M179.3 233.7h.5M179.2 232.6h.5M178.2 231.9h.5M176.8 232.0h.5M178.6 233.7h.5M181.8 228.6h.5M188.9 223.3h.5M173.8 233.9h.5M176.0 232.8h.5M175.1 236.3h.5M180.4 230.6h.5M180.1 228.3h.5M188.8 225.7h.5" stroke="#000" stroke-width=".5" opacity=".45"/>
</g>
<rect x="156.4" y="211.5" width="38.7" height="39.2" fill="none" stroke="#000" stroke-width="1.1"/>
<path d="M153.9 215.3L156.4 215.3" stroke="#000" stroke-width="1"/>
<path d="M153.9 224.1L156.4 224.1" stroke="#000" stroke-width="1"/>
<path d="M153.9 233.3L156.4 233.3" stroke="#000" stroke-width="1"/>
<path d="M153.9 242.5L156.4 242.5" stroke="#000" stroke-width="1"/>
<path d="M153.9 246.7L156.4 246.7" stroke="#000" stroke-width="1"/>
<path d="M161.7 250.7L161.7 253" stroke="#000" stroke-width="1"/>
<path d="M164.6 250.7L164.6 253" stroke="#000" stroke-width="1"/>
<path d="M174.2 250.7L174.2 253" stroke="#000" stroke-width="1"/>
<path d="M182.9 250.7L182.9 253" stroke="#000" stroke-width="1"/>
<path d="M191.5 250.7L191.5 253" stroke="#000" stroke-width="1"/>
<path d="M155.2 218.38L156.4 218.38" stroke="#000" stroke-width=".4"/>
<path d="M155.2 220.58L156.4 220.58" stroke="#000" stroke-width=".4"/>
<path d="M155.2 222.34L156.4 222.34" stroke="#000" stroke-width=".4"/>
<path d="M155.2 227.32L156.4 227.32" stroke="#000" stroke-width=".4"/>
<path d="M155.2 229.62L156.4 229.62" stroke="#000" stroke-width=".4"/>
<path d="M155.2 231.46L156.4 231.46" stroke="#000" stroke-width=".4"/>
<path d="M155.2 236.52L156.4 236.52" stroke="#000" stroke-width=".4"/>
<path d="M155.2 238.82L156.4 238.82" stroke="#000" stroke-width=".4"/>
<path d="M155.2 240.66L156.4 240.66" stroke="#000" stroke-width=".4"/>
<path d="M155.2 243.97L156.4 243.97" stroke="#000" stroke-width=".4"/>
<path d="M155.2 245.02L156.4 245.02" stroke="#000" stroke-width=".4"/>
<path d="M155.2 245.86L156.4 245.86" stroke="#000" stroke-width=".4"/>
<path d="M167.96 250.7L167.96 251.9" stroke="#000" stroke-width=".4"/>
<path d="M170.36 250.7L170.36 251.9" stroke="#000" stroke-width=".4"/>
<path d="M172.28 250.7L172.28 251.9" stroke="#000" stroke-width=".4"/>
<path d="M177.25 250.7L177.25 251.9" stroke="#000" stroke-width=".4"/>
<path d="M179.42 250.7L179.42 251.9" stroke="#000" stroke-width=".4"/>
<path d="M181.16 250.7L181.16 251.9" stroke="#000" stroke-width=".4"/>
<path d="M185.91 250.7L185.91 251.9" stroke="#000" stroke-width=".4"/>
<path d="M188.06 250.7L188.06 251.9" stroke="#000" stroke-width=".4"/>
<path d="M189.78 250.7L189.78 251.9" stroke="#000" stroke-width=".4"/>
<text transform="translate(153.4 216.2)" font-size="2.2" text-anchor="end" style="fill:#222;stroke:#222">10<tspan font-size="1.6" dy="-.9">5</tspan></text>
<text transform="translate(153.4 225)" font-size="2.2" text-anchor="end" style="fill:#222;stroke:#222">10<tspan font-size="1.6" dy="-.9">4</tspan></text>
<text transform="translate(153.4 234.2)" font-size="2.2" text-anchor="end" style="fill:#222;stroke:#222">10<tspan font-size="1.6" dy="-.9">3</tspan></text>
<text transform="translate(153.4 243.4)" font-size="2.2" text-anchor="end" style="fill:#222;stroke:#222">10<tspan font-size="1.6" dy="-.9">2</tspan></text>
<text transform="translate(153.4 247.6)" font-size="2.2" text-anchor="end" style="fill:#222;stroke:#222">0</text>
<text transform="translate(161.3 256.9)" font-size="2.2" text-anchor="middle" style="fill:#222;stroke:#222">0</text>
<text transform="translate(165.2 256.9)" font-size="2.2" text-anchor="middle" style="fill:#222;stroke:#222">10<tspan font-size="1.6" dy="-.9">2</tspan></text>
<text transform="translate(174.8 256.9)" font-size="2.2" text-anchor="middle" style="fill:#222;stroke:#222">10<tspan font-size="1.6" dy="-.9">3</tspan></text>
<text transform="translate(183.5 256.9)" font-size="2.2" text-anchor="middle" style="fill:#222;stroke:#222">10<tspan font-size="1.6" dy="-.9">4</tspan></text>
<text transform="translate(192.1 256.9)" font-size="2.2" text-anchor="middle" style="fill:#222;stroke:#222">10<tspan font-size="1.6" dy="-.9">5</tspan></text>
<path d="M169.4 211.5L169.4 250.7" stroke="#000" stroke-width=".7"/>
<path d="M156.4 238.8L195.1 238.8" stroke="#000" stroke-width=".7"/>
<text transform="translate(157.6 217.1)" font-size="5.2">6.28</text>
<text transform="translate(194.2 217.1)" font-size="5.2" text-anchor="end">7.62</text>
<text transform="translate(194.2 249.4)" font-size="5.2" text-anchor="end">3.01</text>
<clipPath id="c16"><rect x="209.9" y="211.5" width="38.8" height="39.2"/></clipPath>
<g clip-path="url(#c16)">
<ellipse cx="215.5" cy="243" rx="6.5" ry="5" fill="url(#gl)" transform="rotate(0 215.5 243)"/>
<ellipse cx="214.5" cy="244.5" rx="4.5" ry="3.2" fill="url(#gm)" transform="rotate(0 214.5 244.5)"/>
<ellipse cx="233.2" cy="231.8" rx="9" ry="3.8" fill="url(#gm)" transform="rotate(-33 233.2 231.8)"/>
<ellipse cx="233.2" cy="231.8" rx="5" ry="2.4" fill="url(#gm)" transform="rotate(-33 233.2 231.8)"/>
<ellipse cx="228" cy="235" rx="14" ry="5" fill="url(#gl)" transform="rotate(-36 228 235)"/>
<path d="M221.9 244.0h.5M215.4 242.5h.5M213.2 242.4h.5M220.2 239.7h.5M214.1 246.2h.5M212.9 243.1h.5M212.5 244.0h.5M215.4 242.3h.5M210.4 248.2h.5M215.8 239.6h.5M212.5 240.0h.5M217.2 245.2h.5M215.1 244.6h.5M215.2 242.4h.5M217.7 246.5h.5M217.7 241.7h.5M219.2 239.2h.5M219.6 247.6h.5M217.3 245.5h.5M216.8 243.6h.5M212.3 238.9h.5M217.7 244.4h.5M212.2 240.8h.5M218.7 246.0h.5M221.5 246.6h.5M213.1 239.8h.5M217.6 242.1h.5M216.9 246.3h.5M221.4 239.4h.5M216.7 239.7h.5M211.9 246.4h.5M211.1 239.1h.5M215.6 240.1h.5M214.2 241.7h.5M214.3 247.2h.5M215.3 242.4h.5M216.4 245.5h.5M212.8 242.0h.5M210.0 247.3h.5M212.8 244.8h.5M218.2 242.2h.5M213.6 242.7h.5M219.0 239.2h.5M215.9 246.5h.5M215.8 247.8h.5M212.8 243.1h.5M219.2 242.5h.5M214.6 245.7h.5M218.0 241.7h.5M218.3 240.3h.5M219.6 242.0h.5M218.4 241.1h.5M216.0 245.3h.5M211.0 243.2h.5M212.5 243.6h.5M215.1 246.0h.5M213.8 239.7h.5M217.9 243.4h.5M213.8 240.4h.5M214.4 246.2h.5M219.2 243.8h.5M218.3 242.1h.5M218.3 246.2h.5M213.2 241.6h.5M215.5 243.2h.5M220.2 245.6h.5M210.0 245.5h.5M220.7 242.2h.5M214.5 244.0h.5M217.2 242.2h.5M217.7 245.0h.5M215.2 245.0h.5M216.0 243.7h.5M222.8 244.0h.5M216.4 245.5h.5M212.7 242.9h.5M218.5 241.6h.5M212.6 243.5h.5M213.1 243.4h.5M215.7 246.1h.5M212.8 244.4h.5M212.4 244.9h.5M219.6 246.4h.5M211.6 244.1h.5M216.2 245.2h.5M218.9 245.4h.5M212.9 243.0h.5M213.7 242.9h.5M217.1 246.0h.5M213.2 245.0h.5M215.9 246.3h.5M218.1 246.0h.5M212.8 245.2h.5M212.4 245.2h.5M212.7 245.0h.5M231.2 234.1h.5M231.9 229.6h.5M231.8 234.3h.5M230.2 238.8h.5M226.7 231.4h.5M236.8 227.1h.5M230.1 232.5h.5M231.4 232.3h.5M227.7 236.0h.5M228.7 234.6h.5M229.3 231.9h.5M228.2 233.9h.5M230.4 235.5h.5M238.4 228.4h.5M235.6 233.5h.5M238.0 229.9h.5M233.0 234.4h.5M235.2 227.5h.5M234.6 228.4h.5M239.2 223.3h.5M234.5 229.8h.5M236.3 231.2h.5M230.4 233.1h.5M237.7 228.8h.5M235.0 230.4h.5M237.8 229.1h.5M233.6 229.8h.5M234.9 230.4h.5M243.2 222.1h.5M230.8 230.1h.5M231.0 231.7h.5M238.9 228.3h.5M231.9 230.5h.5M232.5 233.0h.5M239.8 229.1h.5M229.2 236.5h.5M233.7 231.1h.5M242.0 226.7h.5M234.4 232.5h.5M227.0 235.8h.5M225.7 234.7h.5M234.6 230.8h.5M231.0 231.7h.5M232.0 228.9h.5M236.8 228.3h.5M234.9 234.8h.5M239.1 227.8h.5M229.1 232.3h.5M229.0 231.3h.5M230.9 231.9h.5M229.0 234.8h.5M234.7 234.1h.5M226.0 233.0h.5M227.9 235.9h.5M237.4 226.9h.5M230.7 230.7h.5M234.9 231.2h.5M229.5 235.1h.5M238.0 229.3h.5M236.5 230.4h.5M232.7 234.0h.5M235.2 230.9h.5M233.9 229.6h.5M230.2 233.2h.5M235.7 231.5h.5M235.6 230.7h.5M234.3 232.0h.5M229.9 229.6h.5M232.8 233.4h.5M235.8 232.6h.5M234.3 235.3h.5M235.2 232.8h.5M234.6 231.1h.5M232.1 231.7h.5M232.9 232.3h.5M236.9 234.4h.5M235.2 229.9h.5M236.3 225.1h.5M229.1 234.4h.5M234.3 230.1h.5M236.5 232.2h.5M229.0 234.8h.5M239.1 227.0h.5M239.5 227.9h.5M233.9 232.3h.5M232.0 235.0h.5M231.6 234.9h.5M235.2 229.1h.5M236.5 228.6h.5M235.3 228.6h.5M231.2 234.1h.5M229.2 238.1h.5M232.1 236.2h.5M232.7 231.5h.5M230.2 232.5h.5M240.3 227.9h.5M232.6 232.5h.5M232.7 233.9h.5M233.8 232.8h.5M226.7 236.0h.5M232.7 233.9h.5M237.7 228.5h.5M235.0 232.3h.5M231.5 231.7h.5M230.2 233.9h.5M231.3 231.9h.5M233.3 232.0h.5M234.6 231.8h.5M232.8 229.9h.5M232.7 232.2h.5M233.7 231.0h.5M232.9 230.0h.5M229.8 233.0h.5M232.1 232.5h.5M230.1 232.3h.5M233.5 232.0h.5M233.0 229.6h.5M229.5 233.5h.5M230.2 235.3h.5M232.7 229.9h.5M235.1 230.9h.5M223.8 236.7h.5M224.9 237.2h.5M216.1 238.8h.5M224.3 235.5h.5M232.6 228.0h.5M231.0 235.0h.5M228.7 232.9h.5M225.3 236.5h.5M229.3 230.1h.5M237.5 228.9h.5M220.6 240.3h.5M222.6 243.8h.5M233.5 225.5h.5M223.7 235.3h.5M234.0 234.0h.5M233.8 228.9h.5M214.7 246.5h.5M232.3 230.0h.5M239.2 227.5h.5M224.2 239.8h.5M242.9 221.4h.5M231.0 232.4h.5M220.1 239.6h.5M227.2 235.9h.5M234.2 227.5h.5M221.4 237.9h.5M234.4 230.9h.5M228.2 231.0h.5M231.6 230.2h.5M227.1 234.2h.5M227.5 236.8h.5M228.6 230.4h.5M228.2 235.5h.5M213.5 244.1h.5M224.6 239.6h.5M231.5 233.8h.5M227.0 234.0h.5M232.0 231.5h.5M233.2 228.1h.5M224.1 235.9h.5M224.1 238.1h.5M231.8 230.5h.5M226.0 231.9h.5M227.4 236.9h.5M232.7 234.4h.5M222.8 240.7h.5M219.6 235.5h.5M239.0 228.0h.5M232.4 232.1h.5M232.9 229.8h.5M222.0 237.7h.5M222.6 240.1h.5M232.8 235.7h.5M235.4 230.4h.5" stroke="#000" stroke-width=".5" opacity=".45"/>
</g>
<rect x="209.9" y="211.5" width="38.8" height="39.2" fill="none" stroke="#000" stroke-width="1.1"/>
<path d="M207.4 215.3L209.9 215.3" stroke="#000" stroke-width="1"/>
<path d="M207.4 224.1L209.9 224.1" stroke="#000" stroke-width="1"/>
<path d="M207.4 233.3L209.9 233.3" stroke="#000" stroke-width="1"/>
<path d="M207.4 242.5L209.9 242.5" stroke="#000" stroke-width="1"/>
<path d="M207.4 246.7L209.9 246.7" stroke="#000" stroke-width="1"/>
<path d="M215.2 250.7L215.2 253" stroke="#000" stroke-width="1"/>
<path d="M218.1 250.7L218.1 253" stroke="#000" stroke-width="1"/>
<path d="M227.7 250.7L227.7 253" stroke="#000" stroke-width="1"/>
<path d="M236.4 250.7L236.4 253" stroke="#000" stroke-width="1"/>
<path d="M245 250.7L245 253" stroke="#000" stroke-width="1"/>
<path d="M208.7 218.38L209.9 218.38" stroke="#000" stroke-width=".4"/>
<path d="M208.7 220.58L209.9 220.58" stroke="#000" stroke-width=".4"/>
<path d="M208.7 222.34L209.9 222.34" stroke="#000" stroke-width=".4"/>
<path d="M208.7 227.32L209.9 227.32" stroke="#000" stroke-width=".4"/>
<path d="M208.7 229.62L209.9 229.62" stroke="#000" stroke-width=".4"/>
<path d="M208.7 231.46L209.9 231.46" stroke="#000" stroke-width=".4"/>
<path d="M208.7 236.52L209.9 236.52" stroke="#000" stroke-width=".4"/>
<path d="M208.7 238.82L209.9 238.82" stroke="#000" stroke-width=".4"/>
<path d="M208.7 240.66L209.9 240.66" stroke="#000" stroke-width=".4"/>
<path d="M208.7 243.97L209.9 243.97" stroke="#000" stroke-width=".4"/>
<path d="M208.7 245.02L209.9 245.02" stroke="#000" stroke-width=".4"/>
<path d="M208.7 245.86L209.9 245.86" stroke="#000" stroke-width=".4"/>
<path d="M221.46 250.7L221.46 251.9" stroke="#000" stroke-width=".4"/>
<path d="M223.86 250.7L223.86 251.9" stroke="#000" stroke-width=".4"/>
<path d="M225.78 250.7L225.78 251.9" stroke="#000" stroke-width=".4"/>
<path d="M230.75 250.7L230.75 251.9" stroke="#000" stroke-width=".4"/>
<path d="M232.92 250.7L232.92 251.9" stroke="#000" stroke-width=".4"/>
<path d="M234.66 250.7L234.66 251.9" stroke="#000" stroke-width=".4"/>
<path d="M239.41 250.7L239.41 251.9" stroke="#000" stroke-width=".4"/>
<path d="M241.56 250.7L241.56 251.9" stroke="#000" stroke-width=".4"/>
<path d="M243.28 250.7L243.28 251.9" stroke="#000" stroke-width=".4"/>
<text transform="translate(206.9 216.2)" font-size="2.2" text-anchor="end" style="fill:#222;stroke:#222">10<tspan font-size="1.6" dy="-.9">5</tspan></text>
<text transform="translate(206.9 225)" font-size="2.2" text-anchor="end" style="fill:#222;stroke:#222">10<tspan font-size="1.6" dy="-.9">4</tspan></text>
<text transform="translate(206.9 234.2)" font-size="2.2" text-anchor="end" style="fill:#222;stroke:#222">10<tspan font-size="1.6" dy="-.9">3</tspan></text>
<text transform="translate(206.9 243.4)" font-size="2.2" text-anchor="end" style="fill:#222;stroke:#222">10<tspan font-size="1.6" dy="-.9">2</tspan></text>
<text transform="translate(206.9 247.6)" font-size="2.2" text-anchor="end" style="fill:#222;stroke:#222">0</text>
<text transform="translate(214.8 256.9)" font-size="2.2" text-anchor="middle" style="fill:#222;stroke:#222">0</text>
<text transform="translate(218.7 256.9)" font-size="2.2" text-anchor="middle" style="fill:#222;stroke:#222">10<tspan font-size="1.6" dy="-.9">2</tspan></text>
<text transform="translate(228.3 256.9)" font-size="2.2" text-anchor="middle" style="fill:#222;stroke:#222">10<tspan font-size="1.6" dy="-.9">3</tspan></text>
<text transform="translate(237 256.9)" font-size="2.2" text-anchor="middle" style="fill:#222;stroke:#222">10<tspan font-size="1.6" dy="-.9">4</tspan></text>
<text transform="translate(245.6 256.9)" font-size="2.2" text-anchor="middle" style="fill:#222;stroke:#222">10<tspan font-size="1.6" dy="-.9">5</tspan></text>
<path d="M222.9 211.5L222.9 250.7" stroke="#000" stroke-width=".7"/>
<path d="M209.9 238.8L248.7 238.8" stroke="#000" stroke-width=".7"/>
<text transform="translate(211.1 217.1)" font-size="5.2">4.52</text>
<text transform="translate(247.8 217.1)" font-size="5.2" text-anchor="end">44.2</text>
<text transform="translate(247.8 249.4)" font-size="5.2" text-anchor="end">10.4</text>
<text transform="translate(335.6 168.5)" font-size="8.4" text-anchor="middle" letter-spacing=".2">BM CD41<tspan font-size="5.6" dy="-2.6">+</tspan><tspan dy="2.6">CD61</tspan><tspan font-size="5.6" dy="-2.6">+</tspan></text>
<text transform="translate(269.6 204.6) rotate(-90) scale(.85 1)" font-size="8.5" text-anchor="middle">% of live cells</text>
<path d="M288.75 170.4L288.75 236.85" stroke="#000" stroke-width="1.1"/>
<path d="M285.65 236.3L288.75 236.3" stroke="#000" stroke-width="1.1"/>
<text transform="translate(283.15 238.68)" font-size="6.6" text-anchor="end">0</text>
<path d="M285.65 225.85L288.75 225.85" stroke="#000" stroke-width="1.1"/>
<text transform="translate(283.15 228.23)" font-size="6.6" text-anchor="end">10</text>
<path d="M285.65 215.4L288.75 215.4" stroke="#000" stroke-width="1.1"/>
<text transform="translate(283.15 217.78)" font-size="6.6" text-anchor="end">20</text>
<path d="M285.65 204.95L288.75 204.95" stroke="#000" stroke-width="1.1"/>
<text transform="translate(283.15 207.33)" font-size="6.6" text-anchor="end">30</text>
<path d="M285.65 194.5L288.75 194.5" stroke="#000" stroke-width="1.1"/>
<text transform="translate(283.15 196.88)" font-size="6.6" text-anchor="end">40</text>
<path d="M285.65 184.05L288.75 184.05" stroke="#000" stroke-width="1.1"/>
<text transform="translate(283.15 186.43)" font-size="6.6" text-anchor="end">50</text>
<path d="M285.65 173.6L288.75 173.6" stroke="#000" stroke-width="1.1"/>
<text transform="translate(283.15 175.98)" font-size="6.6" text-anchor="end">60</text>
<path d="M288.2 236.3L386.2 236.3" stroke="#000" stroke-width="1.3"/>
<path d="M288.75 236.3L288.75 239.2" stroke="#000" stroke-width="1.1"/>
<path d="M312.5 236.3L312.5 239.2" stroke="#000" stroke-width="1.1"/>
<path d="M336.25 236.3L336.25 239.2" stroke="#000" stroke-width="1.1"/>
<path d="M360 236.3L360 239.2" stroke="#000" stroke-width="1.1"/>
<path d="M383.75 236.3L383.75 239.2" stroke="#000" stroke-width="1.1"/>
<path d="M300.85 219.06L300.85 213.52" stroke="#000" stroke-width="1.25"/>
<path d="M299.15 213.52L302.55 213.52" stroke="#000" stroke-width="1.25"/>
<rect x="296.25" y="219.06" width="9.3" height="17.24" fill="#c3c3c3"/>
<path d="M324.2 206.73L324.2 202.96" stroke="#000" stroke-width="1.25"/>
<path d="M322.5 202.96L325.9 202.96" stroke="#000" stroke-width="1.25"/>
<rect x="319.6" y="206.73" width="9.3" height="29.57" fill="#888888"/>
<path d="M347.9 214.77L347.9 211.01" stroke="#000" stroke-width="1.25"/>
<path d="M346.2 211.01L349.6 211.01" stroke="#000" stroke-width="1.25"/>
<rect x="343.3" y="214.77" width="9.3" height="21.53" fill="#3d3d3d"/>
<path d="M371.6 187.71L371.6 181.12" stroke="#000" stroke-width="1.25"/>
<path d="M369.9 181.12L373.3 181.12" stroke="#000" stroke-width="1.25"/>
<rect x="367" y="187.71" width="9.3" height="48.59" fill="#000"/>
<path d="M296.8 179.1L374.4 179.1" stroke="#000" stroke-width="1.15"/>
<text transform="translate(335.4 179.3)" font-size="6" text-anchor="middle" font-weight="bold">*</text>
<path d="M344 186L368.8 186" stroke="#000" stroke-width="1.15"/>
<text transform="translate(355.8 186.2)" font-size="6" text-anchor="middle" font-weight="bold">*</text>
<text transform="translate(304.55 246.5) rotate(-45)" font-size="6.6" text-anchor="end">Control</text>
<text transform="translate(327.9 246.5) rotate(-45)" font-size="6.6" text-anchor="end">Ezh2<tspan font-size="4.2" dy="-2.6">-/-</tspan></text>
<text transform="translate(351.6 246.5) rotate(-45)" font-size="6.6" text-anchor="end">Jak2<tspan font-size="4.2" dy="-2.6">VF/+</tspan></text>
<text transform="translate(375.3 246.5) rotate(-45)" font-size="6.6" text-anchor="end">Jak2<tspan font-size="4.2" dy="-2.6">VF/+</tspan></text>
<text transform="translate(380.67 251.87) rotate(-45)" font-size="6.6" text-anchor="end">Ezh2<tspan font-size="4.2" dy="-2.6">-/-</tspan></text>
<text transform="translate(462 168.5)" font-size="8.4" text-anchor="middle" letter-spacing=".2">SPL CD41<tspan font-size="5.6" dy="-2.6">+</tspan><tspan dy="2.6">CD61</tspan><tspan font-size="5.6" dy="-2.6">+</tspan></text>
<text transform="translate(396 203) rotate(-90) scale(.85 1)" font-size="8.5" text-anchor="middle">% of live cells</text>
<path d="M415.75 170.75L415.75 236.85" stroke="#000" stroke-width="1.1"/>
<path d="M412.65 236.3L415.75 236.3" stroke="#000" stroke-width="1.1"/>
<text transform="translate(410.15 238.68)" font-size="6.6" text-anchor="end">0</text>
<path d="M412.65 227.26L415.75 227.26" stroke="#000" stroke-width="1.1"/>
<text transform="translate(410.15 229.64)" font-size="6.6" text-anchor="end">10</text>
<path d="M412.65 218.22L415.75 218.22" stroke="#000" stroke-width="1.1"/>
<text transform="translate(410.15 220.6)" font-size="6.6" text-anchor="end">20</text>
<path d="M412.65 209.18L415.75 209.18" stroke="#000" stroke-width="1.1"/>
<text transform="translate(410.15 211.56)" font-size="6.6" text-anchor="end">30</text>
<path d="M412.65 200.14L415.75 200.14" stroke="#000" stroke-width="1.1"/>
<text transform="translate(410.15 202.52)" font-size="6.6" text-anchor="end">40</text>
<path d="M412.65 191.1L415.75 191.1" stroke="#000" stroke-width="1.1"/>
<text transform="translate(410.15 193.48)" font-size="6.6" text-anchor="end">50</text>
<path d="M412.65 182.06L415.75 182.06" stroke="#000" stroke-width="1.1"/>
<text transform="translate(410.15 184.44)" font-size="6.6" text-anchor="end">60</text>
<path d="M412.65 173.02L415.75 173.02" stroke="#000" stroke-width="1.1"/>
<text transform="translate(410.15 175.4)" font-size="6.6" text-anchor="end">70</text>
<path d="M415.2 236.3L511.5 236.3" stroke="#000" stroke-width="1.3"/>
<path d="M415.75 236.3L415.75 239.2" stroke="#000" stroke-width="1.1"/>
<path d="M439.5 236.3L439.5 239.2" stroke="#000" stroke-width="1.1"/>
<path d="M463.25 236.3L463.25 239.2" stroke="#000" stroke-width="1.1"/>
<path d="M487 236.3L487 239.2" stroke="#000" stroke-width="1.1"/>
<path d="M510.75 236.3L510.75 239.2" stroke="#000" stroke-width="1.1"/>
<path d="M427.1 232.05L427.1 230.51" stroke="#000" stroke-width="1.25"/>
<path d="M425.4 230.51L428.8 230.51" stroke="#000" stroke-width="1.25"/>
<rect x="422.5" y="232.05" width="9.3" height="4.25" fill="#c3c3c3"/>
<path d="M450.85 229.52L450.85 228.62" stroke="#000" stroke-width="1.25"/>
<path d="M449.15 228.62L452.55 228.62" stroke="#000" stroke-width="1.25"/>
<rect x="446.25" y="229.52" width="9.3" height="6.78" fill="#888888"/>
<path d="M474.6 226.36L474.6 221.38" stroke="#000" stroke-width="1.25"/>
<path d="M472.9 221.38L476.3 221.38" stroke="#000" stroke-width="1.25"/>
<rect x="470" y="226.36" width="9.3" height="9.94" fill="#3d3d3d"/>
<path d="M498.35 190.02L498.35 178.81" stroke="#000" stroke-width="1.25"/>
<path d="M496.65 178.81L500.05 178.81" stroke="#000" stroke-width="1.25"/>
<rect x="493.75" y="190.02" width="9.3" height="46.28" fill="#000"/>
<path d="M425 176.75L501.3 176.75" stroke="#000" stroke-width="1.15"/>
<text transform="translate(463.25 176.95)" font-size="6" text-anchor="middle" font-weight="bold">*</text>
<path d="M472.5 186.25L495 186.25" stroke="#000" stroke-width="1.15"/>
<text transform="translate(484.25 186.45)" font-size="6" text-anchor="middle" font-weight="bold">*</text>
<text transform="translate(430.8 246.5) rotate(-45)" font-size="6.6" text-anchor="end">Control</text>
<text transform="translate(454.55 246.5) rotate(-45)" font-size="6.6" text-anchor="end">Ezh2<tspan font-size="4.2" dy="-2.6">-/-</tspan></text>
<text transform="translate(478.3 246.5) rotate(-45)" font-size="6.6" text-anchor="end">Jak2<tspan font-size="4.2" dy="-2.6">VF/+</tspan></text>
<text transform="translate(502.05 246.5) rotate(-45)" font-size="6.6" text-anchor="end">Jak2<tspan font-size="4.2" dy="-2.6">VF/+</tspan></text>
<text transform="translate(507.42 251.87) rotate(-45)" font-size="6.6" text-anchor="end">Ezh2<tspan font-size="4.2" dy="-2.6">-/-</tspan></text>
<text transform="translate(6.05 287.8)" font-size="12" font-weight="bold">C</text>
<text transform="translate(137.5 291.9)" font-size="8.4" text-anchor="middle">BM</text>
<text transform="translate(24.7 331) rotate(-90) scale(.85 1)" font-size="8.5" text-anchor="middle">% of live cells</text>
<path d="M48.75 283.8L48.75 377.55" stroke="#000" stroke-width="1.1"/>
<path d="M45.65 377L48.75 377" stroke="#000" stroke-width="1.1"/>
<text transform="translate(43.15 379.38)" font-size="6.6" text-anchor="end">0</text>
<path d="M45.65 354.5L48.75 354.5" stroke="#000" stroke-width="1.1"/>
<text transform="translate(43.15 356.88)" font-size="6.6" text-anchor="end">0.5</text>
<path d="M45.65 332L48.75 332" stroke="#000" stroke-width="1.1"/>
<text transform="translate(43.15 334.38)" font-size="6.6" text-anchor="end">1</text>
<path d="M45.65 309.5L48.75 309.5" stroke="#000" stroke-width="1.1"/>
<text transform="translate(43.15 311.88)" font-size="6.6" text-anchor="end">1.5</text>
<path d="M45.65 287L48.75 287" stroke="#000" stroke-width="1.1"/>
<text transform="translate(43.15 289.38)" font-size="6.6" text-anchor="end">2</text>
<path d="M48.2 377L229.6 377" stroke="#000" stroke-width="1.3"/>
<path d="M48.75 377L48.75 379.9" stroke="#000" stroke-width="1.1"/>
<path d="M74.2 377L74.2 379.9" stroke="#000" stroke-width="1.1"/>
<path d="M99.65 377L99.65 379.9" stroke="#000" stroke-width="1.1"/>
<path d="M125.1 377L125.1 379.9" stroke="#000" stroke-width="1.1"/>
<path d="M150.55 377L150.55 379.9" stroke="#000" stroke-width="1.1"/>
<path d="M176 377L176 379.9" stroke="#000" stroke-width="1.1"/>
<path d="M201.45 377L201.45 379.9" stroke="#000" stroke-width="1.1"/>
<path d="M226.9 377L226.9 379.9" stroke="#000" stroke-width="1.1"/>
<path d="M54.11 364.18L54.11 363.27" stroke="#000" stroke-width="1"/>
<path d="M51.94 363.27L56.28 363.27" stroke="#000" stroke-width="1"/>
<rect x="51.75" y="364.18" width="4.72" height="12.82" fill="#c3c3c3"/>
<path d="M58.83 367.55L58.83 366.2" stroke="#000" stroke-width="1"/>
<path d="M56.66 366.2L61 366.2" stroke="#000" stroke-width="1"/>
<rect x="56.47" y="367.55" width="4.72" height="9.45" fill="#888888"/>
<path d="M63.55 352.52L63.55 348.79" stroke="#000" stroke-width="1"/>
<path d="M61.38 348.79L65.72 348.79" stroke="#000" stroke-width="1"/>
<rect x="61.19" y="352.52" width="4.72" height="24.48" fill="#3d3d3d"/>
<path d="M68.27 340.73L68.27 334.43" stroke="#000" stroke-width="1"/>
<path d="M66.1 334.43L70.44 334.43" stroke="#000" stroke-width="1"/>
<rect x="65.91" y="340.73" width="4.72" height="36.27" fill="#000"/>
<path d="M79.36 376.1L79.36 375.65" stroke="#000" stroke-width="1"/>
<path d="M77.19 375.65L81.53 375.65" stroke="#000" stroke-width="1"/>
<rect x="77" y="376.1" width="4.72" height=".9" fill="#c3c3c3"/>
<path d="M84.08 376.32L84.08 375.88" stroke="#000" stroke-width="1"/>
<path d="M81.91 375.88L86.25 375.88" stroke="#000" stroke-width="1"/>
<rect x="81.72" y="376.32" width="4.72" height=".67" fill="#888888"/>
<path d="M88.8 374.3L88.8 373.4" stroke="#000" stroke-width="1"/>
<path d="M86.63 373.4L90.97 373.4" stroke="#000" stroke-width="1"/>
<rect x="86.44" y="374.3" width="4.72" height="2.7" fill="#3d3d3d"/>
<path d="M93.52 373.18L93.52 371.38" stroke="#000" stroke-width="1"/>
<path d="M91.35 371.38L95.69 371.38" stroke="#000" stroke-width="1"/>
<rect x="91.16" y="373.18" width="4.72" height="3.83" fill="#000"/>
<path d="M104.86 371.24L104.86 370.56" stroke="#000" stroke-width="1"/>
<path d="M102.69 370.56L107.03 370.56" stroke="#000" stroke-width="1"/>
<rect x="102.5" y="371.24" width="4.72" height="5.76" fill="#c3c3c3"/>
<path d="M109.58 372.5L109.58 371.82" stroke="#000" stroke-width="1"/>
<path d="M107.41 371.82L111.75 371.82" stroke="#000" stroke-width="1"/>
<rect x="107.22" y="372.5" width="4.72" height="4.5" fill="#888888"/>
<path d="M114.3 363.05L114.3 359.9" stroke="#000" stroke-width="1"/>
<path d="M112.13 359.9L116.47 359.9" stroke="#000" stroke-width="1"/>
<rect x="111.94" y="363.05" width="4.72" height="13.95" fill="#3d3d3d"/>
<path d="M119.02 355.49L119.02 350.54" stroke="#000" stroke-width="1"/>
<path d="M116.85 350.54L121.19 350.54" stroke="#000" stroke-width="1"/>
<rect x="116.66" y="355.49" width="4.72" height="21.51" fill="#000"/>
<path d="M130.61 371.24L130.61 370.7" stroke="#000" stroke-width="1"/>
<path d="M128.44 370.7L132.78 370.7" stroke="#000" stroke-width="1"/>
<rect x="128.25" y="371.24" width="4.72" height="5.76" fill="#c3c3c3"/>
<path d="M135.33 372.05L135.33 371.51" stroke="#000" stroke-width="1"/>
<path d="M133.16 371.51L137.5 371.51" stroke="#000" stroke-width="1"/>
<rect x="132.97" y="372.05" width="4.72" height="4.95" fill="#888888"/>
<path d="M140.05 370.52L140.05 369.17" stroke="#000" stroke-width="1"/>
<path d="M137.88 369.17L142.22 369.17" stroke="#000" stroke-width="1"/>
<rect x="137.69" y="370.52" width="4.72" height="6.48" fill="#3d3d3d"/>
<path d="M144.77 369.26L144.77 367.46" stroke="#000" stroke-width="1"/>
<path d="M142.6 367.46L146.94 367.46" stroke="#000" stroke-width="1"/>
<rect x="142.41" y="369.26" width="4.72" height="7.74" fill="#000"/>
<path d="M156.11 357.51L156.11 356.17" stroke="#000" stroke-width="1"/>
<path d="M153.94 356.17L158.28 356.17" stroke="#000" stroke-width="1"/>
<rect x="153.75" y="357.51" width="4.72" height="19.48" fill="#c3c3c3"/>
<path d="M160.83 356.3L160.83 353.6" stroke="#000" stroke-width="1"/>
<path d="M158.66 353.6L163 353.6" stroke="#000" stroke-width="1"/>
<rect x="158.47" y="356.3" width="4.72" height="20.7" fill="#888888"/>
<path d="M165.55 352.52L165.55 350.05" stroke="#000" stroke-width="1"/>
<path d="M163.38 350.05L167.72 350.05" stroke="#000" stroke-width="1"/>
<rect x="163.19" y="352.52" width="4.72" height="24.48" fill="#3d3d3d"/>
<path d="M170.27 350.45L170.27 347.44" stroke="#000" stroke-width="1"/>
<path d="M168.1 347.44L172.44 347.44" stroke="#000" stroke-width="1"/>
<rect x="167.91" y="350.45" width="4.72" height="26.55" fill="#000"/>
<path d="M181.61 350.76L181.61 347.03" stroke="#000" stroke-width="1"/>
<path d="M179.44 347.03L183.78 347.03" stroke="#000" stroke-width="1"/>
<rect x="179.25" y="350.76" width="4.72" height="26.23" fill="#c3c3c3"/>
<path d="M186.33 350.76L186.33 343.25" stroke="#000" stroke-width="1"/>
<path d="M184.16 343.25L188.5 343.25" stroke="#000" stroke-width="1"/>
<rect x="183.97" y="350.76" width="4.72" height="26.23" fill="#888888"/>
<path d="M191.05 342.49L191.05 335.51" stroke="#000" stroke-width="1"/>
<path d="M188.88 335.51L193.22 335.51" stroke="#000" stroke-width="1"/>
<rect x="188.69" y="342.49" width="4.72" height="34.52" fill="#3d3d3d"/>
<path d="M195.77 344.24L195.77 338.84" stroke="#000" stroke-width="1"/>
<path d="M193.6 338.84L197.94 338.84" stroke="#000" stroke-width="1"/>
<rect x="193.41" y="344.24" width="4.72" height="32.76" fill="#000"/>
<path d="M206.86 353.24L206.86 351.89" stroke="#000" stroke-width="1"/>
<path d="M204.69 351.89L209.03 351.89" stroke="#000" stroke-width="1"/>
<rect x="204.5" y="353.24" width="4.72" height="23.76" fill="#c3c3c3"/>
<path d="M211.58 350L211.58 345.77" stroke="#000" stroke-width="1"/>
<path d="M209.41 345.77L213.75 345.77" stroke="#000" stroke-width="1"/>
<rect x="209.22" y="350" width="4.72" height="27" fill="#888888"/>
<path d="M216.3 309.95L216.3 304.55" stroke="#000" stroke-width="1"/>
<path d="M214.13 304.55L218.47 304.55" stroke="#000" stroke-width="1"/>
<rect x="213.94" y="309.95" width="4.72" height="67.05" fill="#3d3d3d"/>
<path d="M221.02 318.23L221.02 312.97" stroke="#000" stroke-width="1"/>
<path d="M218.85 312.97L223.19 312.97" stroke="#000" stroke-width="1"/>
<rect x="218.66" y="318.23" width="4.72" height="58.77" fill="#000"/>
<text transform="translate(60.75 388.3)" font-size="6.7" text-anchor="middle" style="stroke-width:.08px">LSK</text>
<text transform="translate(86.2 388.3)" font-size="6.7" text-anchor="middle" style="stroke-width:.08px">LT-HSC</text>
<text transform="translate(112 388.3)" font-size="6.7" text-anchor="middle" style="stroke-width:.08px">ST-HSC</text>
<text transform="translate(136.3 388.3)" font-size="6.7" text-anchor="middle" style="stroke-width:.08px">MPP</text>
<text transform="translate(163 388.3)" font-size="6.7" text-anchor="middle" style="stroke-width:.08px">CMP</text>
<text transform="translate(188.75 388.3)" font-size="6.7" text-anchor="middle" style="stroke-width:.08px">GMP</text>
<text transform="translate(214.5 388.3)" font-size="6.7" text-anchor="middle" style="stroke-width:.08px">MEP</text>
<path d="M52 325L71.75 325" stroke="#000" stroke-width="1.15"/>
<text transform="translate(59.65 325.2)" font-size="6" text-anchor="middle" font-weight="bold">*</text>
<text transform="translate(62.85 325.2)" font-size="6" text-anchor="middle" font-weight="bold">*</text>
<path d="M61.25 332.5L71.5 332.5" stroke="#000" stroke-width="1.15"/>
<text transform="translate(65.75 332.7)" font-size="6" text-anchor="middle" font-weight="bold">*</text>
<path d="M102 341.25L121.3 341.25" stroke="#000" stroke-width="1.15"/>
<text transform="translate(111.75 341.45)" font-size="6" text-anchor="middle" font-weight="bold">*</text>
<path d="M111.75 348.25L121.3 348.25" stroke="#000" stroke-width="1.15"/>
<text transform="translate(115.75 348.45)" font-size="6" text-anchor="middle" font-weight="bold">*</text>
<path d="M203.25 293L223.4 293" stroke="#000" stroke-width="1.15"/>
<text transform="translate(211.65 293.2)" font-size="6" text-anchor="middle" font-weight="bold">*</text>
<text transform="translate(214.85 293.2)" font-size="6" text-anchor="middle" font-weight="bold">*</text>
<path d="M213.75 301.75L223.4 301.75" stroke="#000" stroke-width="1.15"/>
<text transform="translate(218.2 299.75)" font-size="6.4" text-anchor="middle" style="stroke:none">ns</text>
<text transform="translate(349.4 291.9)" font-size="8.4" text-anchor="middle">SPL</text>
<text transform="translate(246 330.6) rotate(-90) scale(.85 1)" font-size="8.5" text-anchor="middle">% of live cells</text>
<path d="M261.25 283.8L261.25 377.55" stroke="#000" stroke-width="1.1"/>
<path d="M257.35 377L261.25 377" stroke="#000" stroke-width="1.1"/>
<text transform="translate(254.45 379.38)" font-size="6.6" text-anchor="end">0</text>
<path d="M257.35 354.5L261.25 354.5" stroke="#000" stroke-width="1.1"/>
<text transform="translate(254.45 356.88)" font-size="6.6" text-anchor="end">1</text>
<path d="M257.35 332L261.25 332" stroke="#000" stroke-width="1.1"/>
<text transform="translate(254.45 334.38)" font-size="6.6" text-anchor="end">2</text>
<path d="M257.35 309.5L261.25 309.5" stroke="#000" stroke-width="1.1"/>
<text transform="translate(254.45 311.88)" font-size="6.6" text-anchor="end">3</text>
<path d="M257.35 287L261.25 287" stroke="#000" stroke-width="1.1"/>
<text transform="translate(254.45 289.38)" font-size="6.6" text-anchor="end">4</text>
<path d="M260.7 377L440.6 377" stroke="#000" stroke-width="1.3"/>
<path d="M261.25 377L261.25 379.9" stroke="#000" stroke-width="1.1"/>
<path d="M286.65 377L286.65 379.9" stroke="#000" stroke-width="1.1"/>
<path d="M312.05 377L312.05 379.9" stroke="#000" stroke-width="1.1"/>
<path d="M337.45 377L337.45 379.9" stroke="#000" stroke-width="1.1"/>
<path d="M362.85 377L362.85 379.9" stroke="#000" stroke-width="1.1"/>
<path d="M388.25 377L388.25 379.9" stroke="#000" stroke-width="1.1"/>
<path d="M413.65 377L413.65 379.9" stroke="#000" stroke-width="1.1"/>
<path d="M439.05 377L439.05 379.9" stroke="#000" stroke-width="1.1"/>
<rect x="264.5" y="376.32" width="4.72" height=".67" fill="#c3c3c3"/>
<rect x="269.22" y="376.1" width="4.72" height=".9" fill="#888888"/>
<path d="M276.3 372.95L276.3 372.5" stroke="#000" stroke-width="1"/>
<path d="M274.13 372.5L278.47 372.5" stroke="#000" stroke-width="1"/>
<rect x="273.94" y="372.95" width="4.72" height="4.05" fill="#3d3d3d"/>
<path d="M281.02 354.27L281.02 345.05" stroke="#000" stroke-width="1"/>
<path d="M278.85 345.05L283.19 345.05" stroke="#000" stroke-width="1"/>
<rect x="278.66" y="354.27" width="4.72" height="22.73" fill="#000"/>
<rect x="290.3" y="376.77" width="4.72" height=".23" fill="#c3c3c3"/>
<rect x="295.02" y="376.77" width="4.72" height=".23" fill="#888888"/>
<path d="M302.1 376.1L302.1 375.88" stroke="#000" stroke-width="1"/>
<path d="M299.93 375.88L304.27 375.88" stroke="#000" stroke-width="1"/>
<rect x="299.74" y="376.1" width="4.72" height=".9" fill="#3d3d3d"/>
<path d="M306.82 374.52L306.82 373.4" stroke="#000" stroke-width="1"/>
<path d="M304.65 373.4L308.99 373.4" stroke="#000" stroke-width="1"/>
<rect x="304.46" y="374.52" width="4.72" height="2.48" fill="#000"/>
<rect x="315.6" y="376.55" width="4.72" height=".45" fill="#c3c3c3"/>
<rect x="320.32" y="376.55" width="4.72" height=".45" fill="#888888"/>
<rect x="325.04" y="376.1" width="4.72" height=".9" fill="#3d3d3d"/>
<path d="M332.12 361.99L332.12 355.47" stroke="#000" stroke-width="1"/>
<path d="M329.95 355.47L334.29 355.47" stroke="#000" stroke-width="1"/>
<rect x="329.76" y="361.99" width="4.72" height="15.01" fill="#000"/>
<rect x="340.9" y="376.55" width="4.72" height=".45" fill="#c3c3c3"/>
<rect x="345.62" y="376.55" width="4.72" height=".45" fill="#888888"/>
<path d="M352.7 374.52L352.7 374.07" stroke="#000" stroke-width="1"/>
<path d="M350.53 374.07L354.87 374.07" stroke="#000" stroke-width="1"/>
<rect x="350.34" y="374.52" width="4.72" height="2.48" fill="#3d3d3d"/>
<path d="M357.42 373.76L357.42 372.86" stroke="#000" stroke-width="1"/>
<path d="M355.25 372.86L359.59 372.86" stroke="#000" stroke-width="1"/>
<rect x="355.06" y="373.76" width="4.72" height="3.24" fill="#000"/>
<rect x="365.6" y="376.55" width="4.72" height=".45" fill="#c3c3c3"/>
<rect x="370.32" y="376.32" width="4.72" height=".67" fill="#888888"/>
<rect x="375.04" y="375.65" width="4.72" height="1.35" fill="#3d3d3d"/>
<path d="M382.12 358.01L382.12 352.61" stroke="#000" stroke-width="1"/>
<path d="M379.95 352.61L384.29 352.61" stroke="#000" stroke-width="1"/>
<rect x="379.76" y="358.01" width="4.72" height="18.99" fill="#000"/>
<rect x="391.1" y="376.55" width="4.72" height=".45" fill="#c3c3c3"/>
<rect x="395.82" y="376.55" width="4.72" height=".45" fill="#888888"/>
<rect x="400.54" y="375.65" width="4.72" height="1.35" fill="#3d3d3d"/>
<path d="M407.62 365.75L407.62 362.6" stroke="#000" stroke-width="1"/>
<path d="M405.45 362.6L409.79 362.6" stroke="#000" stroke-width="1"/>
<rect x="405.26" y="365.75" width="4.72" height="11.25" fill="#000"/>
<path d="M418.66 374.75L418.66 374.3" stroke="#000" stroke-width="1"/>
<path d="M416.49 374.3L420.83 374.3" stroke="#000" stroke-width="1"/>
<rect x="416.3" y="374.75" width="4.72" height="2.25" fill="#c3c3c3"/>
<path d="M423.38 374.75L423.38 374.3" stroke="#000" stroke-width="1"/>
<path d="M421.21 374.3L425.55 374.3" stroke="#000" stroke-width="1"/>
<rect x="421.02" y="374.75" width="4.72" height="2.25" fill="#888888"/>
<path d="M428.1 365.07L428.1 363.73" stroke="#000" stroke-width="1"/>
<path d="M425.93 363.73L430.27 363.73" stroke="#000" stroke-width="1"/>
<rect x="425.74" y="365.07" width="4.72" height="11.93" fill="#3d3d3d"/>
<path d="M432.82 316.25L432.82 304.32" stroke="#000" stroke-width="1"/>
<path d="M430.65 304.32L434.99 304.32" stroke="#000" stroke-width="1"/>
<rect x="430.46" y="316.25" width="4.72" height="60.75" fill="#000"/>
<text transform="translate(274.25 388.3)" font-size="6.7" text-anchor="middle" style="stroke-width:.08px">LSK</text>
<text transform="translate(299 388.3)" font-size="6.7" text-anchor="middle" style="stroke-width:.08px">LT-HSC</text>
<text transform="translate(324.4 388.3)" font-size="6.7" text-anchor="middle" style="stroke-width:.08px">ST-HSC</text>
<text transform="translate(349.8 388.3)" font-size="6.7" text-anchor="middle" style="stroke-width:.08px">MPP</text>
<text transform="translate(375.1 388.3)" font-size="6.7" text-anchor="middle" style="stroke-width:.08px">CMP</text>
<text transform="translate(400.1 388.3)" font-size="6.7" text-anchor="middle" style="stroke-width:.08px">GMP</text>
<text transform="translate(425.8 388.3)" font-size="6.7" text-anchor="middle" style="stroke-width:.08px">MEP</text>
<path d="M265 337.5L285 337.5" stroke="#000" stroke-width="1.15"/>
<text transform="translate(274.25 337.7)" font-size="6" text-anchor="middle" font-weight="bold">*</text>
<path d="M273.25 344.25L285 344.25" stroke="#000" stroke-width="1.15"/>
<text transform="translate(278.75 344.45)" font-size="6" text-anchor="middle" font-weight="bold">*</text>
<path d="M289.5 368.25L309.3 368.25" stroke="#000" stroke-width="1.15"/>
<text transform="translate(299.25 368.45)" font-size="6" text-anchor="middle" font-weight="bold">*</text>
<path d="M315.5 345L334.6 345" stroke="#000" stroke-width="1.15"/>
<text transform="translate(325 345.2)" font-size="6" text-anchor="middle" font-weight="bold">*</text>
<path d="M325 351.75L334.6 351.75" stroke="#000" stroke-width="1.15"/>
<text transform="translate(329.5 351.95)" font-size="6" text-anchor="middle" font-weight="bold">*</text>
<path d="M340.5 369.25L360 369.25" stroke="#000" stroke-width="1.15"/>
<text transform="translate(350 369.45)" font-size="6" text-anchor="middle" font-weight="bold">*</text>
<path d="M366.4 343.75L385.2 343.75" stroke="#000" stroke-width="1.15"/>
<text transform="translate(375.4 343.95)" font-size="6" text-anchor="middle" font-weight="bold">*</text>
<path d="M375.4 350.5L385.2 350.5" stroke="#000" stroke-width="1.15"/>
<text transform="translate(379.7 350.7)" font-size="6" text-anchor="middle" font-weight="bold">*</text>
<path d="M391.8 352.5L410.4 352.5" stroke="#000" stroke-width="1.15"/>
<text transform="translate(401 352.7)" font-size="6" text-anchor="middle" font-weight="bold">*</text>
<path d="M401 359.25L410.4 359.25" stroke="#000" stroke-width="1.15"/>
<text transform="translate(405.3 359.45)" font-size="6" text-anchor="middle" font-weight="bold">*</text>
<path d="M416.8 294.25L435.6 294.25" stroke="#000" stroke-width="1.15"/>
<text transform="translate(424.4 294.45)" font-size="6" text-anchor="middle" font-weight="bold">*</text>
<text transform="translate(427.6 294.45)" font-size="6" text-anchor="middle" font-weight="bold">*</text>
<path d="M426 301.25L435.6 301.25" stroke="#000" stroke-width="1.15"/>
<text transform="translate(430.5 301.45)" font-size="6" text-anchor="middle" font-weight="bold">*</text>
<text transform="translate(6.9 401.2)" font-size="12" font-weight="bold">D</text>
<text transform="translate(69.3 408.4)" font-size="8.4" text-anchor="middle" letter-spacing=".3">LSK</text>
<text transform="translate(16.9 441.3) rotate(-90) scale(.97 1)" font-size="8.3" text-anchor="middle">Total numbers (×10<tspan font-size="5" dy="-2.8">5</tspan><tspan dy="2.8">)</tspan></text>
<path d="M34.9 412.8L34.9 462.85" stroke="#000" stroke-width="1.1"/>
<path d="M31.8 462.3L34.9 462.3" stroke="#000" stroke-width="1.1"/>
<text transform="translate(29.3 464.68)" font-size="6.6" text-anchor="end">0</text>
<path d="M31.8 452.92L34.9 452.92" stroke="#000" stroke-width="1.1"/>
<text transform="translate(29.3 455.3)" font-size="6.6" text-anchor="end">2</text>
<path d="M31.8 443.54L34.9 443.54" stroke="#000" stroke-width="1.1"/>
<text transform="translate(29.3 445.92)" font-size="6.6" text-anchor="end">4</text>
<path d="M31.8 434.16L34.9 434.16" stroke="#000" stroke-width="1.1"/>
<text transform="translate(29.3 436.54)" font-size="6.6" text-anchor="end">6</text>
<path d="M31.8 424.78L34.9 424.78" stroke="#000" stroke-width="1.1"/>
<text transform="translate(29.3 427.16)" font-size="6.6" text-anchor="end">8</text>
<path d="M31.8 415.4L34.9 415.4" stroke="#000" stroke-width="1.1"/>
<text transform="translate(29.3 417.78)" font-size="6.6" text-anchor="end">10</text>
<path d="M34.35 462.3L104.9 462.3" stroke="#000" stroke-width="1.3"/>
<path d="M34.9 462.3L34.9 465.2" stroke="#000" stroke-width="1.1"/>
<path d="M52.3 462.3L52.3 465.2" stroke="#000" stroke-width="1.1"/>
<path d="M69.7 462.3L69.7 465.2" stroke="#000" stroke-width="1.1"/>
<path d="M87.1 462.3L87.1 465.2" stroke="#000" stroke-width="1.1"/>
<path d="M104.5 462.3L104.5 465.2" stroke="#000" stroke-width="1.1"/>
<rect x="39.8" y="456.2" width="7.2" height="6.1" fill="#000"/>
<path d="M43.4 456.2L43.4 455.64" stroke="#000" stroke-width="1.1"/>
<path d="M40.88 455.64L45.92 455.64" stroke="#000" stroke-width="1.1"/>
<rect x="57.4" y="457.23" width="7.2" height="5.07" fill="#000"/>
<path d="M61 457.23L61 456.86" stroke="#000" stroke-width="1.1"/>
<path d="M58.48 456.86L63.52 456.86" stroke="#000" stroke-width="1.1"/>
<path d="M78 428.72L78 424.03" stroke="#000" stroke-width="1.1"/>
<path d="M75.48 424.03L80.52 424.03" stroke="#000" stroke-width="1.1"/>
<rect x="74.4" y="428.72" width="7.2" height="19.84" fill="#bdbdbd"/>
<rect x="74.4" y="448.56" width="7.2" height="13.74" fill="#000"/>
<path d="M78 448.56L78 445.37" stroke="#000" stroke-width="1.1"/>
<path d="M75.48 445.37L80.52 445.37" stroke="#000" stroke-width="1.1"/>
<path d="M95.6 427.88L95.6 418.5" stroke="#000" stroke-width="1.1"/>
<path d="M93.08 418.5L98.12 418.5" stroke="#000" stroke-width="1.1"/>
<rect x="92" y="427.88" width="7.2" height="28.33" fill="#bdbdbd"/>
<rect x="92" y="456.2" width="7.2" height="6.1" fill="#000"/>
<path d="M95.6 456.2L95.6 453.39" stroke="#000" stroke-width="1.1"/>
<path d="M93.08 453.39L98.12 453.39" stroke="#000" stroke-width="1.1"/>
<text transform="translate(46.9 472.5) rotate(-45)" font-size="6.6" text-anchor="end">Control</text>
<text transform="translate(64.5 472.5) rotate(-45)" font-size="6.6" text-anchor="end">Ezh2<tspan font-size="4.2" dy="-2.6">-/-</tspan></text>
<text transform="translate(81.5 472.5) rotate(-45)" font-size="6.6" text-anchor="end">Jak2<tspan font-size="4.2" dy="-2.6">VF/+</tspan></text>
<text transform="translate(99.1 472.5) rotate(-45)" font-size="6.6" text-anchor="end">Jak2<tspan font-size="4.2" dy="-2.6">VF/+</tspan></text>
<text transform="translate(104.47 477.87) rotate(-45)" font-size="6.6" text-anchor="end">Ezh2<tspan font-size="4.2" dy="-2.6">-/-</tspan></text>
<text transform="translate(95.3 453.5)" font-size="6.5" text-anchor="middle" font-weight="bold">*</text>
<text transform="translate(172 408.4)" font-size="8.4" text-anchor="middle" letter-spacing=".3">LT-HSC</text>
<text transform="translate(117.7 439) rotate(-90) scale(.97 1)" font-size="8.3" text-anchor="middle">Total numbers (×10<tspan font-size="5" dy="-2.8">4</tspan><tspan dy="2.8">)</tspan></text>
<path d="M139.1 413.7L139.1 462.85" stroke="#000" stroke-width="1.1"/>
<path d="M136 462.3L139.1 462.3" stroke="#000" stroke-width="1.1"/>
<text transform="translate(133.5 464.68)" font-size="6.6" text-anchor="end">0</text>
<path d="M136 450.68L139.1 450.68" stroke="#000" stroke-width="1.1"/>
<text transform="translate(133.5 453.05)" font-size="6.6" text-anchor="end">5</text>
<path d="M136 439.05L139.1 439.05" stroke="#000" stroke-width="1.1"/>
<text transform="translate(133.5 441.43)" font-size="6.6" text-anchor="end">10</text>
<path d="M136 427.43L139.1 427.43" stroke="#000" stroke-width="1.1"/>
<text transform="translate(133.5 429.8)" font-size="6.6" text-anchor="end">15</text>
<path d="M136 415.8L139.1 415.8" stroke="#000" stroke-width="1.1"/>
<text transform="translate(133.5 418.18)" font-size="6.6" text-anchor="end">20</text>
<path d="M138.55 462.3L209.4 462.3" stroke="#000" stroke-width="1.3"/>
<path d="M139.1 462.3L139.1 465.2" stroke="#000" stroke-width="1.1"/>
<path d="M156.55 462.3L156.55 465.2" stroke="#000" stroke-width="1.1"/>
<path d="M174 462.3L174 465.2" stroke="#000" stroke-width="1.1"/>
<path d="M191.45 462.3L191.45 465.2" stroke="#000" stroke-width="1.1"/>
<path d="M208.9 462.3L208.9 465.2" stroke="#000" stroke-width="1.1"/>
<rect x="143.4" y="458.81" width="7.3" height="3.49" fill="#000"/>
<path d="M147.05 458.81L147.05 458.46" stroke="#000" stroke-width="1.1"/>
<path d="M144.5 458.46L149.61 458.46" stroke="#000" stroke-width="1.1"/>
<rect x="161" y="460.21" width="7.3" height="2.09" fill="#000"/>
<path d="M164.65 460.21L164.65 459.98" stroke="#000" stroke-width="1.1"/>
<path d="M162.09 459.98L167.21 459.98" stroke="#000" stroke-width="1.1"/>
<path d="M181.95 433L181.95 426.5" stroke="#000" stroke-width="1.1"/>
<path d="M179.4 426.5L184.51 426.5" stroke="#000" stroke-width="1.1"/>
<rect x="178.3" y="433" width="7.3" height="25.11" fill="#bdbdbd"/>
<rect x="178.3" y="458.12" width="7.3" height="4.19" fill="#000"/>
<path d="M181.95 458.12L181.95 456.72" stroke="#000" stroke-width="1.1"/>
<path d="M179.4 456.72L184.51 456.72" stroke="#000" stroke-width="1.1"/>
<path d="M199.45 452.77L199.45 450.21" stroke="#000" stroke-width="1.1"/>
<path d="M196.9 450.21L202.01 450.21" stroke="#000" stroke-width="1.1"/>
<rect x="195.8" y="452.77" width="7.3" height="5.35" fill="#bdbdbd"/>
<rect x="195.8" y="458.12" width="7.3" height="4.19" fill="#000"/>
<path d="M199.45 458.12L199.45 457.19" stroke="#000" stroke-width="1.1"/>
<path d="M196.9 457.19L202.01 457.19" stroke="#000" stroke-width="1.1"/>
<text transform="translate(150.55 472.5) rotate(-45)" font-size="6.6" text-anchor="end">Control</text>
<text transform="translate(168.15 472.5) rotate(-45)" font-size="6.6" text-anchor="end">Ezh2<tspan font-size="4.2" dy="-2.6">-/-</tspan></text>
<text transform="translate(185.45 472.5) rotate(-45)" font-size="6.6" text-anchor="end">Jak2<tspan font-size="4.2" dy="-2.6">VF/+</tspan></text>
<text transform="translate(202.95 472.5) rotate(-45)" font-size="6.6" text-anchor="end">Jak2<tspan font-size="4.2" dy="-2.6">VF/+</tspan></text>
<text transform="translate(208.32 477.87) rotate(-45)" font-size="6.6" text-anchor="end">Ezh2<tspan font-size="4.2" dy="-2.6">-/-</tspan></text>
<text transform="translate(198.8 450.7)" font-size="6.5" text-anchor="middle" font-weight="bold">*</text>
<text transform="translate(272 408.4)" font-size="8.4" text-anchor="middle" letter-spacing=".3">MPP</text>
<text transform="translate(221.3 439) rotate(-90) scale(.97 1)" font-size="8.3" text-anchor="middle">Total numbers (×10<tspan font-size="5" dy="-2.8">5</tspan><tspan dy="2.8">)</tspan></text>
<path d="M237.8 413.7L237.8 462.85" stroke="#000" stroke-width="1.1"/>
<path d="M234.7 462.3L237.8 462.3" stroke="#000" stroke-width="1.1"/>
<text transform="translate(232.2 464.68)" font-size="6.6" text-anchor="end">0</text>
<path d="M234.7 450.67L237.8 450.67" stroke="#000" stroke-width="1.1"/>
<text transform="translate(232.2 453.05)" font-size="6.6" text-anchor="end">1</text>
<path d="M234.7 439.04L237.8 439.04" stroke="#000" stroke-width="1.1"/>
<text transform="translate(232.2 441.42)" font-size="6.6" text-anchor="end">2</text>
<path d="M234.7 427.41L237.8 427.41" stroke="#000" stroke-width="1.1"/>
<text transform="translate(232.2 429.79)" font-size="6.6" text-anchor="end">3</text>
<path d="M234.7 415.78L237.8 415.78" stroke="#000" stroke-width="1.1"/>
<text transform="translate(232.2 418.16)" font-size="6.6" text-anchor="end">4</text>
<path d="M237.25 462.3L308.8 462.3" stroke="#000" stroke-width="1.3"/>
<path d="M237.8 462.3L237.8 465.2" stroke="#000" stroke-width="1.1"/>
<path d="M255.25 462.3L255.25 465.2" stroke="#000" stroke-width="1.1"/>
<path d="M272.7 462.3L272.7 465.2" stroke="#000" stroke-width="1.1"/>
<path d="M290.15 462.3L290.15 465.2" stroke="#000" stroke-width="1.1"/>
<path d="M307.6 462.3L307.6 465.2" stroke="#000" stroke-width="1.1"/>
<rect x="243.1" y="455.95" width="7.1" height="6.35" fill="#000"/>
<path d="M246.65 455.95L246.65 455.48" stroke="#000" stroke-width="1.1"/>
<path d="M244.16 455.48L249.14 455.48" stroke="#000" stroke-width="1.1"/>
<rect x="260.4" y="457.18" width="7.1" height="5.12" fill="#000"/>
<path d="M263.95 457.18L263.95 456.83" stroke="#000" stroke-width="1.1"/>
<path d="M261.46 456.83L266.44 456.83" stroke="#000" stroke-width="1.1"/>
<path d="M281.2 428.69L281.2 420.2" stroke="#000" stroke-width="1.1"/>
<path d="M278.68 420.2L283.72 420.2" stroke="#000" stroke-width="1.1"/>
<rect x="277.6" y="428.69" width="7.2" height="28.49" fill="#bdbdbd"/>
<rect x="277.6" y="457.18" width="7.2" height="5.12" fill="#000"/>
<path d="M281.2 457.18L281.2 455.09" stroke="#000" stroke-width="1.1"/>
<path d="M278.68 455.09L283.72 455.09" stroke="#000" stroke-width="1.1"/>
<path d="M298.45 442.18L298.45 437.99" stroke="#000" stroke-width="1.1"/>
<path d="M295.96 437.99L300.94 437.99" stroke="#000" stroke-width="1.1"/>
<rect x="294.9" y="442.18" width="7.1" height="15.47" fill="#bdbdbd"/>
<rect x="294.9" y="457.65" width="7.1" height="4.65" fill="#000"/>
<path d="M298.45 457.65L298.45 455.9" stroke="#000" stroke-width="1.1"/>
<path d="M295.96 455.9L300.94 455.9" stroke="#000" stroke-width="1.1"/>
<text transform="translate(250.15 472.5) rotate(-45)" font-size="6.6" text-anchor="end">Control</text>
<text transform="translate(267.45 472.5) rotate(-45)" font-size="6.6" text-anchor="end">Ezh2<tspan font-size="4.2" dy="-2.6">-/-</tspan></text>
<text transform="translate(284.7 472.5) rotate(-45)" font-size="6.6" text-anchor="end">Jak2<tspan font-size="4.2" dy="-2.6">VF/+</tspan></text>
<text transform="translate(301.95 472.5) rotate(-45)" font-size="6.6" text-anchor="end">Jak2<tspan font-size="4.2" dy="-2.6">VF/+</tspan></text>
<text transform="translate(307.32 477.87) rotate(-45)" font-size="6.6" text-anchor="end">Ezh2<tspan font-size="4.2" dy="-2.6">-/-</tspan></text>
<text transform="translate(373.2 408.4)" font-size="8.4" text-anchor="middle" letter-spacing=".3">ST-HSC</text>
<text transform="translate(321.9 439) rotate(-90) scale(.97 1)" font-size="8.3" text-anchor="middle">Total numbers (×10<tspan font-size="5" dy="-2.8">5</tspan><tspan dy="2.8">)</tspan></text>
<path d="M337.8 413.7L337.8 462.85" stroke="#000" stroke-width="1.1"/>
<path d="M334.7 462.3L337.8 462.3" stroke="#000" stroke-width="1.1"/>
<text transform="translate(332.2 464.68)" font-size="6.6" text-anchor="end">0</text>
<path d="M334.7 446.8L337.8 446.8" stroke="#000" stroke-width="1.1"/>
<text transform="translate(332.2 449.18)" font-size="6.6" text-anchor="end">2</text>
<path d="M334.7 431.3L337.8 431.3" stroke="#000" stroke-width="1.1"/>
<text transform="translate(332.2 433.68)" font-size="6.6" text-anchor="end">4</text>
<path d="M334.7 415.8L337.8 415.8" stroke="#000" stroke-width="1.1"/>
<text transform="translate(332.2 418.18)" font-size="6.6" text-anchor="end">6</text>
<path d="M337.25 462.3L409.2 462.3" stroke="#000" stroke-width="1.3"/>
<path d="M337.8 462.3L337.8 465.2" stroke="#000" stroke-width="1.1"/>
<path d="M355.25 462.3L355.25 465.2" stroke="#000" stroke-width="1.1"/>
<path d="M372.7 462.3L372.7 465.2" stroke="#000" stroke-width="1.1"/>
<path d="M390.15 462.3L390.15 465.2" stroke="#000" stroke-width="1.1"/>
<path d="M407.6 462.3L407.6 465.2" stroke="#000" stroke-width="1.1"/>
<rect x="343.1" y="457.26" width="7.1" height="5.04" fill="#000"/>
<path d="M346.65 457.26L346.65 456.88" stroke="#000" stroke-width="1.1"/>
<path d="M344.17 456.88L349.14 456.88" stroke="#000" stroke-width="1.1"/>
<rect x="360.4" y="458.04" width="7.1" height="4.26" fill="#000"/>
<path d="M363.95 458.04L363.95 457.65" stroke="#000" stroke-width="1.1"/>
<path d="M361.46 457.65L366.44 457.65" stroke="#000" stroke-width="1.1"/>
<path d="M381.2 445.41L381.2 442.31" stroke="#000" stroke-width="1.1"/>
<path d="M378.68 442.31L383.72 442.31" stroke="#000" stroke-width="1.1"/>
<rect x="377.6" y="445.41" width="7.2" height="7.98" fill="#bdbdbd"/>
<rect x="377.6" y="453.39" width="7.2" height="8.91" fill="#000"/>
<path d="M381.2 453.39L381.2 451.3" stroke="#000" stroke-width="1.1"/>
<path d="M378.68 451.3L383.72 451.3" stroke="#000" stroke-width="1.1"/>
<path d="M398.45 428.05L398.45 420.68" stroke="#000" stroke-width="1.1"/>
<path d="M395.96 420.68L400.94 420.68" stroke="#000" stroke-width="1.1"/>
<rect x="394.9" y="428.05" width="7.1" height="28.52" fill="#bdbdbd"/>
<rect x="394.9" y="456.56" width="7.1" height="5.74" fill="#000"/>
<path d="M398.45 456.56L398.45 454.47" stroke="#000" stroke-width="1.1"/>
<path d="M395.96 454.47L400.94 454.47" stroke="#000" stroke-width="1.1"/>
<text transform="translate(350.15 472.5) rotate(-45)" font-size="6.6" text-anchor="end">Control</text>
<text transform="translate(367.45 472.5) rotate(-45)" font-size="6.6" text-anchor="end">Ezh2<tspan font-size="4.2" dy="-2.6">-/-</tspan></text>
<text transform="translate(384.7 472.5) rotate(-45)" font-size="6.6" text-anchor="end">Jak2<tspan font-size="4.2" dy="-2.6">VF/+</tspan></text>
<text transform="translate(401.95 472.5) rotate(-45)" font-size="6.6" text-anchor="end">Jak2<tspan font-size="4.2" dy="-2.6">VF/+</tspan></text>
<text transform="translate(407.32 477.87) rotate(-45)" font-size="6.6" text-anchor="end">Ezh2<tspan font-size="4.2" dy="-2.6">-/-</tspan></text>
<text transform="translate(398.5 422.2)" font-size="6.5" text-anchor="middle" font-weight="bold">*</text>
<text transform="translate(475.9 408.4)" font-size="8.4" text-anchor="middle" letter-spacing=".3">CMP</text>
<text transform="translate(423.5 439) rotate(-90) scale(.97 1)" font-size="8.3" text-anchor="middle">Total numbers (×10<tspan font-size="5" dy="-2.8">5</tspan><tspan dy="2.8">)</tspan></text>
<path d="M441.3 413.7L441.3 462.85" stroke="#000" stroke-width="1.1"/>
<path d="M438.2 462.3L441.3 462.3" stroke="#000" stroke-width="1.1"/>
<text transform="translate(435.7 464.68)" font-size="6.6" text-anchor="end">0</text>
<path d="M438.2 446.8L441.3 446.8" stroke="#000" stroke-width="1.1"/>
<text transform="translate(435.7 449.18)" font-size="6.6" text-anchor="end">10</text>
<path d="M438.2 431.3L441.3 431.3" stroke="#000" stroke-width="1.1"/>
<text transform="translate(435.7 433.68)" font-size="6.6" text-anchor="end">20</text>
<path d="M438.2 415.8L441.3 415.8" stroke="#000" stroke-width="1.1"/>
<text transform="translate(435.7 418.18)" font-size="6.6" text-anchor="end">30</text>
<path d="M440.75 462.3L513.4 462.3" stroke="#000" stroke-width="1.3"/>
<path d="M441.3 462.3L441.3 465.2" stroke="#000" stroke-width="1.1"/>
<path d="M459 462.3L459 465.2" stroke="#000" stroke-width="1.1"/>
<path d="M476.7 462.3L476.7 465.2" stroke="#000" stroke-width="1.1"/>
<path d="M494.4 462.3L494.4 465.2" stroke="#000" stroke-width="1.1"/>
<path d="M512.1 462.3L512.1 465.2" stroke="#000" stroke-width="1.1"/>
<rect x="447" y="458.74" width="7.1" height="3.56" fill="#000"/>
<path d="M450.55 458.74L450.55 458.43" stroke="#000" stroke-width="1.1"/>
<path d="M448.06 458.43L453.04 458.43" stroke="#000" stroke-width="1.1"/>
<rect x="464.4" y="458.74" width="7.1" height="3.56" fill="#000"/>
<path d="M467.95 458.74L467.95 458.43" stroke="#000" stroke-width="1.1"/>
<path d="M465.46 458.43L470.44 458.43" stroke="#000" stroke-width="1.1"/>
<path d="M485.15 454.55L485.15 453" stroke="#000" stroke-width="1.1"/>
<path d="M482.59 453L487.7 453" stroke="#000" stroke-width="1.1"/>
<rect x="481.5" y="454.55" width="7.3" height="2.64" fill="#bdbdbd"/>
<rect x="481.5" y="457.19" width="7.3" height="5.12" fill="#000"/>
<path d="M485.15 457.19L485.15 455.79" stroke="#000" stroke-width="1.1"/>
<path d="M482.59 455.79L487.7 455.79" stroke="#000" stroke-width="1.1"/>
<path d="M502.6 433.94L502.6 427.43" stroke="#000" stroke-width="1.1"/>
<path d="M500.01 427.43L505.19 427.43" stroke="#000" stroke-width="1.1"/>
<rect x="498.9" y="433.94" width="7.4" height="24.8" fill="#bdbdbd"/>
<rect x="498.9" y="458.74" width="7.4" height="3.56" fill="#000"/>
<path d="M502.6 458.74L502.6 457.96" stroke="#000" stroke-width="1.1"/>
<path d="M500.01 457.96L505.19 457.96" stroke="#000" stroke-width="1.1"/>
<text transform="translate(454.05 472.5) rotate(-45)" font-size="6.6" text-anchor="end">Control</text>
<text transform="translate(471.45 472.5) rotate(-45)" font-size="6.6" text-anchor="end">Ezh2<tspan font-size="4.2" dy="-2.6">-/-</tspan></text>
<text transform="translate(488.65 472.5) rotate(-45)" font-size="6.6" text-anchor="end">Jak2<tspan font-size="4.2" dy="-2.6">VF/+</tspan></text>
<text transform="translate(506.1 472.5) rotate(-45)" font-size="6.6" text-anchor="end">Jak2<tspan font-size="4.2" dy="-2.6">VF/+</tspan></text>
<text transform="translate(511.47 477.87) rotate(-45)" font-size="6.6" text-anchor="end">Ezh2<tspan font-size="4.2" dy="-2.6">-/-</tspan></text>
<text transform="translate(502 427.4)" font-size="6.5" text-anchor="middle" font-weight="bold">*</text>
<text transform="translate(69.8 519.7)" font-size="8.4" text-anchor="middle" letter-spacing=".3">GMP</text>
<text transform="translate(16.3 550.7) rotate(-90) scale(.97 1)" font-size="8.3" text-anchor="middle">Total numbers (×10<tspan font-size="5" dy="-2.8">5</tspan><tspan dy="2.8">)</tspan></text>
<path d="M35.3 524.6L35.3 574.85" stroke="#000" stroke-width="1.1"/>
<path d="M32.2 574.3L35.3 574.3" stroke="#000" stroke-width="1.1"/>
<text transform="translate(29.7 576.68)" font-size="6.6" text-anchor="end">0</text>
<path d="M32.2 551.05L35.3 551.05" stroke="#000" stroke-width="1.1"/>
<text transform="translate(29.7 553.43)" font-size="6.6" text-anchor="end">5</text>
<path d="M32.2 527.8L35.3 527.8" stroke="#000" stroke-width="1.1"/>
<text transform="translate(29.7 530.18)" font-size="6.6" text-anchor="end">10</text>
<path d="M34.75 574.3L105.5 574.3" stroke="#000" stroke-width="1.3"/>
<path d="M35.3 574.3L35.3 577.2" stroke="#000" stroke-width="1.1"/>
<path d="M52.75 574.3L52.75 577.2" stroke="#000" stroke-width="1.1"/>
<path d="M70.2 574.3L70.2 577.2" stroke="#000" stroke-width="1.1"/>
<path d="M87.65 574.3L87.65 577.2" stroke="#000" stroke-width="1.1"/>
<path d="M105.1 574.3L105.1 577.2" stroke="#000" stroke-width="1.1"/>
<rect x="40.6" y="561.61" width="7.1" height="12.69" fill="#000"/>
<path d="M44.15 561.61L44.15 561.05" stroke="#000" stroke-width="1.1"/>
<path d="M41.66 561.05L46.63 561.05" stroke="#000" stroke-width="1.1"/>
<rect x="57.8" y="563.14" width="7.1" height="11.16" fill="#000"/>
<path d="M61.35 563.14L61.35 562.44" stroke="#000" stroke-width="1.1"/>
<path d="M58.86 562.44L63.83 562.44" stroke="#000" stroke-width="1.1"/>
<path d="M78.65 540.45L78.65 536.73" stroke="#000" stroke-width="1.1"/>
<path d="M76.16 536.73L81.13 536.73" stroke="#000" stroke-width="1.1"/>
<rect x="75.1" y="540.45" width="7.1" height="12.04" fill="#bdbdbd"/>
<rect x="75.1" y="552.49" width="7.1" height="21.81" fill="#000"/>
<path d="M78.65 552.49L78.65 543.19" stroke="#000" stroke-width="1.1"/>
<path d="M76.16 543.19L81.13 543.19" stroke="#000" stroke-width="1.1"/>
<path d="M95.95 539.42L95.95 530.31" stroke="#000" stroke-width="1.1"/>
<path d="M93.47 530.31L98.44 530.31" stroke="#000" stroke-width="1.1"/>
<rect x="92.4" y="539.42" width="7.1" height="28.55" fill="#bdbdbd"/>
<rect x="92.4" y="567.98" width="7.1" height="6.32" fill="#000"/>
<path d="M95.95 567.98L95.95 566.81" stroke="#000" stroke-width="1.1"/>
<path d="M93.47 566.81L98.44 566.81" stroke="#000" stroke-width="1.1"/>
<text transform="translate(47.65 584.5) rotate(-45)" font-size="6.6" text-anchor="end">Control</text>
<text transform="translate(64.85 584.5) rotate(-45)" font-size="6.6" text-anchor="end">Ezh2<tspan font-size="4.2" dy="-2.6">-/-</tspan></text>
<text transform="translate(82.15 584.5) rotate(-45)" font-size="6.6" text-anchor="end">Jak2<tspan font-size="4.2" dy="-2.6">VF/+</tspan></text>
<text transform="translate(99.45 584.5) rotate(-45)" font-size="6.6" text-anchor="end">Jak2<tspan font-size="4.2" dy="-2.6">VF/+</tspan></text>
<text transform="translate(104.82 589.87) rotate(-45)" font-size="6.6" text-anchor="end">Ezh2<tspan font-size="4.2" dy="-2.6">-/-</tspan></text>
<text transform="translate(176.9 519.7)" font-size="8.4" text-anchor="middle" letter-spacing=".3">MEP</text>
<text transform="translate(127.5 550.7) rotate(-90) scale(.97 1)" font-size="8.3" text-anchor="middle">Total numbers (×10<tspan font-size="5" dy="-2.8">6</tspan><tspan dy="2.8">)</tspan></text>
<path d="M142.7 524.6L142.7 574.85" stroke="#000" stroke-width="1.1"/>
<path d="M139.6 574.3L142.7 574.3" stroke="#000" stroke-width="1.1"/>
<text transform="translate(137.1 576.68)" font-size="6.6" text-anchor="end">0</text>
<path d="M139.6 558.9L142.7 558.9" stroke="#000" stroke-width="1.1"/>
<text transform="translate(137.1 561.28)" font-size="6.6" text-anchor="end">2</text>
<path d="M139.6 543.5L142.7 543.5" stroke="#000" stroke-width="1.1"/>
<text transform="translate(137.1 545.88)" font-size="6.6" text-anchor="end">4</text>
<path d="M139.6 528.1L142.7 528.1" stroke="#000" stroke-width="1.1"/>
<text transform="translate(137.1 530.48)" font-size="6.6" text-anchor="end">6</text>
<path d="M142.15 574.3L214.5 574.3" stroke="#000" stroke-width="1.3"/>
<path d="M142.7 574.3L142.7 577.2" stroke="#000" stroke-width="1.1"/>
<path d="M160.25 574.3L160.25 577.2" stroke="#000" stroke-width="1.1"/>
<path d="M177.8 574.3L177.8 577.2" stroke="#000" stroke-width="1.1"/>
<path d="M195.35 574.3L195.35 577.2" stroke="#000" stroke-width="1.1"/>
<path d="M212.9 574.3L212.9 577.2" stroke="#000" stroke-width="1.1"/>
<rect x="147.6" y="571.14" width="7.1" height="3.16" fill="#000"/>
<path d="M151.15 571.14L151.15 570.91" stroke="#000" stroke-width="1.1"/>
<path d="M148.66 570.91L153.64 570.91" stroke="#000" stroke-width="1.1"/>
<rect x="164.9" y="571.53" width="7.1" height="2.77" fill="#000"/>
<path d="M168.45 571.53L168.45 571.3" stroke="#000" stroke-width="1.1"/>
<path d="M165.97 571.3L170.94 571.3" stroke="#000" stroke-width="1.1"/>
<path d="M185.8 541.5L185.8 535.11" stroke="#000" stroke-width="1.1"/>
<path d="M183.21 535.11L188.39 535.11" stroke="#000" stroke-width="1.1"/>
<rect x="182.1" y="541.5" width="7.4" height="26.03" fill="#bdbdbd"/>
<rect x="182.1" y="567.52" width="7.4" height="6.78" fill="#000"/>
<path d="M185.8 567.52L185.8 565.44" stroke="#000" stroke-width="1.1"/>
<path d="M183.21 565.44L188.39 565.44" stroke="#000" stroke-width="1.1"/>
<path d="M203.1 550.43L203.1 545.04" stroke="#000" stroke-width="1.1"/>
<path d="M200.51 545.04L205.69 545.04" stroke="#000" stroke-width="1.1"/>
<rect x="199.4" y="550.43" width="7.4" height="20.25" fill="#bdbdbd"/>
<rect x="199.4" y="570.68" width="7.4" height="3.62" fill="#000"/>
<path d="M203.1 570.68L203.1 569.91" stroke="#000" stroke-width="1.1"/>
<path d="M200.51 569.91L205.69 569.91" stroke="#000" stroke-width="1.1"/>
<text transform="translate(154.65 584.5) rotate(-45)" font-size="6.6" text-anchor="end">Control</text>
<text transform="translate(171.95 584.5) rotate(-45)" font-size="6.6" text-anchor="end">Ezh2<tspan font-size="4.2" dy="-2.6">-/-</tspan></text>
<text transform="translate(189.3 584.5) rotate(-45)" font-size="6.6" text-anchor="end">Jak2<tspan font-size="4.2" dy="-2.6">VF/+</tspan></text>
<text transform="translate(206.6 584.5) rotate(-45)" font-size="6.6" text-anchor="end">Jak2<tspan font-size="4.2" dy="-2.6">VF/+</tspan></text>
<text transform="translate(211.97 589.87) rotate(-45)" font-size="6.6" text-anchor="end">Ezh2<tspan font-size="4.2" dy="-2.6">-/-</tspan></text>
<text transform="translate(203 570.6)" font-size="6.5" text-anchor="middle" font-weight="bold">**</text>
<rect x="214.4" y="534.9" width="25.7" height="22.5" fill="#fff" stroke="#000" stroke-width="1"/>
<rect x="218" y="537" width="6.7" height="6.3" fill="#000"/>
<rect x="218" y="547.4" width="6.7" height="6.3" fill="#bdbdbd"/>
<text transform="translate(226.9 542.7)" font-size="5.5" style="fill:#222;stroke:none">BM</text>
<text transform="translate(226.9 552.9)" font-size="5.5" style="fill:#222;stroke:none">SPL</text>
<text transform="translate(249.3 506.2)" font-size="12" font-weight="bold">E</text>
<text transform="translate(336.4 507.2)" font-size="8.4" text-anchor="middle" letter-spacing=".22">BM progenitor colonies</text>
<text transform="translate(271.8 543.4) rotate(-90) scale(.91 1)" font-size="8.4" text-anchor="middle">Colonies/2×10<tspan font-size="5.2" dy="-2.9">4</tspan><tspan dy="2.9"> cells</tspan></text>
<path d="M293.6 511.9L293.6 574.95" stroke="#000" stroke-width="1.1"/>
<path d="M290.5 574.4L293.6 574.4" stroke="#000" stroke-width="1.1"/>
<text transform="translate(288 576.78)" font-size="6.6" text-anchor="end">0</text>
<path d="M290.5 554.66L293.6 554.66" stroke="#000" stroke-width="1.1"/>
<text transform="translate(288 557.04)" font-size="6.6" text-anchor="end">40</text>
<path d="M290.5 534.92L293.6 534.92" stroke="#000" stroke-width="1.1"/>
<text transform="translate(288 537.3)" font-size="6.6" text-anchor="end">80</text>
<path d="M290.5 515.18L293.6 515.18" stroke="#000" stroke-width="1.1"/>
<text transform="translate(288 517.56)" font-size="6.6" text-anchor="end">120</text>
<path d="M293.05 574.4L381.3 574.4" stroke="#000" stroke-width="1.3"/>
<path d="M293.6 574.4L293.6 577.3" stroke="#000" stroke-width="1.1"/>
<path d="M322.3 574.4L322.3 577.3" stroke="#000" stroke-width="1.1"/>
<path d="M350.7 574.4L350.7 577.3" stroke="#000" stroke-width="1.1"/>
<path d="M379.2 574.4L379.2 577.3" stroke="#000" stroke-width="1.1"/>
<path d="M300.47 569.56L300.47 569.07" stroke="#000" stroke-width="1"/>
<path d="M298.11 569.07L302.84 569.07" stroke="#000" stroke-width="1"/>
<rect x="297.9" y="569.56" width="5.15" height="4.84" fill="#c3c3c3"/>
<path d="M305.62 573.07L305.62 572.77" stroke="#000" stroke-width="1"/>
<path d="M303.26 572.77L307.99 572.77" stroke="#000" stroke-width="1"/>
<rect x="303.05" y="573.07" width="5.15" height="1.33" fill="#888888"/>
<path d="M310.77 561.47L310.77 560.48" stroke="#000" stroke-width="1"/>
<path d="M308.41 560.48L313.14 560.48" stroke="#000" stroke-width="1"/>
<rect x="308.2" y="561.47" width="5.15" height="12.93" fill="#3d3d3d"/>
<path d="M315.92 573.07L315.92 572.77" stroke="#000" stroke-width="1"/>
<path d="M313.56 572.77L318.29 572.77" stroke="#000" stroke-width="1"/>
<rect x="313.35" y="573.07" width="5.15" height="1.33" fill="#000"/>
<path d="M328.68 531.86L328.68 531.12" stroke="#000" stroke-width="1"/>
<path d="M326.31 531.12L331.04 531.12" stroke="#000" stroke-width="1"/>
<rect x="326.1" y="531.86" width="5.15" height="42.54" fill="#c3c3c3"/>
<path d="M333.82 559.05L333.82 558.31" stroke="#000" stroke-width="1"/>
<path d="M331.46 558.31L336.19 558.31" stroke="#000" stroke-width="1"/>
<rect x="331.25" y="559.05" width="5.15" height="15.35" fill="#888888"/>
<path d="M338.98 523.77L338.98 522.78" stroke="#000" stroke-width="1"/>
<path d="M336.61 522.78L341.34 522.78" stroke="#000" stroke-width="1"/>
<rect x="336.4" y="523.77" width="5.15" height="50.63" fill="#3d3d3d"/>
<path d="M344.12 552.34L344.12 550.86" stroke="#000" stroke-width="1"/>
<path d="M341.76 550.86L346.49 550.86" stroke="#000" stroke-width="1"/>
<rect x="341.55" y="552.34" width="5.15" height="22.06" fill="#000"/>
<path d="M357.47 573.96L357.47 573.81" stroke="#000" stroke-width="1"/>
<path d="M355.11 573.81L359.84 573.81" stroke="#000" stroke-width="1"/>
<rect x="354.9" y="573.96" width="5.15" height=".44" fill="#c3c3c3"/>
<path d="M362.62 566.85L362.62 564.38" stroke="#000" stroke-width="1"/>
<path d="M360.26 564.38L364.99 564.38" stroke="#000" stroke-width="1"/>
<rect x="360.05" y="566.85" width="5.15" height="7.55" fill="#888888"/>
<path d="M367.77 572.23L367.77 571.74" stroke="#000" stroke-width="1"/>
<path d="M365.41 571.74L370.14 571.74" stroke="#000" stroke-width="1"/>
<rect x="365.2" y="572.23" width="5.15" height="2.17" fill="#3d3d3d"/>
<path d="M372.92 559.6L372.92 558.85" stroke="#000" stroke-width="1"/>
<path d="M370.56 558.85L375.29 558.85" stroke="#000" stroke-width="1"/>
<rect x="370.35" y="559.6" width="5.15" height="14.8" fill="#000"/>
<text transform="translate(307.9 585.3)" font-size="6.7" text-anchor="middle" style="stroke-width:.08px">BFU-E</text>
<text transform="translate(336.7 585.3)" font-size="6.7" text-anchor="middle" style="stroke-width:.08px">CFU-GM</text>
<text transform="translate(365.2 585.3)" font-size="6.7" text-anchor="middle" style="stroke-width:.08px">CFU-</text>
<text transform="translate(365.2 592.6)" font-size="6.7" text-anchor="middle" style="stroke-width:.08px">GEMM</text>
<path d="M297.3 549.5L318.1 549.5" stroke="#000" stroke-width="1.15"/>
<text transform="translate(305.9 549.65)" font-size="7" text-anchor="middle" font-weight="bold">*</text>
<text transform="translate(309.5 549.65)" font-size="7" text-anchor="middle" font-weight="bold">*</text>
<path d="M308.2 556.3L318.1 556.3" stroke="#000" stroke-width="1.15"/>
<text transform="translate(312.8 556.45)" font-size="7" text-anchor="middle" font-weight="bold">*</text>
<text transform="translate(316.4 556.45)" font-size="7" text-anchor="middle" font-weight="bold">*</text>
<path d="M327.7 519.6L349.3 519.6" stroke="#000" stroke-width="1.15"/>
<text transform="translate(336.7 519.75)" font-size="7" text-anchor="middle" font-weight="bold">*</text>
<text transform="translate(340.3 519.75)" font-size="7" text-anchor="middle" font-weight="bold">*</text>
<path d="M340.2 523.4L349.3 523.4" stroke="#000" stroke-width="1.15"/>
<text transform="translate(342.9 523.55)" font-size="7" text-anchor="middle" font-weight="bold">*</text>
<text transform="translate(346.5 523.55)" font-size="7" text-anchor="middle" font-weight="bold">*</text>
<path d="M353.7 545.9L374.9 545.9" stroke="#000" stroke-width="1.15"/>
<text transform="translate(362.4 546.05)" font-size="7" text-anchor="middle" font-weight="bold">*</text>
<text transform="translate(366 546.05)" font-size="7" text-anchor="middle" font-weight="bold">*</text>
<path d="M364.7 555.1L374.9 555.1" stroke="#000" stroke-width="1.15"/>
<text transform="translate(367.6 555.25)" font-size="7" text-anchor="middle" font-weight="bold">*</text>
<text transform="translate(371.2 555.25)" font-size="7" text-anchor="middle" font-weight="bold">*</text>
<text transform="translate(467.8 507.2)" font-size="8.4" text-anchor="middle" letter-spacing=".22">SPL progenitor colonies</text>
<text transform="translate(402.5 542.7) rotate(-90) scale(.91 1)" font-size="8.4" text-anchor="middle">Colonies/1×10<tspan font-size="5.2" dy="-2.9">5</tspan><tspan dy="2.9"> cells</tspan></text>
<path d="M424.5 511.7L424.5 574.95" stroke="#000" stroke-width="1.1"/>
<path d="M421.4 574.4L424.5 574.4" stroke="#000" stroke-width="1.1"/>
<text transform="translate(418.9 576.78)" font-size="6.6" text-anchor="end">0</text>
<path d="M421.4 559.4L424.5 559.4" stroke="#000" stroke-width="1.1"/>
<text transform="translate(418.9 561.78)" font-size="6.6" text-anchor="end">25</text>
<path d="M421.4 544.4L424.5 544.4" stroke="#000" stroke-width="1.1"/>
<text transform="translate(418.9 546.78)" font-size="6.6" text-anchor="end">50</text>
<path d="M421.4 529.4L424.5 529.4" stroke="#000" stroke-width="1.1"/>
<text transform="translate(418.9 531.78)" font-size="6.6" text-anchor="end">75</text>
<path d="M421.4 514.4L424.5 514.4" stroke="#000" stroke-width="1.1"/>
<text transform="translate(418.9 516.78)" font-size="6.6" text-anchor="end">100</text>
<path d="M423.95 574.4L513.8 574.4" stroke="#000" stroke-width="1.3"/>
<path d="M424.5 574.4L424.5 577.3" stroke="#000" stroke-width="1.1"/>
<path d="M453.2 574.4L453.2 577.3" stroke="#000" stroke-width="1.1"/>
<path d="M481.9 574.4L481.9 577.3" stroke="#000" stroke-width="1.1"/>
<path d="M510.7 574.4L510.7 577.3" stroke="#000" stroke-width="1.1"/>
<path d="M431.02 571.16L431.02 570.68" stroke="#000" stroke-width="1"/>
<path d="M428.7 570.68L433.35 570.68" stroke="#000" stroke-width="1"/>
<rect x="428.5" y="571.16" width="5.05" height="3.24" fill="#c3c3c3"/>
<path d="M436.07 573.62L436.07 573.44" stroke="#000" stroke-width="1"/>
<path d="M433.75 573.44L438.4 573.44" stroke="#000" stroke-width="1"/>
<rect x="433.55" y="573.62" width="5.05" height=".78" fill="#888888"/>
<path d="M441.12 558.8L441.12 556.4" stroke="#000" stroke-width="1"/>
<path d="M438.8 556.4L443.45 556.4" stroke="#000" stroke-width="1"/>
<rect x="438.6" y="558.8" width="5.05" height="15.6" fill="#3d3d3d"/>
<path d="M446.17 573.86L446.17 573.68" stroke="#000" stroke-width="1"/>
<path d="M443.85 573.68L448.5 573.68" stroke="#000" stroke-width="1"/>
<rect x="443.65" y="573.86" width="5.05" height=".54" fill="#000"/>
<path d="M459.82 567.14L459.82 566.66" stroke="#000" stroke-width="1"/>
<path d="M457.5 566.66L462.15 566.66" stroke="#000" stroke-width="1"/>
<rect x="457.3" y="567.14" width="5.05" height="7.26" fill="#c3c3c3"/>
<path d="M464.88 571.16L464.88 570.68" stroke="#000" stroke-width="1"/>
<path d="M462.55 570.68L467.2 570.68" stroke="#000" stroke-width="1"/>
<rect x="462.35" y="571.16" width="5.05" height="3.24" fill="#888888"/>
<path d="M469.93 536.72L469.93 535.52" stroke="#000" stroke-width="1"/>
<path d="M467.6 535.52L472.25 535.52" stroke="#000" stroke-width="1"/>
<rect x="467.4" y="536.72" width="5.05" height="37.68" fill="#3d3d3d"/>
<path d="M474.97 535.4L474.97 531.38" stroke="#000" stroke-width="1"/>
<path d="M472.65 531.38L477.3 531.38" stroke="#000" stroke-width="1"/>
<rect x="472.45" y="535.4" width="5.05" height="39" fill="#000"/>
<path d="M488.92 574.04L488.92 573.92" stroke="#000" stroke-width="1"/>
<path d="M486.6 573.92L491.25 573.92" stroke="#000" stroke-width="1"/>
<rect x="486.4" y="574.04" width="5.05" height=".36" fill="#c3c3c3"/>
<path d="M493.97 571.7L493.97 571.22" stroke="#000" stroke-width="1"/>
<path d="M491.65 571.22L496.3 571.22" stroke="#000" stroke-width="1"/>
<rect x="491.45" y="571.7" width="5.05" height="2.7" fill="#888888"/>
<path d="M499.02 573.8L499.02 573.62" stroke="#000" stroke-width="1"/>
<path d="M496.7 573.62L501.35 573.62" stroke="#000" stroke-width="1"/>
<rect x="496.5" y="573.8" width="5.05" height=".6" fill="#3d3d3d"/>
<path d="M504.07 548L504.07 545.3" stroke="#000" stroke-width="1"/>
<path d="M501.75 545.3L506.4 545.3" stroke="#000" stroke-width="1"/>
<rect x="501.55" y="548" width="5.05" height="26.4" fill="#000"/>
<text transform="translate(439.2 585.3)" font-size="6.7" text-anchor="middle" style="stroke-width:.08px">BFU-E</text>
<text transform="translate(467.5 585.3)" font-size="6.7" text-anchor="middle" style="stroke-width:.08px">CFU-GM</text>
<text transform="translate(496.3 585.3)" font-size="6.7" text-anchor="middle" style="stroke-width:.08px">CFU-</text>
<text transform="translate(496.3 592.6)" font-size="6.7" text-anchor="middle" style="stroke-width:.08px">GEMM</text>
<path d="M430.3 546.2L452.3 546.2" stroke="#000" stroke-width="1.15"/>
<text transform="translate(438.8 546.35)" font-size="7" text-anchor="middle" font-weight="bold">*</text>
<text transform="translate(442.4 546.35)" font-size="7" text-anchor="middle" font-weight="bold">*</text>
<path d="M439.8 553.4L447.4 553.4" stroke="#000" stroke-width="1.15"/>
<text transform="translate(441.5 553.55)" font-size="7" text-anchor="middle" font-weight="bold">*</text>
<text transform="translate(445.1 553.55)" font-size="7" text-anchor="middle" font-weight="bold">*</text>
<path d="M456.7 528.7L479.7 528.7" stroke="#000" stroke-width="1.15"/>
<text transform="translate(465.7 528.85)" font-size="7" text-anchor="middle" font-weight="bold">*</text>
<text transform="translate(469.3 528.85)" font-size="7" text-anchor="middle" font-weight="bold">*</text>
<path d="M487.7 536.2L509.9 536.2" stroke="#000" stroke-width="1.15"/>
<text transform="translate(496.7 536.35)" font-size="7" text-anchor="middle" font-weight="bold">*</text>
<text transform="translate(500.3 536.35)" font-size="7" text-anchor="middle" font-weight="bold">*</text>
<path d="M498.5 543.5L509.9 543.5" stroke="#000" stroke-width="1.15"/>
<text transform="translate(501.2 543.65)" font-size="7" text-anchor="middle" font-weight="bold">*</text>
<text transform="translate(504.8 543.65)" font-size="7" text-anchor="middle" font-weight="bold">*</text>
<text transform="translate(5.9 618.2)" font-size="12" font-weight="bold">F</text>
<text transform="translate(93.2 618.8)" font-size="8.4" text-anchor="middle">BM CFU-E (-Epo)</text>
<text transform="translate(27.7 654.2) rotate(-90) scale(.92 1)" font-size="8.4" text-anchor="middle">Colonies/1×10<tspan font-size="5.2" dy="-2.9">5</tspan><tspan dy="2.9"> cells</tspan></text>
<path d="M49.8 623.3L49.8 685.55" stroke="#000" stroke-width="1.1"/>
<path d="M46.7 685L49.8 685" stroke="#000" stroke-width="1.1"/>
<text transform="translate(44.2 687.38)" font-size="6.6" text-anchor="end">0</text>
<path d="M46.7 673.18L49.8 673.18" stroke="#000" stroke-width="1.1"/>
<text transform="translate(44.2 675.56)" font-size="6.6" text-anchor="end">50</text>
<path d="M46.7 661.36L49.8 661.36" stroke="#000" stroke-width="1.1"/>
<text transform="translate(44.2 663.74)" font-size="6.6" text-anchor="end">100</text>
<path d="M46.7 649.54L49.8 649.54" stroke="#000" stroke-width="1.1"/>
<text transform="translate(44.2 651.92)" font-size="6.6" text-anchor="end">150</text>
<path d="M46.7 637.72L49.8 637.72" stroke="#000" stroke-width="1.1"/>
<text transform="translate(44.2 640.1)" font-size="6.6" text-anchor="end">200</text>
<path d="M46.7 625.9L49.8 625.9" stroke="#000" stroke-width="1.1"/>
<text transform="translate(44.2 628.28)" font-size="6.6" text-anchor="end">250</text>
<path d="M49.25 685L139.9 685" stroke="#000" stroke-width="1.3"/>
<path d="M49.8 685L49.8 687.9" stroke="#000" stroke-width="1.1"/>
<path d="M71.5 685L71.5 687.9" stroke="#000" stroke-width="1.1"/>
<path d="M93.2 685L93.2 687.9" stroke="#000" stroke-width="1.1"/>
<path d="M114.9 685L114.9 687.9" stroke="#000" stroke-width="1.1"/>
<path d="M136.6 685L136.6 687.9" stroke="#000" stroke-width="1.1"/>
<path d="M60.9 684.65L60.9 684.41" stroke="#000" stroke-width="1.1"/>
<path d="M58.8 684.41L63 684.41" stroke="#000" stroke-width="1.1"/>
<rect x="56.6" y="684.65" width="8.6" height=".35" fill="#c3c3c3"/>
<path d="M82.6 684.05L82.6 683.58" stroke="#000" stroke-width="1.1"/>
<path d="M80.5 683.58L84.7 683.58" stroke="#000" stroke-width="1.1"/>
<rect x="78.3" y="684.05" width="8.6" height=".95" fill="#888888"/>
<path d="M104.4 646.23L104.4 634.65" stroke="#000" stroke-width="1.1"/>
<path d="M102.3 634.65L106.5 634.65" stroke="#000" stroke-width="1.1"/>
<rect x="100.1" y="646.23" width="8.6" height="38.77" fill="#3d3d3d"/>
<path d="M126 681.76L126 680.58" stroke="#000" stroke-width="1.1"/>
<path d="M123.9 680.58L128.1 680.58" stroke="#000" stroke-width="1.1"/>
<rect x="121.7" y="681.76" width="8.6" height="3.24" fill="#000"/>
<text transform="translate(64.4 695.2) rotate(-45)" font-size="6.6" text-anchor="end">Control</text>
<text transform="translate(86.1 695.2) rotate(-45)" font-size="6.6" text-anchor="end">Ezh2<tspan font-size="4.2" dy="-2.6">-/-</tspan></text>
<text transform="translate(107.9 695.2) rotate(-45)" font-size="6.6" text-anchor="end">Jak2<tspan font-size="4.2" dy="-2.6">VF/+</tspan></text>
<text transform="translate(129.5 695.2) rotate(-45)" font-size="6.6" text-anchor="end">Jak2<tspan font-size="4.2" dy="-2.6">VF/+</tspan></text>
<text transform="translate(134.87 700.57) rotate(-45)" font-size="6.6" text-anchor="end">Ezh2<tspan font-size="4.2" dy="-2.6">-/-</tspan></text>
<path d="M60 634.7L129.3 634.7" stroke="#000" stroke-width="1.15"/>
<text transform="translate(92.6 635.1)" font-size="7" text-anchor="middle" font-weight="bold">*</text>
<text transform="translate(96.2 635.1)" font-size="7" text-anchor="middle" font-weight="bold">*</text>
<path d="M107.4 642L129.3 642" stroke="#000" stroke-width="1.15"/>
<text transform="translate(116.5 642.4)" font-size="7" text-anchor="middle" font-weight="bold">*</text>
<text transform="translate(120.1 642.4)" font-size="7" text-anchor="middle" font-weight="bold">*</text>
<text transform="translate(226.1 618.8)" font-size="8.4" text-anchor="middle">SP CFU-E (-Epo)</text>
<text transform="translate(160.5 654.2) rotate(-90) scale(.92 1)" font-size="8.4" text-anchor="middle">Colonies/1×10<tspan font-size="5.2" dy="-2.9">5</tspan><tspan dy="2.9"> cells</tspan></text>
<path d="M182.5 623.3L182.5 685.55" stroke="#000" stroke-width="1.1"/>
<path d="M179.4 685L182.5 685" stroke="#000" stroke-width="1.1"/>
<text transform="translate(176.9 687.38)" font-size="6.6" text-anchor="end">0</text>
<path d="M179.4 670.25L182.5 670.25" stroke="#000" stroke-width="1.1"/>
<text transform="translate(176.9 672.63)" font-size="6.6" text-anchor="end">100</text>
<path d="M179.4 655.5L182.5 655.5" stroke="#000" stroke-width="1.1"/>
<text transform="translate(176.9 657.88)" font-size="6.6" text-anchor="end">200</text>
<path d="M179.4 640.75L182.5 640.75" stroke="#000" stroke-width="1.1"/>
<text transform="translate(176.9 643.13)" font-size="6.6" text-anchor="end">300</text>
<path d="M179.4 626L182.5 626" stroke="#000" stroke-width="1.1"/>
<text transform="translate(176.9 628.38)" font-size="6.6" text-anchor="end">400</text>
<path d="M181.95 685L272.6 685" stroke="#000" stroke-width="1.3"/>
<path d="M182.5 685L182.5 687.9" stroke="#000" stroke-width="1.1"/>
<path d="M204.3 685L204.3 687.9" stroke="#000" stroke-width="1.1"/>
<path d="M226.1 685L226.1 687.9" stroke="#000" stroke-width="1.1"/>
<path d="M247.9 685L247.9 687.9" stroke="#000" stroke-width="1.1"/>
<path d="M269.7 685L269.7 687.9" stroke="#000" stroke-width="1.1"/>
<path d="M237.2 643.26L237.2 636.33" stroke="#000" stroke-width="1.1"/>
<path d="M235.1 636.33L239.3 636.33" stroke="#000" stroke-width="1.1"/>
<rect x="232.9" y="643.26" width="8.6" height="41.74" fill="#3d3d3d"/>
<path d="M258.8 683.97L258.8 682.93" stroke="#000" stroke-width="1.1"/>
<path d="M256.7 682.93L260.9 682.93" stroke="#000" stroke-width="1.1"/>
<rect x="254.5" y="683.97" width="8.6" height="1.03" fill="#000"/>
<text transform="translate(196.9 695.2) rotate(-45)" font-size="6.6" text-anchor="end">Control</text>
<text transform="translate(218.7 695.2) rotate(-45)" font-size="6.6" text-anchor="end">Ezh2<tspan font-size="4.2" dy="-2.6">-/-</tspan></text>
<text transform="translate(240.7 695.2) rotate(-45)" font-size="6.6" text-anchor="end">Jak2<tspan font-size="4.2" dy="-2.6">VF/+</tspan></text>
<text transform="translate(262.3 695.2) rotate(-45)" font-size="6.6" text-anchor="end">Jak2<tspan font-size="4.2" dy="-2.6">VF/+</tspan></text>
<text transform="translate(267.67 700.57) rotate(-45)" font-size="6.6" text-anchor="end">Ezh2<tspan font-size="4.2" dy="-2.6">-/-</tspan></text>
<path d="M192.5 632.7L263.2 632.7" stroke="#000" stroke-width="1.15"/>
<text transform="translate(226 633.1)" font-size="7" text-anchor="middle" font-weight="bold">*</text>
<text transform="translate(229.6 633.1)" font-size="7" text-anchor="middle" font-weight="bold">*</text>
<path d="M240.1 639.4L262.4 639.4" stroke="#000" stroke-width="1.15"/>
<text transform="translate(249.4 639.8)" font-size="7" text-anchor="middle" font-weight="bold">*</text>
<text transform="translate(253 639.8)" font-size="7" text-anchor="middle" font-weight="bold">*</text>
<text transform="translate(288.35 618.3)" font-size="12" font-weight="bold">G</text>
<text transform="translate(375.4 618.8)" font-size="8.4" text-anchor="middle">CFU-Mk</text>
<text transform="translate(312.2 654.2) rotate(-90) scale(.92 1)" font-size="8.4" text-anchor="middle">Colonies/1×10<tspan font-size="5.2" dy="-2.9">5</tspan><tspan dy="2.9"> cells</tspan></text>
<path d="M332.9 623.3L332.9 685.55" stroke="#000" stroke-width="1.1"/>
<path d="M329.8 685L332.9 685" stroke="#000" stroke-width="1.1"/>
<text transform="translate(327.3 687.38)" font-size="6.6" text-anchor="end">0</text>
<path d="M329.8 673.32L332.9 673.32" stroke="#000" stroke-width="1.1"/>
<text transform="translate(327.3 675.7)" font-size="6.6" text-anchor="end">50</text>
<path d="M329.8 661.64L332.9 661.64" stroke="#000" stroke-width="1.1"/>
<text transform="translate(327.3 664.02)" font-size="6.6" text-anchor="end">100</text>
<path d="M329.8 649.96L332.9 649.96" stroke="#000" stroke-width="1.1"/>
<text transform="translate(327.3 652.34)" font-size="6.6" text-anchor="end">150</text>
<path d="M329.8 638.28L332.9 638.28" stroke="#000" stroke-width="1.1"/>
<text transform="translate(327.3 640.66)" font-size="6.6" text-anchor="end">200</text>
<path d="M329.8 626.6L332.9 626.6" stroke="#000" stroke-width="1.1"/>
<text transform="translate(327.3 628.98)" font-size="6.6" text-anchor="end">250</text>
<path d="M332.35 685L420.4 685" stroke="#000" stroke-width="1.3"/>
<path d="M332.9 685L332.9 687.9" stroke="#000" stroke-width="1.1"/>
<path d="M354.4 685L354.4 687.9" stroke="#000" stroke-width="1.1"/>
<path d="M375.8 685L375.8 687.9" stroke="#000" stroke-width="1.1"/>
<path d="M397.2 685L397.2 687.9" stroke="#000" stroke-width="1.1"/>
<path d="M418.6 685L418.6 687.9" stroke="#000" stroke-width="1.1"/>
<path d="M343.9 669.65L343.9 667.55" stroke="#000" stroke-width="1.1"/>
<path d="M341.8 667.55L346 667.55" stroke="#000" stroke-width="1.1"/>
<rect x="339.6" y="669.65" width="8.6" height="15.35" fill="#c3c3c3"/>
<path d="M365.5 666.15L365.5 663.81" stroke="#000" stroke-width="1.1"/>
<path d="M363.4 663.81L367.6 663.81" stroke="#000" stroke-width="1.1"/>
<rect x="361.2" y="666.15" width="8.6" height="18.85" fill="#888888"/>
<path d="M386.8 663.51L386.8 662.81" stroke="#000" stroke-width="1.1"/>
<path d="M384.7 662.81L388.9 662.81" stroke="#000" stroke-width="1.1"/>
<rect x="382.5" y="663.51" width="8.6" height="21.49" fill="#3d3d3d"/>
<path d="M408.3 644L408.3 637.46" stroke="#000" stroke-width="1.1"/>
<path d="M406.2 637.46L410.4 637.46" stroke="#000" stroke-width="1.1"/>
<rect x="404" y="644" width="8.6" height="41" fill="#000"/>
<text transform="translate(347.4 695.2) rotate(-45)" font-size="6.6" text-anchor="end">Control</text>
<text transform="translate(369 695.2) rotate(-45)" font-size="6.6" text-anchor="end">Ezh2<tspan font-size="4.2" dy="-2.6">-/-</tspan></text>
<text transform="translate(390.3 695.2) rotate(-45)" font-size="6.6" text-anchor="end">Jak2<tspan font-size="4.2" dy="-2.6">VF/+</tspan></text>
<text transform="translate(411.8 695.2) rotate(-45)" font-size="6.6" text-anchor="end">Jak2<tspan font-size="4.2" dy="-2.6">VF/+</tspan></text>
<text transform="translate(417.17 700.57) rotate(-45)" font-size="6.6" text-anchor="end">Ezh2<tspan font-size="4.2" dy="-2.6">-/-</tspan></text>
<path d="M343.8 633.7L407.2 633.7" stroke="#000" stroke-width="1.15"/>
<text transform="translate(375.3 634.1)" font-size="7" text-anchor="middle" font-weight="bold">*</text>
<path d="M382.8 640.9L406.2 640.9" stroke="#000" stroke-width="1.15"/>
<text transform="translate(394.4 641.3)" font-size="7" text-anchor="middle" font-weight="bold">*</text>
<path d="M343 660.1L366.1 660.1" stroke="#000" stroke-width="1.15"/>
<text transform="translate(354.5 658.1)" font-size="6.4" text-anchor="middle" style="stroke:none">ns</text>
<rect x="429.9" y="636.6" width="50.1" height="40.1" fill="#fff" stroke="#000" stroke-width=".9"/>
<rect x="433.1" y="640.4" width="6.3" height="5.9" fill="#c3c3c3"/>
<rect x="433.1" y="649.4" width="6.3" height="5.9" fill="#888888"/>
<rect x="433.1" y="658.3" width="6.3" height="5.9" fill="#3d3d3d"/>
<rect x="433.1" y="667" width="6.3" height="5.9" fill="#000"/>
<text transform="translate(441 645.5)" font-size="5.5" style="fill:#222;stroke:none">Control</text>
<text transform="translate(441 654.4)" font-size="5.5" style="fill:#222;stroke:none">Ezh2<tspan font-size="3" dy="-2.2">-/-</tspan></text>
<text transform="translate(441 663.3)" font-size="5.5" style="fill:#222;stroke:none">Jak2<tspan font-size="3" dy="-2.2">VF/+</tspan></text>
<text transform="translate(441 672.3)" font-size="5.5" style="fill:#222;stroke:none">Jak2<tspan font-size="3" dy="-2.2">VF/+</tspan><tspan dy="2.2"> Ezh2</tspan><tspan font-size="3" dy="-2.2">-/-</tspan></text>
</svg>
</body></html>
